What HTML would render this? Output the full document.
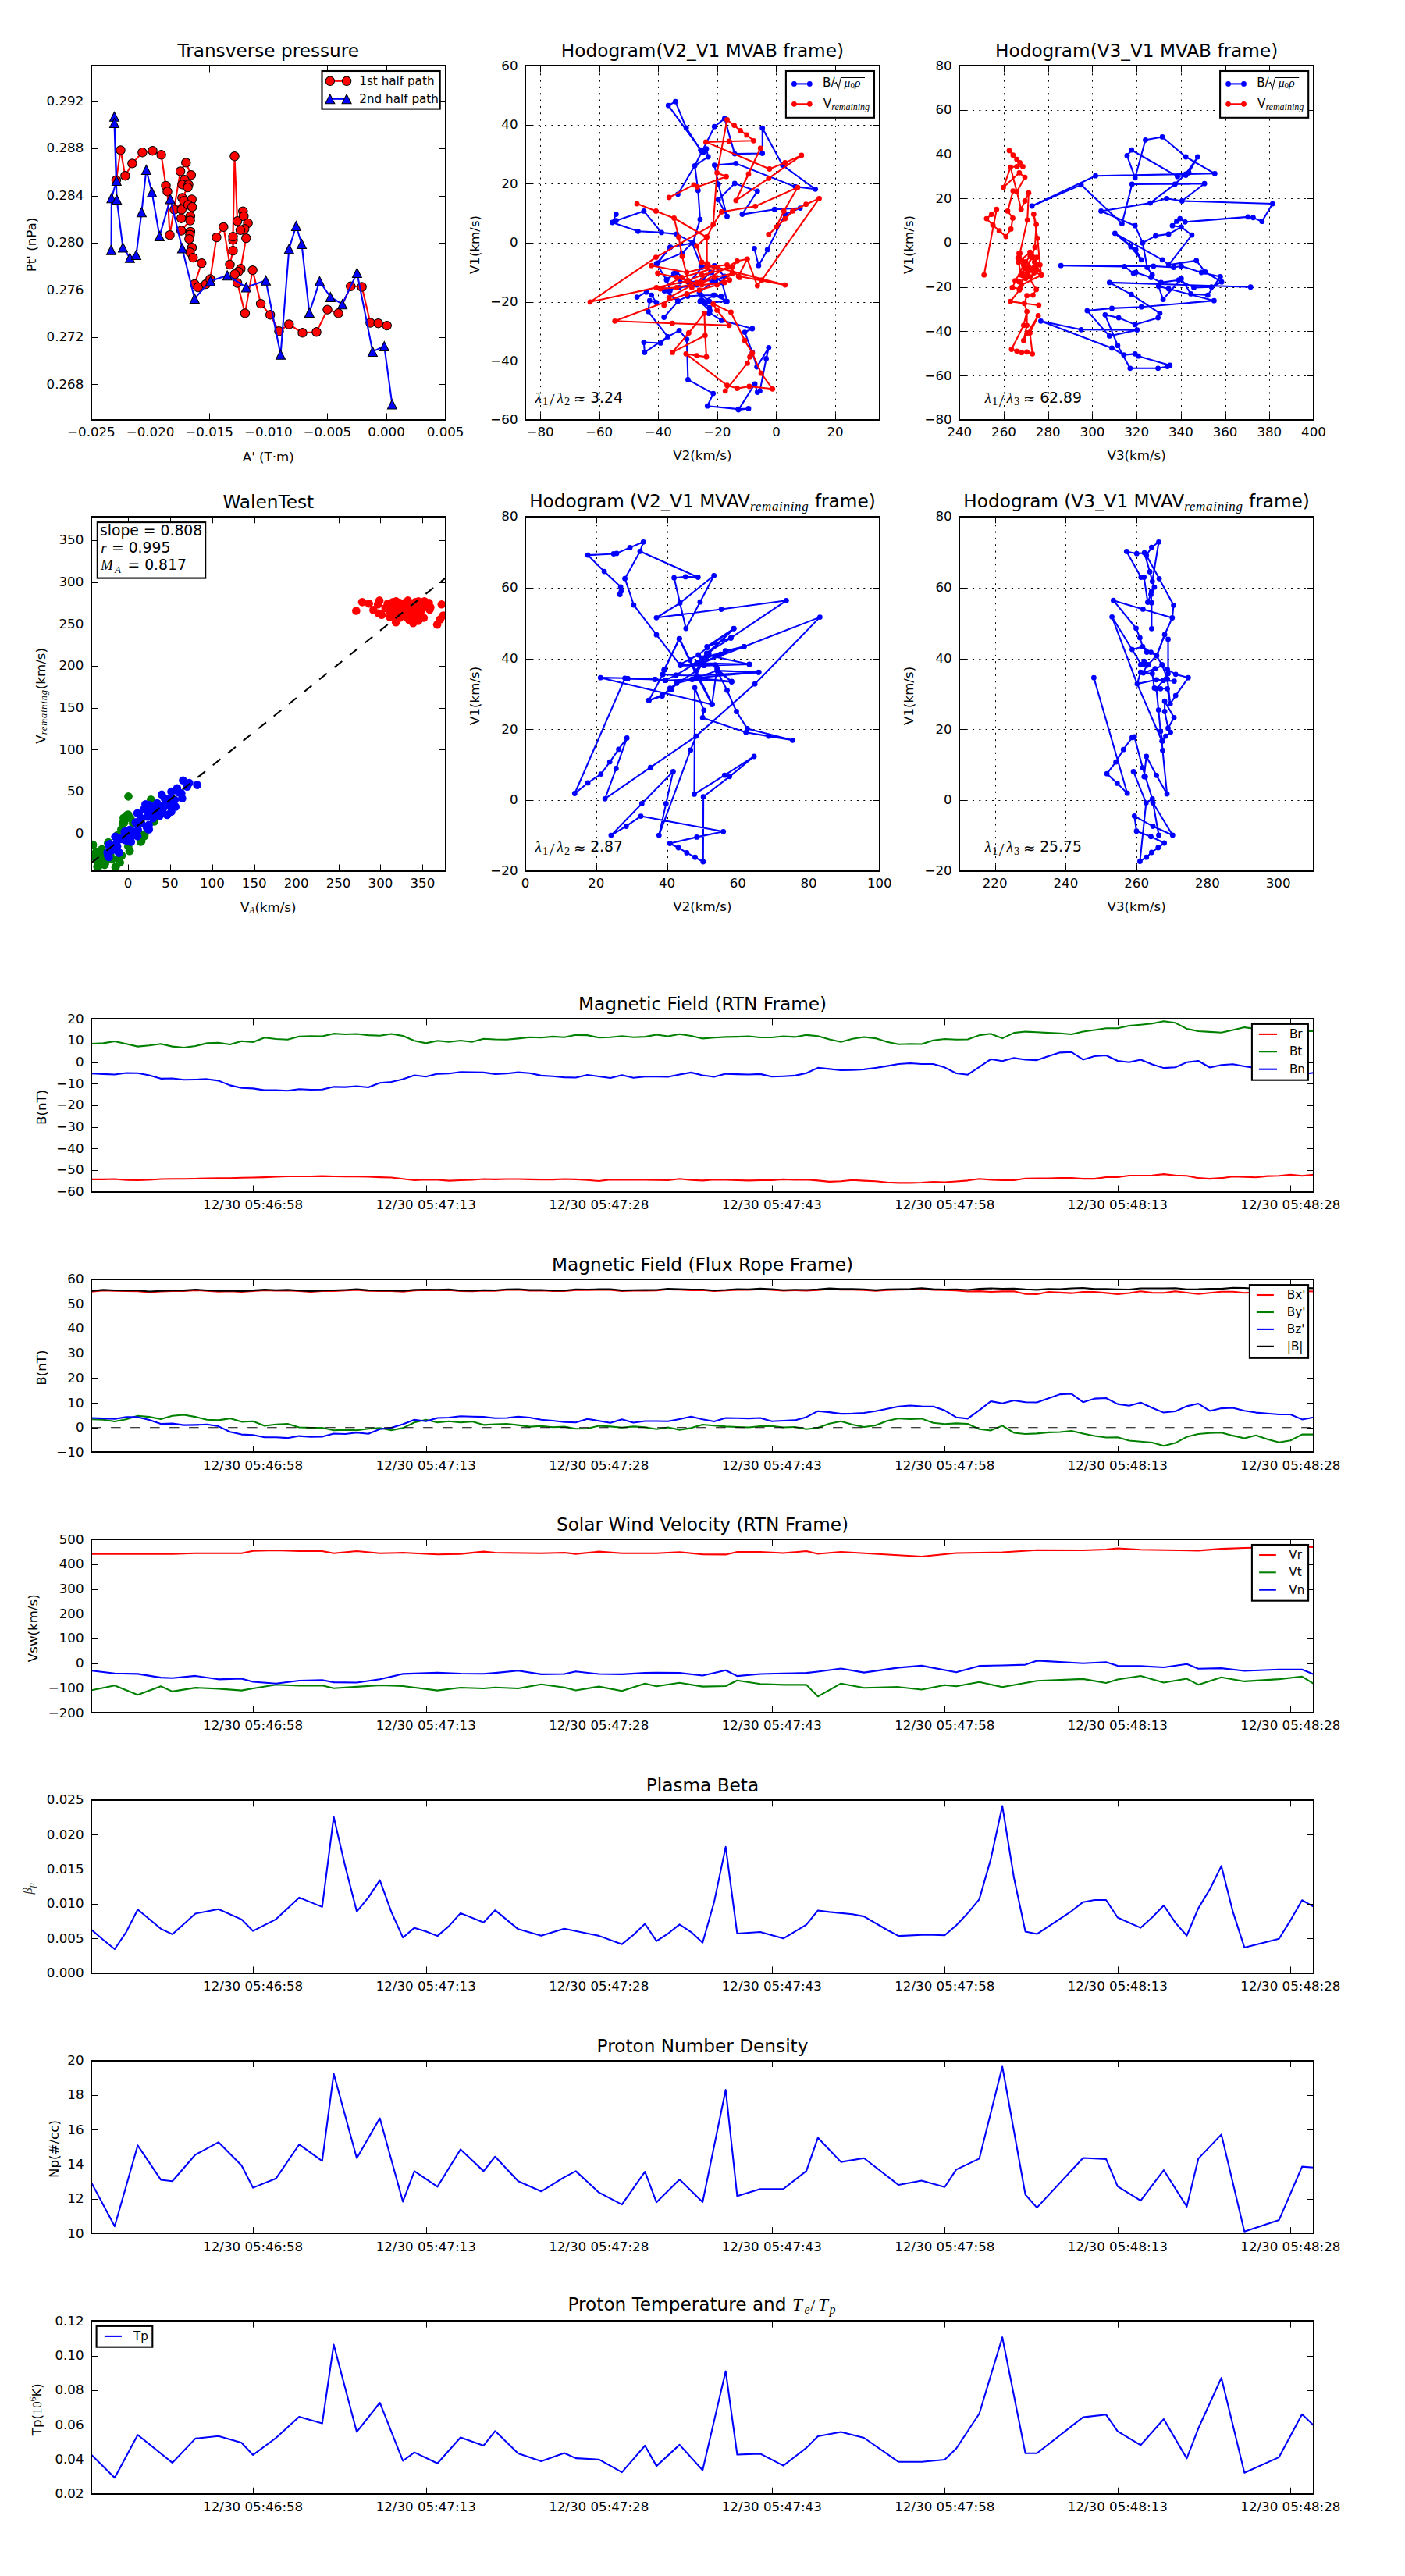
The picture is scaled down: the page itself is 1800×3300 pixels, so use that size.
<!DOCTYPE html>
<html><head><meta charset="utf-8"><style>
html,body{margin:0;padding:0;background:#fff;}
svg{display:block;}
</style></head><body>
<svg width="1800" height="3300" viewBox="0 0 1800 3300" font-family="'DejaVu Sans', 'Liberation Sans', sans-serif">
<defs><clipPath id="cA"><rect x="116.9" y="84.2" width="453.7" height="453.6"/></clipPath>
<clipPath id="cB"><rect x="673.1" y="84.2" width="453.7" height="453.6"/></clipPath>
<clipPath id="cC"><rect x="1229.3" y="84.2" width="453.7" height="453.6"/></clipPath>
<clipPath id="cD"><rect x="116.9" y="662" width="453.7" height="453.8"/></clipPath>
<clipPath id="cE"><rect x="673.1" y="662" width="453.7" height="453.8"/></clipPath>
<clipPath id="cF"><rect x="1229.3" y="662" width="453.7" height="453.8"/></clipPath>
<clipPath id="cT1"><rect x="117.1" y="1305.1" width="1565.8" height="221.7"/></clipPath>
<clipPath id="cT2"><rect x="117.1" y="1638.75" width="1565.8" height="221.7"/></clipPath>
<clipPath id="cT3"><rect x="117.1" y="1972.4" width="1565.8" height="221.7"/></clipPath>
<clipPath id="cT4"><rect x="117.1" y="2306.05" width="1565.8" height="221.7"/></clipPath>
<clipPath id="cT5"><rect x="117.1" y="2639.7" width="1565.8" height="221.7"/></clipPath>
<clipPath id="cT6"><rect x="117.1" y="2973.35" width="1565.8" height="221.7"/></clipPath></defs>
<rect width="1800" height="3300" fill="#fff"/>
<line x1="692.5" y1="537.8" x2="692.5" y2="84.2" stroke="#000" stroke-width="1" stroke-dasharray="2.08,6.25"/>
<line x1="768.5" y1="537.8" x2="768.5" y2="84.2" stroke="#000" stroke-width="1" stroke-dasharray="2.08,6.25"/>
<line x1="843.5" y1="537.8" x2="843.5" y2="84.2" stroke="#000" stroke-width="1" stroke-dasharray="2.08,6.25"/>
<line x1="919.5" y1="537.8" x2="919.5" y2="84.2" stroke="#000" stroke-width="1" stroke-dasharray="2.08,6.25"/>
<line x1="994.5" y1="537.8" x2="994.5" y2="84.2" stroke="#000" stroke-width="1" stroke-dasharray="2.08,6.25"/>
<line x1="1070.5" y1="537.8" x2="1070.5" y2="84.2" stroke="#000" stroke-width="1" stroke-dasharray="2.08,6.25"/>
<line x1="673.1" y1="462.5" x2="1126.8" y2="462.5" stroke="#000" stroke-width="1" stroke-dasharray="2.08,6.25"/>
<line x1="673.1" y1="387.5" x2="1126.8" y2="387.5" stroke="#000" stroke-width="1" stroke-dasharray="2.08,6.25"/>
<line x1="673.1" y1="311.5" x2="1126.8" y2="311.5" stroke="#000" stroke-width="1" stroke-dasharray="2.08,6.25"/>
<line x1="673.1" y1="235.5" x2="1126.8" y2="235.5" stroke="#000" stroke-width="1" stroke-dasharray="2.08,6.25"/>
<line x1="673.1" y1="160.5" x2="1126.8" y2="160.5" stroke="#000" stroke-width="1" stroke-dasharray="2.08,6.25"/>
<line x1="1286.5" y1="537.8" x2="1286.5" y2="84.2" stroke="#000" stroke-width="1" stroke-dasharray="2.08,6.25"/>
<line x1="1343.5" y1="537.8" x2="1343.5" y2="84.2" stroke="#000" stroke-width="1" stroke-dasharray="2.08,6.25"/>
<line x1="1399.5" y1="537.8" x2="1399.5" y2="84.2" stroke="#000" stroke-width="1" stroke-dasharray="2.08,6.25"/>
<line x1="1456.5" y1="537.8" x2="1456.5" y2="84.2" stroke="#000" stroke-width="1" stroke-dasharray="2.08,6.25"/>
<line x1="1513.5" y1="537.8" x2="1513.5" y2="84.2" stroke="#000" stroke-width="1" stroke-dasharray="2.08,6.25"/>
<line x1="1570.5" y1="537.8" x2="1570.5" y2="84.2" stroke="#000" stroke-width="1" stroke-dasharray="2.08,6.25"/>
<line x1="1626.5" y1="537.8" x2="1626.5" y2="84.2" stroke="#000" stroke-width="1" stroke-dasharray="2.08,6.25"/>
<line x1="1229.3" y1="481.5" x2="1683" y2="481.5" stroke="#000" stroke-width="1" stroke-dasharray="2.08,6.25"/>
<line x1="1229.3" y1="424.5" x2="1683" y2="424.5" stroke="#000" stroke-width="1" stroke-dasharray="2.08,6.25"/>
<line x1="1229.3" y1="368.5" x2="1683" y2="368.5" stroke="#000" stroke-width="1" stroke-dasharray="2.08,6.25"/>
<line x1="1229.3" y1="311.5" x2="1683" y2="311.5" stroke="#000" stroke-width="1" stroke-dasharray="2.08,6.25"/>
<line x1="1229.3" y1="254.5" x2="1683" y2="254.5" stroke="#000" stroke-width="1" stroke-dasharray="2.08,6.25"/>
<line x1="1229.3" y1="198.5" x2="1683" y2="198.5" stroke="#000" stroke-width="1" stroke-dasharray="2.08,6.25"/>
<line x1="1229.3" y1="141.5" x2="1683" y2="141.5" stroke="#000" stroke-width="1" stroke-dasharray="2.08,6.25"/>
<line x1="764.5" y1="1115.8" x2="764.5" y2="662" stroke="#000" stroke-width="1" stroke-dasharray="2.08,6.25"/>
<line x1="855.5" y1="1115.8" x2="855.5" y2="662" stroke="#000" stroke-width="1" stroke-dasharray="2.08,6.25"/>
<line x1="945.5" y1="1115.8" x2="945.5" y2="662" stroke="#000" stroke-width="1" stroke-dasharray="2.08,6.25"/>
<line x1="1036.5" y1="1115.8" x2="1036.5" y2="662" stroke="#000" stroke-width="1" stroke-dasharray="2.08,6.25"/>
<line x1="673.1" y1="1025.5" x2="1126.8" y2="1025.5" stroke="#000" stroke-width="1" stroke-dasharray="2.08,6.25"/>
<line x1="673.1" y1="934.5" x2="1126.8" y2="934.5" stroke="#000" stroke-width="1" stroke-dasharray="2.08,6.25"/>
<line x1="673.1" y1="844.5" x2="1126.8" y2="844.5" stroke="#000" stroke-width="1" stroke-dasharray="2.08,6.25"/>
<line x1="673.1" y1="753.5" x2="1126.8" y2="753.5" stroke="#000" stroke-width="1" stroke-dasharray="2.08,6.25"/>
<line x1="1275.5" y1="1115.8" x2="1275.5" y2="662" stroke="#000" stroke-width="1" stroke-dasharray="2.08,6.25"/>
<line x1="1365.5" y1="1115.8" x2="1365.5" y2="662" stroke="#000" stroke-width="1" stroke-dasharray="2.08,6.25"/>
<line x1="1456.5" y1="1115.8" x2="1456.5" y2="662" stroke="#000" stroke-width="1" stroke-dasharray="2.08,6.25"/>
<line x1="1547.5" y1="1115.8" x2="1547.5" y2="662" stroke="#000" stroke-width="1" stroke-dasharray="2.08,6.25"/>
<line x1="1638.5" y1="1115.8" x2="1638.5" y2="662" stroke="#000" stroke-width="1" stroke-dasharray="2.08,6.25"/>
<line x1="1229.3" y1="1025.5" x2="1683" y2="1025.5" stroke="#000" stroke-width="1" stroke-dasharray="2.08,6.25"/>
<line x1="1229.3" y1="934.5" x2="1683" y2="934.5" stroke="#000" stroke-width="1" stroke-dasharray="2.08,6.25"/>
<line x1="1229.3" y1="844.5" x2="1683" y2="844.5" stroke="#000" stroke-width="1" stroke-dasharray="2.08,6.25"/>
<line x1="1229.3" y1="753.5" x2="1683" y2="753.5" stroke="#000" stroke-width="1" stroke-dasharray="2.08,6.25"/>
<g clip-path="url(#cA)">
<polyline points="148.9,230.8 154.5,192.4 160.4,225.2 169.4,209.4 182.4,195.3 195.5,193.2 206.6,198.3 212.5,238 214.5,245.4 217.5,301.2 231.1,219.4 238.3,208.4 244.8,224.2 236.4,230.3 233.4,236.4 241.5,236.4 240.6,240.1 233.4,253.4 245.7,255.5 235.5,257.3 223.4,268.5 232.7,268.5 241.1,262.4 246.2,265.2 243.9,276.9 232.2,279.7 243.6,282.5 232.2,295.5 243.9,296.9 243.4,300.7 242.4,306.2 245.9,317.2 243.4,323.1 247.3,330.1 258.3,337.1 249.3,364 253.8,368 263.8,364 269.3,357.5 277.4,304.1 286.3,290.9 294.5,339 298.5,321.2 298.5,307.4 298.5,303.1 300.5,200.2 304.1,283.3 311.3,270.8 312.3,277 317.6,285.9 313.3,293.2 308,294.8 315.3,305.1 308.4,344.3 305.4,347.9 300.8,351.2 304.1,362.5 313.9,401.4 323.6,346.1 334.1,389.1 346.2,403.3 357.5,424.3 370.3,415.5 387.5,426.3 405.5,425.3 419.5,396.6 433.5,401.3 449.3,366.8 463.6,367.5 474.4,413.5 484.6,414.2 495.7,417.1" fill="none" stroke="#ff0000" stroke-width="2.08" stroke-linejoin="round" stroke-linecap="butt"/>
<circle cx="148.9" cy="230.8" r="5.7" fill="#ff0000" stroke="#000" stroke-width="1.04"/>
<circle cx="154.5" cy="192.4" r="5.7" fill="#ff0000" stroke="#000" stroke-width="1.04"/>
<circle cx="160.4" cy="225.2" r="5.7" fill="#ff0000" stroke="#000" stroke-width="1.04"/>
<circle cx="169.4" cy="209.4" r="5.7" fill="#ff0000" stroke="#000" stroke-width="1.04"/>
<circle cx="182.4" cy="195.3" r="5.7" fill="#ff0000" stroke="#000" stroke-width="1.04"/>
<circle cx="195.5" cy="193.2" r="5.7" fill="#ff0000" stroke="#000" stroke-width="1.04"/>
<circle cx="206.6" cy="198.3" r="5.7" fill="#ff0000" stroke="#000" stroke-width="1.04"/>
<circle cx="212.5" cy="238" r="5.7" fill="#ff0000" stroke="#000" stroke-width="1.04"/>
<circle cx="214.5" cy="245.4" r="5.7" fill="#ff0000" stroke="#000" stroke-width="1.04"/>
<circle cx="217.5" cy="301.2" r="5.7" fill="#ff0000" stroke="#000" stroke-width="1.04"/>
<circle cx="231.1" cy="219.4" r="5.7" fill="#ff0000" stroke="#000" stroke-width="1.04"/>
<circle cx="238.3" cy="208.4" r="5.7" fill="#ff0000" stroke="#000" stroke-width="1.04"/>
<circle cx="244.8" cy="224.2" r="5.7" fill="#ff0000" stroke="#000" stroke-width="1.04"/>
<circle cx="236.4" cy="230.3" r="5.7" fill="#ff0000" stroke="#000" stroke-width="1.04"/>
<circle cx="233.4" cy="236.4" r="5.7" fill="#ff0000" stroke="#000" stroke-width="1.04"/>
<circle cx="241.5" cy="236.4" r="5.7" fill="#ff0000" stroke="#000" stroke-width="1.04"/>
<circle cx="240.6" cy="240.1" r="5.7" fill="#ff0000" stroke="#000" stroke-width="1.04"/>
<circle cx="233.4" cy="253.4" r="5.7" fill="#ff0000" stroke="#000" stroke-width="1.04"/>
<circle cx="245.7" cy="255.5" r="5.7" fill="#ff0000" stroke="#000" stroke-width="1.04"/>
<circle cx="235.5" cy="257.3" r="5.7" fill="#ff0000" stroke="#000" stroke-width="1.04"/>
<circle cx="223.4" cy="268.5" r="5.7" fill="#ff0000" stroke="#000" stroke-width="1.04"/>
<circle cx="232.7" cy="268.5" r="5.7" fill="#ff0000" stroke="#000" stroke-width="1.04"/>
<circle cx="241.1" cy="262.4" r="5.7" fill="#ff0000" stroke="#000" stroke-width="1.04"/>
<circle cx="246.2" cy="265.2" r="5.7" fill="#ff0000" stroke="#000" stroke-width="1.04"/>
<circle cx="243.9" cy="276.9" r="5.7" fill="#ff0000" stroke="#000" stroke-width="1.04"/>
<circle cx="232.2" cy="279.7" r="5.7" fill="#ff0000" stroke="#000" stroke-width="1.04"/>
<circle cx="243.6" cy="282.5" r="5.7" fill="#ff0000" stroke="#000" stroke-width="1.04"/>
<circle cx="232.2" cy="295.5" r="5.7" fill="#ff0000" stroke="#000" stroke-width="1.04"/>
<circle cx="243.9" cy="296.9" r="5.7" fill="#ff0000" stroke="#000" stroke-width="1.04"/>
<circle cx="243.4" cy="300.7" r="5.7" fill="#ff0000" stroke="#000" stroke-width="1.04"/>
<circle cx="242.4" cy="306.2" r="5.7" fill="#ff0000" stroke="#000" stroke-width="1.04"/>
<circle cx="245.9" cy="317.2" r="5.7" fill="#ff0000" stroke="#000" stroke-width="1.04"/>
<circle cx="243.4" cy="323.1" r="5.7" fill="#ff0000" stroke="#000" stroke-width="1.04"/>
<circle cx="247.3" cy="330.1" r="5.7" fill="#ff0000" stroke="#000" stroke-width="1.04"/>
<circle cx="258.3" cy="337.1" r="5.7" fill="#ff0000" stroke="#000" stroke-width="1.04"/>
<circle cx="249.3" cy="364" r="5.7" fill="#ff0000" stroke="#000" stroke-width="1.04"/>
<circle cx="253.8" cy="368" r="5.7" fill="#ff0000" stroke="#000" stroke-width="1.04"/>
<circle cx="263.8" cy="364" r="5.7" fill="#ff0000" stroke="#000" stroke-width="1.04"/>
<circle cx="269.3" cy="357.5" r="5.7" fill="#ff0000" stroke="#000" stroke-width="1.04"/>
<circle cx="277.4" cy="304.1" r="5.7" fill="#ff0000" stroke="#000" stroke-width="1.04"/>
<circle cx="286.3" cy="290.9" r="5.7" fill="#ff0000" stroke="#000" stroke-width="1.04"/>
<circle cx="294.5" cy="339" r="5.7" fill="#ff0000" stroke="#000" stroke-width="1.04"/>
<circle cx="298.5" cy="321.2" r="5.7" fill="#ff0000" stroke="#000" stroke-width="1.04"/>
<circle cx="298.5" cy="307.4" r="5.7" fill="#ff0000" stroke="#000" stroke-width="1.04"/>
<circle cx="298.5" cy="303.1" r="5.7" fill="#ff0000" stroke="#000" stroke-width="1.04"/>
<circle cx="300.5" cy="200.2" r="5.7" fill="#ff0000" stroke="#000" stroke-width="1.04"/>
<circle cx="304.1" cy="283.3" r="5.7" fill="#ff0000" stroke="#000" stroke-width="1.04"/>
<circle cx="311.3" cy="270.8" r="5.7" fill="#ff0000" stroke="#000" stroke-width="1.04"/>
<circle cx="312.3" cy="277" r="5.7" fill="#ff0000" stroke="#000" stroke-width="1.04"/>
<circle cx="317.6" cy="285.9" r="5.7" fill="#ff0000" stroke="#000" stroke-width="1.04"/>
<circle cx="313.3" cy="293.2" r="5.7" fill="#ff0000" stroke="#000" stroke-width="1.04"/>
<circle cx="308" cy="294.8" r="5.7" fill="#ff0000" stroke="#000" stroke-width="1.04"/>
<circle cx="315.3" cy="305.1" r="5.7" fill="#ff0000" stroke="#000" stroke-width="1.04"/>
<circle cx="308.4" cy="344.3" r="5.7" fill="#ff0000" stroke="#000" stroke-width="1.04"/>
<circle cx="305.4" cy="347.9" r="5.7" fill="#ff0000" stroke="#000" stroke-width="1.04"/>
<circle cx="300.8" cy="351.2" r="5.7" fill="#ff0000" stroke="#000" stroke-width="1.04"/>
<circle cx="304.1" cy="362.5" r="5.7" fill="#ff0000" stroke="#000" stroke-width="1.04"/>
<circle cx="313.9" cy="401.4" r="5.7" fill="#ff0000" stroke="#000" stroke-width="1.04"/>
<circle cx="323.6" cy="346.1" r="5.7" fill="#ff0000" stroke="#000" stroke-width="1.04"/>
<circle cx="334.1" cy="389.1" r="5.7" fill="#ff0000" stroke="#000" stroke-width="1.04"/>
<circle cx="346.2" cy="403.3" r="5.7" fill="#ff0000" stroke="#000" stroke-width="1.04"/>
<circle cx="357.5" cy="424.3" r="5.7" fill="#ff0000" stroke="#000" stroke-width="1.04"/>
<circle cx="370.3" cy="415.5" r="5.7" fill="#ff0000" stroke="#000" stroke-width="1.04"/>
<circle cx="387.5" cy="426.3" r="5.7" fill="#ff0000" stroke="#000" stroke-width="1.04"/>
<circle cx="405.5" cy="425.3" r="5.7" fill="#ff0000" stroke="#000" stroke-width="1.04"/>
<circle cx="419.5" cy="396.6" r="5.7" fill="#ff0000" stroke="#000" stroke-width="1.04"/>
<circle cx="433.5" cy="401.3" r="5.7" fill="#ff0000" stroke="#000" stroke-width="1.04"/>
<circle cx="449.3" cy="366.8" r="5.7" fill="#ff0000" stroke="#000" stroke-width="1.04"/>
<circle cx="463.6" cy="367.5" r="5.7" fill="#ff0000" stroke="#000" stroke-width="1.04"/>
<circle cx="474.4" cy="413.5" r="5.7" fill="#ff0000" stroke="#000" stroke-width="1.04"/>
<circle cx="484.6" cy="414.2" r="5.7" fill="#ff0000" stroke="#000" stroke-width="1.04"/>
<circle cx="495.7" cy="417.1" r="5.7" fill="#ff0000" stroke="#000" stroke-width="1.04"/>
<polyline points="142.5,320.3 142.9,253.7 149.3,231.6 146.5,149.3 146.5,157.6 149.6,255.5 157.5,317.1 166.4,330.3 174.5,326.6 181.4,271.8 187.4,217.5 194.6,246.2 204.4,302.5 218.2,254.9 233.4,318 249.3,382.4 269.6,360 291.2,352.8 315.4,368 340.5,359.2 359.5,454.3 370.3,318.8 379.4,289.5 386.5,312.5 396.3,400.6 409.5,360.3 423.3,380.5 438.6,389.7 457.4,349.5 477.4,450.4 492.3,443.5 502.4,517.9" fill="none" stroke="#0000ff" stroke-width="2.08" stroke-linejoin="round" stroke-linecap="butt"/>
<path d="M142.5,314.3 L136.5,326.3 L148.5,326.3 Z" fill="#0000ff" stroke="#000" stroke-width="1.04" stroke-linejoin="miter"/>
<path d="M142.9,247.7 L136.9,259.7 L148.9,259.7 Z" fill="#0000ff" stroke="#000" stroke-width="1.04" stroke-linejoin="miter"/>
<path d="M149.3,225.6 L143.3,237.6 L155.3,237.6 Z" fill="#0000ff" stroke="#000" stroke-width="1.04" stroke-linejoin="miter"/>
<path d="M146.5,143.3 L140.5,155.3 L152.5,155.3 Z" fill="#0000ff" stroke="#000" stroke-width="1.04" stroke-linejoin="miter"/>
<path d="M146.5,151.6 L140.5,163.6 L152.5,163.6 Z" fill="#0000ff" stroke="#000" stroke-width="1.04" stroke-linejoin="miter"/>
<path d="M149.6,249.5 L143.6,261.5 L155.6,261.5 Z" fill="#0000ff" stroke="#000" stroke-width="1.04" stroke-linejoin="miter"/>
<path d="M157.5,311.1 L151.5,323.1 L163.5,323.1 Z" fill="#0000ff" stroke="#000" stroke-width="1.04" stroke-linejoin="miter"/>
<path d="M166.4,324.3 L160.4,336.3 L172.4,336.3 Z" fill="#0000ff" stroke="#000" stroke-width="1.04" stroke-linejoin="miter"/>
<path d="M174.5,320.6 L168.5,332.6 L180.5,332.6 Z" fill="#0000ff" stroke="#000" stroke-width="1.04" stroke-linejoin="miter"/>
<path d="M181.4,265.8 L175.4,277.8 L187.4,277.8 Z" fill="#0000ff" stroke="#000" stroke-width="1.04" stroke-linejoin="miter"/>
<path d="M187.4,211.5 L181.4,223.5 L193.4,223.5 Z" fill="#0000ff" stroke="#000" stroke-width="1.04" stroke-linejoin="miter"/>
<path d="M194.6,240.2 L188.6,252.2 L200.6,252.2 Z" fill="#0000ff" stroke="#000" stroke-width="1.04" stroke-linejoin="miter"/>
<path d="M204.4,296.5 L198.4,308.5 L210.4,308.5 Z" fill="#0000ff" stroke="#000" stroke-width="1.04" stroke-linejoin="miter"/>
<path d="M218.2,248.9 L212.2,260.9 L224.2,260.9 Z" fill="#0000ff" stroke="#000" stroke-width="1.04" stroke-linejoin="miter"/>
<path d="M233.4,312 L227.4,324 L239.4,324 Z" fill="#0000ff" stroke="#000" stroke-width="1.04" stroke-linejoin="miter"/>
<path d="M249.3,376.4 L243.3,388.4 L255.3,388.4 Z" fill="#0000ff" stroke="#000" stroke-width="1.04" stroke-linejoin="miter"/>
<path d="M269.6,354 L263.6,366 L275.6,366 Z" fill="#0000ff" stroke="#000" stroke-width="1.04" stroke-linejoin="miter"/>
<path d="M291.2,346.8 L285.2,358.8 L297.2,358.8 Z" fill="#0000ff" stroke="#000" stroke-width="1.04" stroke-linejoin="miter"/>
<path d="M315.4,362 L309.4,374 L321.4,374 Z" fill="#0000ff" stroke="#000" stroke-width="1.04" stroke-linejoin="miter"/>
<path d="M340.5,353.2 L334.5,365.2 L346.5,365.2 Z" fill="#0000ff" stroke="#000" stroke-width="1.04" stroke-linejoin="miter"/>
<path d="M359.5,448.3 L353.5,460.3 L365.5,460.3 Z" fill="#0000ff" stroke="#000" stroke-width="1.04" stroke-linejoin="miter"/>
<path d="M370.3,312.8 L364.3,324.8 L376.3,324.8 Z" fill="#0000ff" stroke="#000" stroke-width="1.04" stroke-linejoin="miter"/>
<path d="M379.4,283.5 L373.4,295.5 L385.4,295.5 Z" fill="#0000ff" stroke="#000" stroke-width="1.04" stroke-linejoin="miter"/>
<path d="M386.5,306.5 L380.5,318.5 L392.5,318.5 Z" fill="#0000ff" stroke="#000" stroke-width="1.04" stroke-linejoin="miter"/>
<path d="M396.3,394.6 L390.3,406.6 L402.3,406.6 Z" fill="#0000ff" stroke="#000" stroke-width="1.04" stroke-linejoin="miter"/>
<path d="M409.5,354.3 L403.5,366.3 L415.5,366.3 Z" fill="#0000ff" stroke="#000" stroke-width="1.04" stroke-linejoin="miter"/>
<path d="M423.3,374.5 L417.3,386.5 L429.3,386.5 Z" fill="#0000ff" stroke="#000" stroke-width="1.04" stroke-linejoin="miter"/>
<path d="M438.6,383.7 L432.6,395.7 L444.6,395.7 Z" fill="#0000ff" stroke="#000" stroke-width="1.04" stroke-linejoin="miter"/>
<path d="M457.4,343.5 L451.4,355.5 L463.4,355.5 Z" fill="#0000ff" stroke="#000" stroke-width="1.04" stroke-linejoin="miter"/>
<path d="M477.4,444.4 L471.4,456.4 L483.4,456.4 Z" fill="#0000ff" stroke="#000" stroke-width="1.04" stroke-linejoin="miter"/>
<path d="M492.3,437.5 L486.3,449.5 L498.3,449.5 Z" fill="#0000ff" stroke="#000" stroke-width="1.04" stroke-linejoin="miter"/>
<path d="M502.4,511.9 L496.4,523.9 L508.4,523.9 Z" fill="#0000ff" stroke="#000" stroke-width="1.04" stroke-linejoin="miter"/>
</g>
<g clip-path="url(#cT1)">
<polyline points="117.4,1510.84 132.16,1510.84 146.93,1510.53 161.7,1511.74 176.47,1512.04 191.24,1511.44 206.01,1510.53 220.78,1510.23 235.55,1510.23 250.32,1509.93 265.08,1509.63 279.85,1509.33 294.62,1509.33 309.39,1508.73 324.16,1508.43 338.93,1508.12 353.7,1507.52 368.47,1506.92 383.24,1506.92 398,1506.92 412.77,1506.62 427.54,1506.92 442.31,1507.22 457.08,1507.22 471.85,1507.52 486.62,1508.12 501.39,1508.43 516.16,1510.23 530.92,1512.04 545.69,1511.14 560.46,1511.44 575.23,1512.64 590,1512.04 604.77,1511.44 619.54,1510.53 634.31,1510.84 649.08,1510.53 663.85,1510.53 678.61,1510.84 693.38,1511.14 708.15,1511.14 722.92,1510.53 737.69,1510.84 752.46,1511.74 767.23,1512.94 782,1511.14 796.77,1511.44 811.53,1511.44 826.3,1511.44 841.07,1511.74 855.84,1512.04 870.61,1510.23 885.38,1511.74 900.15,1512.34 914.92,1511.14 929.69,1511.44 944.45,1512.04 959.22,1512.34 973.99,1512.04 988.76,1512.04 1003.53,1510.84 1018.3,1511.44 1033.07,1511.14 1047.84,1512.34 1062.61,1513.85 1077.37,1513.24 1092.14,1511.74 1106.91,1512.64 1121.68,1513.24 1136.45,1514.75 1151.22,1515.35 1165.99,1515.35 1180.76,1515.05 1195.53,1514.15 1210.29,1514.45 1225.06,1513.55 1239.83,1512.34 1254.6,1510.23 1269.37,1511.37 1284.14,1512 1298.91,1512 1313.68,1509.79 1328.45,1509.48 1343.22,1509.48 1357.98,1509.16 1372.75,1509.16 1387.52,1510.11 1402.29,1510.11 1417.06,1507.91 1431.83,1507.91 1446.6,1506.02 1461.37,1506.02 1476.14,1505.7 1490.9,1504.13 1505.67,1505.7 1520.44,1506.33 1535.21,1509.16 1549.98,1510.11 1564.75,1509.16 1579.52,1507.28 1594.29,1507.59 1609.06,1508.22 1623.82,1506.65 1638.59,1506.33 1653.36,1504.76 1668.13,1506.33 1682.9,1504.76" fill="none" stroke="#ff0000" stroke-width="2.08" stroke-linejoin="round" stroke-linecap="butt"/>
<polyline points="117.4,1336.93 132.16,1336.37 146.93,1334.09 161.7,1337.22 176.47,1340.63 191.24,1339.21 206.01,1337.22 220.78,1340.63 235.55,1342.05 250.32,1340.06 265.08,1336.37 279.85,1335.8 294.62,1338.07 309.39,1333.81 324.16,1334.94 338.93,1329.26 353.7,1330.96 368.47,1331.82 383.24,1327.84 398,1327.27 412.77,1327.55 427.54,1324.14 442.31,1325 457.08,1324.43 471.85,1326.13 486.62,1326.7 501.39,1324.43 516.16,1326.99 530.92,1333.24 545.69,1336.37 560.46,1333.24 575.23,1334.66 590,1332.95 604.77,1334.66 619.54,1330.68 634.31,1331.53 649.08,1331.82 663.85,1330.4 678.61,1328.69 693.38,1329.26 708.15,1327.84 722.92,1328.69 737.69,1325.85 752.46,1326.13 767.23,1329.26 782,1328.69 796.77,1327.27 811.53,1328.69 826.3,1328.12 841.07,1325.56 855.84,1327.55 870.61,1324.71 885.38,1326.99 900.15,1330.4 914.92,1329.26 929.69,1328.41 944.45,1328.12 959.22,1327.55 973.99,1328.98 988.76,1328.98 1003.53,1327.55 1018.3,1328.41 1033.07,1325.85 1047.84,1327.27 1062.61,1331.53 1077.37,1334.66 1092.14,1330.68 1106.91,1328.41 1121.68,1330.11 1136.45,1334.66 1151.22,1337.79 1165.99,1337.22 1180.76,1337.5 1195.53,1332.67 1210.29,1330.96 1225.06,1331.82 1239.83,1331.53 1254.6,1326.13 1269.37,1324.33 1284.14,1330.11 1298.91,1323.11 1313.68,1321.59 1328.45,1322.2 1343.22,1323.11 1357.98,1323.72 1372.75,1324.93 1387.52,1321.59 1402.29,1319.46 1417.06,1317.33 1431.83,1317.33 1446.6,1313.98 1461.37,1312.77 1476.14,1311.24 1490.9,1308.2 1505.67,1310.33 1520.44,1317.94 1535.21,1320.98 1549.98,1321.89 1564.75,1322.8 1579.52,1319.46 1594.29,1316.11 1609.06,1317.94 1623.82,1318.85 1638.59,1320.07 1653.36,1321.28 1668.13,1320.98 1682.9,1320.98" fill="none" stroke="#008000" stroke-width="2.08" stroke-linejoin="round" stroke-linecap="butt"/>
<polyline points="117.4,1375.3 132.16,1375.87 146.93,1376.44 161.7,1374.45 176.47,1374.74 191.24,1377.58 206.01,1381.84 220.78,1381.56 235.55,1383.26 250.32,1382.98 265.08,1382.41 279.85,1384.4 294.62,1390.37 309.39,1393.78 324.16,1394.35 338.93,1396.62 353.7,1396.62 368.47,1397.19 383.24,1395.2 398,1396.05 412.77,1395.77 427.54,1392.36 442.31,1392.64 457.08,1391.51 471.85,1392.93 486.62,1387.24 501.39,1386.11 516.16,1382.41 530.92,1377.58 545.69,1379.28 560.46,1375.59 575.23,1375.3 590,1373.32 604.77,1373.6 619.54,1373.88 634.31,1375.87 649.08,1375.3 663.85,1373.6 678.61,1374.74 693.38,1377.86 708.15,1378.72 722.92,1380.14 737.69,1380.42 752.46,1377.01 767.23,1379 782,1380.99 796.77,1377.29 811.53,1380.71 826.3,1379.28 841.07,1379.28 855.84,1379.57 870.61,1376.44 885.38,1373.88 900.15,1377.58 914.92,1379.57 929.69,1375.59 944.45,1376.16 959.22,1376.44 973.99,1375.87 988.76,1379.28 1003.53,1378.72 1018.3,1377.86 1033.07,1374.74 1047.84,1367.91 1062.61,1369.34 1077.37,1371.04 1092.14,1370.76 1106.91,1369.9 1121.68,1367.91 1136.45,1365.64 1151.22,1363.08 1165.99,1361.95 1180.76,1363.08 1195.53,1363.08 1210.29,1367.35 1225.06,1375.02 1239.83,1376.73 1254.6,1366.78 1269.37,1356.87 1284.14,1359.31 1298.91,1355.35 1313.68,1357.48 1328.45,1358.09 1343.22,1352.92 1357.98,1348.36 1372.75,1347.75 1387.52,1357.48 1402.29,1352.92 1417.06,1352.01 1431.83,1359 1446.6,1360.83 1461.37,1357.48 1476.14,1363.57 1490.9,1368.13 1505.67,1367.22 1520.44,1360.83 1535.21,1359 1549.98,1367.52 1564.75,1364.18 1579.52,1363.26 1594.29,1366 1609.06,1368.13 1623.82,1368.74 1638.59,1368.74 1653.36,1369.96 1668.13,1376.34 1682.9,1374.21" fill="none" stroke="#0000ff" stroke-width="2.08" stroke-linejoin="round" stroke-linecap="butt"/>
<line x1="117.1" y1="1360.52" x2="1682.9" y2="1360.52" stroke="#000" stroke-width="1.04" stroke-dasharray="12.5,12.5"/>
</g>
<g clip-path="url(#cT2)">
<polyline points="117.4,1654.63 132.16,1653.16 146.93,1653.74 161.7,1653.91 176.47,1654.09 191.24,1655.36 206.01,1654.53 220.78,1653.91 235.55,1653.89 250.32,1652.84 265.08,1653.76 279.85,1654.59 294.62,1654.25 309.39,1654.89 324.16,1653.89 338.93,1652.89 353.7,1653.54 368.47,1653.2 383.24,1654.03 398,1654.95 412.77,1653.89 427.54,1653.87 442.31,1653.26 457.08,1652.43 471.85,1653.7 486.62,1653.88 501.39,1654.05 516.16,1654.62 530.92,1653.15 545.69,1652.83 560.46,1653.07 575.23,1652.65 590,1654.03 604.77,1654.29 619.54,1653.52 634.31,1653.73 649.08,1652.5 663.85,1652.28 678.61,1653.41 693.38,1653.22 708.15,1654.03 722.92,1654.07 737.69,1652.61 752.46,1652.78 767.23,1652.38 782,1652.38 796.77,1653.89 811.53,1653.56 826.3,1653.4 841.07,1653.32 855.84,1651.84 870.61,1652.27 885.38,1652.85 900.15,1652.78 914.92,1653.97 929.69,1653.33 944.45,1652.35 959.22,1652.54 973.99,1651.67 988.76,1652.34 1003.53,1653.48 1018.3,1652.96 1033.07,1653.36 1047.84,1652.67 1062.61,1651.43 1077.37,1652.19 1092.14,1652.14 1106.91,1652.62 1121.68,1653.7 1136.45,1652.61 1151.22,1652.28 1165.99,1652.04 1180.76,1651.12 1195.53,1652.34 1210.29,1652.83 1225.06,1653.26 1239.83,1654.48 1254.6,1654.16 1269.37,1654.97 1284.14,1654.38 1298.91,1654.3 1313.68,1657.65 1328.45,1658.03 1343.22,1655.1 1357.98,1655.86 1372.75,1656.66 1387.52,1655.12 1402.29,1655.03 1417.06,1656.41 1431.83,1657.87 1446.6,1656.43 1461.37,1654.26 1476.14,1656.14 1490.9,1656.29 1505.67,1654.19 1520.44,1656.05 1535.21,1657.71 1549.98,1656.31 1564.75,1654.81 1579.52,1654.69 1594.29,1656.18 1609.06,1655.56 1623.82,1654.49 1638.59,1657.25 1653.36,1657.27 1668.13,1654.08 1682.9,1654.45" fill="none" stroke="#ff0000" stroke-width="2.08" stroke-linejoin="round" stroke-linecap="butt"/>
<polyline points="117.4,1818.24 132.16,1818.81 146.93,1821.09 161.7,1818.24 176.47,1813.68 191.24,1815.11 206.01,1817.96 220.78,1813.68 235.55,1812.54 250.32,1815.11 265.08,1818.81 279.85,1819.38 294.62,1817.1 309.39,1821.37 324.16,1820.8 338.93,1826.5 353.7,1824.79 368.47,1823.94 383.24,1828.49 398,1829.06 412.77,1829.06 427.54,1832.2 442.31,1831.63 457.08,1832.2 471.85,1830.2 486.62,1829.35 501.39,1832.2 516.16,1829.35 530.92,1822.23 545.69,1818.81 560.46,1822.23 575.23,1820.8 590,1822.23 604.77,1821.09 619.54,1825.36 634.31,1824.51 649.08,1823.94 663.85,1825.65 678.61,1827.64 693.38,1826.78 708.15,1828.21 722.92,1827.64 737.69,1830.2 752.46,1829.92 767.23,1826.5 782,1827.35 796.77,1828.78 811.53,1827.35 826.3,1828.21 841.07,1830.77 855.84,1828.49 870.61,1831.63 885.38,1829.35 900.15,1825.08 914.92,1826.22 929.69,1827.35 944.45,1827.92 959.22,1828.49 973.99,1827.07 988.76,1826.78 1003.53,1828.49 1018.3,1827.92 1033.07,1830.77 1047.84,1829.06 1062.61,1823.65 1077.37,1820.8 1092.14,1825.08 1106.91,1827.92 1121.68,1825.93 1136.45,1820.23 1151.22,1817.1 1165.99,1817.96 1180.76,1817.39 1195.53,1822.8 1210.29,1824.22 1225.06,1823.37 1239.83,1823.94 1254.6,1830.77 1269.37,1832.43 1284.14,1826.34 1298.91,1835.48 1313.68,1837 1328.45,1836.39 1343.22,1834.87 1357.98,1834.56 1372.75,1833.04 1387.52,1836.39 1402.29,1839.44 1417.06,1841.57 1431.83,1841.26 1446.6,1845.53 1461.37,1846.75 1476.14,1847.96 1490.9,1852.23 1505.67,1848.57 1520.44,1840.66 1535.21,1837 1549.98,1835.78 1564.75,1835.17 1579.52,1839.13 1594.29,1842.48 1609.06,1838.83 1623.82,1843.7 1638.59,1847.66 1653.36,1845.22 1668.13,1837.61 1682.9,1837.61" fill="none" stroke="#008000" stroke-width="2.08" stroke-linejoin="round" stroke-linecap="butt"/>
<polyline points="117.4,1816.53 132.16,1817.1 146.93,1817.67 161.7,1815.39 176.47,1815.39 191.24,1819.09 206.01,1823.94 220.78,1823.65 235.55,1825.65 250.32,1825.36 265.08,1824.79 279.85,1827.07 294.62,1834.19 309.39,1837.61 324.16,1838.18 338.93,1841.31 353.7,1841.31 368.47,1842.16 383.24,1839.6 398,1840.74 412.77,1840.46 427.54,1836.47 442.31,1837.04 457.08,1835.33 471.85,1836.75 486.62,1830.77 501.39,1829.06 516.16,1824.51 530.92,1818.81 545.69,1820.8 560.46,1816.53 575.23,1815.96 590,1814.25 604.77,1814.82 619.54,1815.11 634.31,1816.82 649.08,1816.53 663.85,1814.82 678.61,1815.96 693.38,1818.81 708.15,1819.95 722.92,1821.66 737.69,1822.23 752.46,1817.67 767.23,1820.23 782,1822.8 796.77,1818.24 811.53,1822.51 826.3,1820.52 841.07,1820.52 855.84,1820.8 870.61,1817.96 885.38,1814.82 900.15,1818.24 914.92,1821.09 929.69,1816.53 944.45,1816.82 959.22,1817.1 973.99,1816.53 988.76,1820.8 1003.53,1819.95 1018.3,1819.38 1033.07,1815.39 1047.84,1807.7 1062.61,1809.13 1077.37,1811.12 1092.14,1810.84 1106.91,1809.98 1121.68,1807.7 1136.45,1804.85 1151.22,1801.72 1165.99,1800.58 1180.76,1801.44 1195.53,1801.72 1210.29,1806.85 1225.06,1815.68 1239.83,1817.39 1254.6,1806.56 1269.37,1794.98 1284.14,1797.72 1298.91,1794.06 1313.68,1796.19 1328.45,1796.5 1343.22,1791.32 1357.98,1786.14 1372.75,1785.53 1387.52,1796.19 1402.29,1791.63 1417.06,1791.02 1431.83,1798.63 1446.6,1800.76 1461.37,1796.8 1476.14,1803.5 1490.9,1809.59 1505.67,1808.07 1520.44,1801.37 1535.21,1798.02 1549.98,1807.46 1564.75,1804.11 1579.52,1803.5 1594.29,1807.16 1609.06,1809.59 1623.82,1810.81 1638.59,1812.03 1653.36,1812.03 1668.13,1818.42 1682.9,1815.68" fill="none" stroke="#0000ff" stroke-width="2.08" stroke-linejoin="round" stroke-linecap="butt"/>
<polyline points="117.4,1653.84 132.16,1652.37 146.93,1652.94 161.7,1653.11 176.47,1653.29 191.24,1654.57 206.01,1653.74 220.78,1653.12 235.55,1653.1 250.32,1652.05 265.08,1652.96 279.85,1653.79 294.62,1653.45 309.39,1654.1 324.16,1653.1 338.93,1652.1 353.7,1652.75 368.47,1652.41 383.24,1653.24 398,1654.16 412.77,1653.1 427.54,1653.08 442.31,1652.46 457.08,1651.63 471.85,1652.91 486.62,1653.09 501.39,1653.26 516.16,1653.83 530.92,1652.36 545.69,1652.03 560.46,1652.28 575.23,1651.86 590,1653.24 604.77,1653.5 619.54,1652.73 634.31,1652.93 649.08,1651.71 663.85,1651.49 678.61,1652.62 693.38,1652.43 708.15,1653.24 722.92,1653.28 737.69,1651.82 752.46,1651.98 767.23,1651.59 782,1651.59 796.77,1653.1 811.53,1652.77 826.3,1652.6 841.07,1652.53 855.84,1651.05 870.61,1651.48 885.38,1652.06 900.15,1651.99 914.92,1653.18 929.69,1652.54 944.45,1651.55 959.22,1651.75 973.99,1650.87 988.76,1651.54 1003.53,1652.69 1018.3,1652.17 1033.07,1652.57 1047.84,1651.87 1062.61,1650.63 1077.37,1651.4 1092.14,1651.35 1106.91,1651.83 1121.68,1652.91 1136.45,1651.82 1151.22,1651.49 1165.99,1651.24 1180.76,1650.33 1195.53,1651.55 1210.29,1652.04 1225.06,1651.83 1239.83,1652.42 1254.6,1651.11 1269.37,1650.48 1284.14,1651.07 1298.91,1650.7 1313.68,1651.83 1328.45,1652.36 1343.22,1651.3 1357.98,1651.42 1372.75,1650.53 1387.52,1650.06 1402.29,1651.39 1417.06,1651.33 1431.83,1651.74 1446.6,1652.01 1461.37,1650.45 1476.14,1650.46 1490.9,1650.48 1505.67,1650.28 1520.44,1651.78 1535.21,1651.64 1549.98,1651.06 1564.75,1651.16 1579.52,1649.8 1594.29,1650.01 1609.06,1650.96 1623.82,1650.76 1638.59,1651.73 1653.36,1651.34 1668.13,1650.04 1682.9,1650.34" fill="none" stroke="#000000" stroke-width="2.08" stroke-linejoin="round" stroke-linecap="butt"/>
<line x1="117.1" y1="1828.78" x2="1682.9" y2="1828.78" stroke="#000" stroke-width="1.04" stroke-dasharray="12.5,12.5"/>
</g>
<g clip-path="url(#cT3)"><polyline points="117.4,1990.61 220.78,1990.61 250.32,1989.82 309.39,1989.82 324.16,1986.65 353.7,1986.02 383.24,1986.97 412.77,1986.97 427.54,1989.82 457.08,1986.97 486.62,1989.82 516.16,1989.03 560.46,1991.24 590,1990.61 619.54,1987.6 634.31,1989.03 693.38,1989.82 722.92,1989.03 737.69,1990.61 767.23,1987.6 796.77,1989.82 841.07,1989.82 870.61,1988.24 900.15,1991.09 929.69,1991.4 944.45,1987.92 973.99,1987.92 1003.53,1989.5 1033.07,1986.97 1047.84,1990.45 1077.37,1987.92 1180.76,1993.94 1225.06,1989.5 1284.14,1988.55 1328.45,1985.7 1387.52,1986.02 1417.06,1985.07 1431.83,1983.58 1461.37,1985.23 1535.21,1986.37 1564.75,1984.15 1594.29,1983.01 1668.13,1981.3 1682.9,1981.9" fill="none" stroke="#ff0000" stroke-width="2.08" stroke-linejoin="round" stroke-linecap="butt"/><polyline points="117.4,2165.28 146.93,2159.26 176.47,2171.3 206.01,2160.21 220.78,2166.86 250.32,2162.11 279.85,2163.38 309.39,2165.6 324.16,2163.06 353.7,2158.31 383.24,2159.58 412.77,2159.26 427.54,2162.75 457.08,2160.84 486.62,2158.94 516.16,2160.05 560.46,2165.6 590,2162.02 619.54,2163.06 634.31,2161.76 663.85,2163.06 693.38,2157.8 722.92,2161.76 737.69,2165.44 767.23,2160.62 796.77,2166.23 826.3,2156.7 841.07,2160.34 870.61,2155.84 900.15,2160.62 929.69,2160.05 944.45,2152.74 973.99,2157.23 1003.53,2158.37 1033.07,2158.37 1047.84,2173.29 1077.37,2156.7 1106.91,2162.3 1151.22,2161.16 1180.76,2164.58 1210.29,2158.66 1225.06,2160.34 1254.6,2154.7 1284.14,2161.23 1328.45,2153.31 1387.52,2150.87 1417.06,2156.03 1431.83,2151.47 1461.37,2146.91 1490.9,2155.43 1520.44,2150.55 1535.21,2158.15 1564.75,2148.71 1594.29,2153.91 1638.59,2151.15 1668.13,2147.8 1682.9,2156.95" fill="none" stroke="#008000" stroke-width="2.08" stroke-linejoin="round" stroke-linecap="butt"/><polyline points="117.4,2140.26 146.93,2143.74 176.47,2144.38 206.01,2149.13 220.78,2149.76 250.32,2146.91 279.85,2151.34 309.39,2150.39 324.16,2154.51 353.7,2156.73 383.24,2152.93 412.77,2152.29 427.54,2155.14 457.08,2155.46 486.62,2151.34 516.16,2144.38 560.46,2142.89 590,2144 619.54,2144.28 634.31,2143.14 663.85,2140.32 693.38,2144.85 722.92,2144.57 737.69,2141.21 767.23,2144.57 796.77,2144.85 826.3,2143.14 841.07,2142.89 870.61,2143.14 900.15,2146.53 929.69,2139.78 944.45,2147.1 973.99,2144.57 1003.53,2143.71 1033.07,2143.14 1047.84,2141.46 1077.37,2137.53 1106.91,2142.6 1151.22,2136.39 1180.76,2133.86 1225.06,2142.32 1254.6,2134.15 1284.14,2133.51 1313.68,2132.59 1328.45,2127.4 1387.52,2130.76 1417.06,2129.24 1431.83,2134.11 1461.37,2134.4 1490.9,2135.92 1520.44,2131.68 1535.21,2137.76 1564.75,2137.15 1594.29,2140.51 1638.59,2138.67 1668.13,2138.67 1682.9,2144.76" fill="none" stroke="#0000ff" stroke-width="2.08" stroke-linejoin="round" stroke-linecap="butt"/></g>
<g clip-path="url(#cT4)"><polyline points="117.4,2472.24 132.16,2485.01 146.93,2496.98 161.7,2475.07 176.47,2446.25 206.01,2470.82 220.78,2477.91 250.32,2451.4 279.85,2445.72 309.39,2458.85 324.16,2473.66 353.7,2458.58 383.24,2430.91 412.77,2442.88 427.54,2327.51 442.31,2391.01 457.08,2448.82 471.85,2430.91 486.62,2408.65 501.39,2449.36 516.16,2482.17 530.92,2469.66 545.69,2474.19 560.46,2480.13 575.23,2467.36 590,2450.86 619.54,2462.75 634.31,2447.14 663.85,2471.35 693.38,2479.86 722.92,2470.73 767.23,2479.86 796.77,2490.68 811.53,2478.71 826.3,2464.52 841.07,2486.69 855.84,2477.03 870.61,2465.32 885.38,2475.07 900.15,2488.73 914.92,2436.59 929.69,2365.91 944.45,2477.03 973.99,2475.07 1003.53,2483.32 1033.07,2465.67 1047.84,2447.41 1062.61,2449.36 1092.14,2452.28 1106.91,2455.12 1136.45,2472.24 1151.22,2480.13 1180.76,2478.71 1195.53,2478.71 1210.29,2479.33 1225.06,2466.47 1239.83,2450.86 1254.6,2433.13 1269.37,2381.61 1284.14,2313.59 1298.91,2405.02 1313.68,2474.54 1328.45,2477.56 1372.75,2448.29 1387.52,2436.68 1402.29,2434.02 1417.06,2434.02 1431.83,2456.54 1461.37,2469.58 1476.14,2456.19 1490.9,2440.93 1505.67,2462.92 1520.44,2479.69 1535.21,2444.66 1549.98,2420.27 1564.75,2390.38 1579.52,2449.18 1594.29,2494.94 1638.59,2483.68 1653.36,2459.91 1668.13,2434.28 1682.9,2442.53" fill="none" stroke="#0000ff" stroke-width="2.08" stroke-linejoin="round" stroke-linecap="butt"/></g>
<g clip-path="url(#cT5)"><polyline points="117.4,2796.66 146.93,2852.09 176.47,2748.33 206.01,2792.45 220.78,2794.22 250.32,2760.3 279.85,2744.34 309.39,2774.05 324.16,2802.65 353.7,2790.68 383.24,2747.22 412.77,2768.29 427.54,2656.55 457.08,2764.74 486.62,2713.53 516.16,2820.39 530.92,2781.37 560.46,2801.32 590,2753.43 619.54,2781.37 634.31,2762.74 663.85,2794.22 693.38,2807.31 722.92,2789.13 737.69,2781.37 767.23,2808.64 796.77,2824.15 826.3,2782.03 841.07,2821.27 870.61,2792.01 900.15,2821.05 929.69,2677.17 944.45,2813.29 973.99,2804.2 1003.53,2804.2 1033.07,2781.14 1047.84,2738.58 1077.37,2769.62 1106.91,2764.74 1151.22,2799.1 1180.76,2793.56 1210.29,2801.76 1225.06,2779.37 1254.6,2765.4 1284.14,2647.46 1313.68,2811.52 1328.45,2828.14 1387.52,2764.52 1417.06,2765.85 1431.83,2800.88 1461.37,2819.06 1490.9,2780.04 1520.44,2826.81 1535.21,2765.4 1564.75,2734.37 1594.29,2858.74 1638.59,2844.11 1668.13,2775.6 1682.9,2776.71" fill="none" stroke="#0000ff" stroke-width="2.08" stroke-linejoin="round" stroke-linecap="butt"/></g>
<g clip-path="url(#cT6)"><polyline points="117.4,3144.95 146.93,3174.21 176.47,3119.23 220.78,3154.92 250.32,3123.88 279.85,3120.78 309.39,3129.21 324.16,3144.95 353.7,3123 383.24,3095.95 412.77,3104.6 427.54,3003.5 457.08,3115.46 486.62,3077.99 516.16,3152.48 530.92,3141.62 560.46,3155.81 590,3122.55 619.54,3132.97 634.31,3114.35 663.85,3142.95 693.38,3152.93 722.92,3142.51 737.69,3149.16 767.23,3150.71 796.77,3167.12 826.3,3132.97 841.07,3159.13 870.61,3131.87 900.15,3164.46 929.69,3037.64 944.45,3144.5 973.99,3143.39 1003.53,3158.69 1033.07,3135.86 1047.84,3121 1077.37,3115.46 1106.91,3123 1151.22,3153.81 1180.76,3153.81 1210.29,3150.93 1225.06,3136.74 1254.6,3091.96 1284.14,2994.19 1313.68,3142.73 1328.45,3142.73 1387.52,3096.62 1417.06,3093.29 1431.83,3114.57 1461.37,3132.31 1490.9,3099.05 1520.44,3149.38 1535.21,3111.03 1564.75,3046.07 1594.29,3167.78 1638.59,3147.83 1668.13,3092.85 1682.9,3107.04" fill="none" stroke="#0000ff" stroke-width="2.08" stroke-linejoin="round" stroke-linecap="butt"/></g>
<g clip-path="url(#cE)">
<polyline points="794.17,761.52 795.79,757.32 795.14,751.83 774.14,732.12 753.14,711.12 786.1,709.5 789.97,708.85 807.1,701.42 824.23,694.31 820.03,706.27 894.35,739.55 878.19,738.91 863.65,740.2 871.08,772.51 878.84,805.15 896.93,771.22 914.7,737.29 871.08,772.51 841.03,791.25 924.07,780.59 1007.44,769.28 936.35,817.1 905.66,828.41 940.23,805.15 899.19,842.95 953.16,828.41 929.24,833.91 923.43,838.11 899.19,849.42 959.94,851.03 901.78,852.65 871.73,852.65 841.03,813.23 811.95,775.1 800.64,741.17 820.03,706.27" fill="none" stroke="#0000ff" stroke-width="2.08" stroke-linejoin="round" stroke-linecap="butt"/>
<polyline points="870.11,818.4 850.72,858.14 849.11,863.96 831.34,897.24 848.14,890.78 860.42,883.35 866.88,875.27 886.27,870.42 918.58,859.11 971.9,861.37 892.73,865.57 866.23,864.93 852.34,871.39 839.41,870.42 804.19,869.45 800.64,868.81 769.29,868.16 912.12,902.41 918.58,855.88 916,852 892.73,849.42 871.73,852.65" fill="none" stroke="#0000ff" stroke-width="2.08" stroke-linejoin="round" stroke-linecap="butt"/>
<polyline points="870.11,818.4 892.73,865.57 912.12,902.41" fill="none" stroke="#0000ff" stroke-width="2.08" stroke-linejoin="round" stroke-linecap="butt"/>
<polyline points="736.33,1016.48 800.64,868.81" fill="none" stroke="#0000ff" stroke-width="2.08" stroke-linejoin="round" stroke-linecap="butt"/>
<polyline points="736.33,1016.48 753.14,1002.91 769.94,991.6 781.25,976.09 792.56,959.93 803.22,945.39 789.33,984.49 775.11,1023.26 833.27,983.19 891.76,943.13 967.05,876.24 1050.42,790.61 899.19,849.42" fill="none" stroke="#0000ff" stroke-width="2.08" stroke-linejoin="round" stroke-linecap="butt"/>
<polyline points="891.76,943.13 884.65,960.9 844.26,1070.12 853.31,1029.4 862.36,988.36 822.29,1029.4 782.87,1070.12 802.25,1058.48 820.99,1045.56 926.66,1065.27 892.73,1072.38 858.16,1080.46 869.14,1085.95 879.81,1092.41 890.47,1098.23 900.81,1104.05 901.13,1020.68 934.74,994.83 966.08,968.98 928.28,993.21 889.5,1017.45 890.15,881.08 901.78,909.84 900.16,919.54 955.74,938.28 984.82,943.13 1015.52,948.3 957.36,933.43 943.46,911.46 931.51,884.32 918.58,859.11 937.32,873.01 892.73,868.81" fill="none" stroke="#0000ff" stroke-width="2.08" stroke-linejoin="round" stroke-linecap="butt"/>
<polyline points="940.21,805.27 906.48,829.47 894.66,839 871.17,851.1" fill="none" stroke="#0000ff" stroke-width="2.08" stroke-linejoin="round" stroke-linecap="butt"/>
<polyline points="940.21,805.27 908.19,836.87 893.95,848.26 865.48,865.05 849.11,863.91" fill="none" stroke="#0000ff" stroke-width="2.08" stroke-linejoin="round" stroke-linecap="butt"/>
<polyline points="936.37,817.37 905.34,836.87 891.81,859.64 858.36,881.71 848.4,891.67 831.32,897.37" fill="none" stroke="#0000ff" stroke-width="2.08" stroke-linejoin="round" stroke-linecap="butt"/>
<polyline points="953.31,828.33 929.54,834.02 923.13,838.29 905.34,841.14 887.54,870.32 893.95,868.19 972.24,861.07" fill="none" stroke="#0000ff" stroke-width="2.08" stroke-linejoin="round" stroke-linecap="butt"/>
<polyline points="960.14,851.1 908.19,839.72 902.21,852.53 916.73,851.81 919.57,857.51 937.37,873.45" fill="none" stroke="#0000ff" stroke-width="2.08" stroke-linejoin="round" stroke-linecap="butt"/>
<polyline points="851.25,858.22 870.46,818.08 883.99,845.41 891.81,859.64 912.46,902.35" fill="none" stroke="#0000ff" stroke-width="2.08" stroke-linejoin="round" stroke-linecap="butt"/>
<polyline points="804.27,869.32 839.15,870.32 851.96,871.74 887.54,870.32 937.37,873.45" fill="none" stroke="#0000ff" stroke-width="2.08" stroke-linejoin="round" stroke-linecap="butt"/>
<circle cx="736.3" cy="1016.5" r="3.4" fill="#0000ff"/>
<circle cx="753.1" cy="711.1" r="3.4" fill="#0000ff"/>
<circle cx="753.1" cy="1002.9" r="3.4" fill="#0000ff"/>
<circle cx="769.3" cy="868.2" r="3.4" fill="#0000ff"/>
<circle cx="769.9" cy="991.6" r="3.4" fill="#0000ff"/>
<circle cx="774.1" cy="732.1" r="3.4" fill="#0000ff"/>
<circle cx="775.1" cy="1023.3" r="3.4" fill="#0000ff"/>
<circle cx="781.2" cy="976.1" r="3.4" fill="#0000ff"/>
<circle cx="782.9" cy="1070.1" r="3.4" fill="#0000ff"/>
<circle cx="786.1" cy="709.5" r="3.4" fill="#0000ff"/>
<circle cx="789.3" cy="984.5" r="3.4" fill="#0000ff"/>
<circle cx="790" cy="708.9" r="3.4" fill="#0000ff"/>
<circle cx="792.6" cy="959.9" r="3.4" fill="#0000ff"/>
<circle cx="794.2" cy="761.5" r="3.4" fill="#0000ff"/>
<circle cx="795.1" cy="751.8" r="3.4" fill="#0000ff"/>
<circle cx="795.8" cy="757.3" r="3.4" fill="#0000ff"/>
<circle cx="800.6" cy="741.2" r="3.4" fill="#0000ff"/>
<circle cx="800.6" cy="868.8" r="3.4" fill="#0000ff"/>
<circle cx="802.3" cy="1058.5" r="3.4" fill="#0000ff"/>
<circle cx="803.2" cy="945.4" r="3.4" fill="#0000ff"/>
<circle cx="804.2" cy="869.5" r="3.4" fill="#0000ff"/>
<circle cx="804.3" cy="869.3" r="3.4" fill="#0000ff"/>
<circle cx="807.1" cy="701.4" r="3.4" fill="#0000ff"/>
<circle cx="811.9" cy="775.1" r="3.4" fill="#0000ff"/>
<circle cx="820" cy="706.3" r="3.4" fill="#0000ff"/>
<circle cx="821" cy="1045.6" r="3.4" fill="#0000ff"/>
<circle cx="822.3" cy="1029.4" r="3.4" fill="#0000ff"/>
<circle cx="824.2" cy="694.3" r="3.4" fill="#0000ff"/>
<circle cx="831.3" cy="897.2" r="3.4" fill="#0000ff"/>
<circle cx="831.3" cy="897.4" r="3.4" fill="#0000ff"/>
<circle cx="833.3" cy="983.2" r="3.4" fill="#0000ff"/>
<circle cx="839.1" cy="870.3" r="3.4" fill="#0000ff"/>
<circle cx="839.4" cy="870.4" r="3.4" fill="#0000ff"/>
<circle cx="841" cy="791.3" r="3.4" fill="#0000ff"/>
<circle cx="841" cy="813.2" r="3.4" fill="#0000ff"/>
<circle cx="844.3" cy="1070.1" r="3.4" fill="#0000ff"/>
<circle cx="848.1" cy="890.8" r="3.4" fill="#0000ff"/>
<circle cx="848.4" cy="891.7" r="3.4" fill="#0000ff"/>
<circle cx="849.1" cy="863.9" r="3.4" fill="#0000ff"/>
<circle cx="849.1" cy="864" r="3.4" fill="#0000ff"/>
<circle cx="850.7" cy="858.1" r="3.4" fill="#0000ff"/>
<circle cx="851.2" cy="858.2" r="3.4" fill="#0000ff"/>
<circle cx="852" cy="871.7" r="3.4" fill="#0000ff"/>
<circle cx="852.3" cy="871.4" r="3.4" fill="#0000ff"/>
<circle cx="853.3" cy="1029.4" r="3.4" fill="#0000ff"/>
<circle cx="858.2" cy="1080.5" r="3.4" fill="#0000ff"/>
<circle cx="858.4" cy="881.7" r="3.4" fill="#0000ff"/>
<circle cx="860.4" cy="883.3" r="3.4" fill="#0000ff"/>
<circle cx="862.4" cy="988.4" r="3.4" fill="#0000ff"/>
<circle cx="863.6" cy="740.2" r="3.4" fill="#0000ff"/>
<circle cx="865.5" cy="865.1" r="3.4" fill="#0000ff"/>
<circle cx="866.2" cy="864.9" r="3.4" fill="#0000ff"/>
<circle cx="866.9" cy="875.3" r="3.4" fill="#0000ff"/>
<circle cx="869.1" cy="1086" r="3.4" fill="#0000ff"/>
<circle cx="870.1" cy="818.4" r="3.4" fill="#0000ff"/>
<circle cx="870.5" cy="818.1" r="3.4" fill="#0000ff"/>
<circle cx="871.1" cy="772.5" r="3.4" fill="#0000ff"/>
<circle cx="871.2" cy="851.1" r="3.4" fill="#0000ff"/>
<circle cx="871.7" cy="852.6" r="3.4" fill="#0000ff"/>
<circle cx="878.2" cy="738.9" r="3.4" fill="#0000ff"/>
<circle cx="878.8" cy="805.1" r="3.4" fill="#0000ff"/>
<circle cx="879.8" cy="1092.4" r="3.4" fill="#0000ff"/>
<circle cx="884" cy="845.4" r="3.4" fill="#0000ff"/>
<circle cx="884.7" cy="960.9" r="3.4" fill="#0000ff"/>
<circle cx="886.3" cy="870.4" r="3.4" fill="#0000ff"/>
<circle cx="887.5" cy="870.3" r="3.4" fill="#0000ff"/>
<circle cx="889.5" cy="1017.4" r="3.4" fill="#0000ff"/>
<circle cx="890.1" cy="881.1" r="3.4" fill="#0000ff"/>
<circle cx="890.5" cy="1098.2" r="3.4" fill="#0000ff"/>
<circle cx="891.8" cy="859.6" r="3.4" fill="#0000ff"/>
<circle cx="891.8" cy="943.1" r="3.4" fill="#0000ff"/>
<circle cx="892.7" cy="849.4" r="3.4" fill="#0000ff"/>
<circle cx="892.7" cy="865.6" r="3.4" fill="#0000ff"/>
<circle cx="892.7" cy="868.8" r="3.4" fill="#0000ff"/>
<circle cx="892.7" cy="1072.4" r="3.4" fill="#0000ff"/>
<circle cx="894" cy="848.3" r="3.4" fill="#0000ff"/>
<circle cx="894" cy="868.2" r="3.4" fill="#0000ff"/>
<circle cx="894.3" cy="739.6" r="3.4" fill="#0000ff"/>
<circle cx="894.7" cy="839" r="3.4" fill="#0000ff"/>
<circle cx="896.9" cy="771.2" r="3.4" fill="#0000ff"/>
<circle cx="899.2" cy="843" r="3.4" fill="#0000ff"/>
<circle cx="899.2" cy="849.4" r="3.4" fill="#0000ff"/>
<circle cx="900.2" cy="919.5" r="3.4" fill="#0000ff"/>
<circle cx="900.8" cy="1104" r="3.4" fill="#0000ff"/>
<circle cx="901.1" cy="1020.7" r="3.4" fill="#0000ff"/>
<circle cx="901.8" cy="852.6" r="3.4" fill="#0000ff"/>
<circle cx="901.8" cy="909.8" r="3.4" fill="#0000ff"/>
<circle cx="902.2" cy="852.5" r="3.4" fill="#0000ff"/>
<circle cx="905.3" cy="836.9" r="3.4" fill="#0000ff"/>
<circle cx="905.3" cy="841.1" r="3.4" fill="#0000ff"/>
<circle cx="905.7" cy="828.4" r="3.4" fill="#0000ff"/>
<circle cx="906.5" cy="829.5" r="3.4" fill="#0000ff"/>
<circle cx="908.2" cy="836.9" r="3.4" fill="#0000ff"/>
<circle cx="908.2" cy="839.7" r="3.4" fill="#0000ff"/>
<circle cx="912.1" cy="902.4" r="3.4" fill="#0000ff"/>
<circle cx="912.5" cy="902.3" r="3.4" fill="#0000ff"/>
<circle cx="914.7" cy="737.3" r="3.4" fill="#0000ff"/>
<circle cx="916" cy="852" r="3.4" fill="#0000ff"/>
<circle cx="916.7" cy="851.8" r="3.4" fill="#0000ff"/>
<circle cx="918.6" cy="855.9" r="3.4" fill="#0000ff"/>
<circle cx="918.6" cy="859.1" r="3.4" fill="#0000ff"/>
<circle cx="919.6" cy="857.5" r="3.4" fill="#0000ff"/>
<circle cx="923.1" cy="838.3" r="3.4" fill="#0000ff"/>
<circle cx="923.4" cy="838.1" r="3.4" fill="#0000ff"/>
<circle cx="924.1" cy="780.6" r="3.4" fill="#0000ff"/>
<circle cx="926.7" cy="1065.3" r="3.4" fill="#0000ff"/>
<circle cx="928.3" cy="993.2" r="3.4" fill="#0000ff"/>
<circle cx="929.2" cy="833.9" r="3.4" fill="#0000ff"/>
<circle cx="929.5" cy="834" r="3.4" fill="#0000ff"/>
<circle cx="931.5" cy="884.3" r="3.4" fill="#0000ff"/>
<circle cx="934.7" cy="994.8" r="3.4" fill="#0000ff"/>
<circle cx="936.4" cy="817.1" r="3.4" fill="#0000ff"/>
<circle cx="936.4" cy="817.4" r="3.4" fill="#0000ff"/>
<circle cx="937.3" cy="873" r="3.4" fill="#0000ff"/>
<circle cx="937.4" cy="873.5" r="3.4" fill="#0000ff"/>
<circle cx="940.2" cy="805.1" r="3.4" fill="#0000ff"/>
<circle cx="940.2" cy="805.3" r="3.4" fill="#0000ff"/>
<circle cx="943.5" cy="911.5" r="3.4" fill="#0000ff"/>
<circle cx="953.2" cy="828.4" r="3.4" fill="#0000ff"/>
<circle cx="953.3" cy="828.3" r="3.4" fill="#0000ff"/>
<circle cx="955.7" cy="938.3" r="3.4" fill="#0000ff"/>
<circle cx="957.4" cy="933.4" r="3.4" fill="#0000ff"/>
<circle cx="959.9" cy="851" r="3.4" fill="#0000ff"/>
<circle cx="960.1" cy="851.1" r="3.4" fill="#0000ff"/>
<circle cx="966.1" cy="969" r="3.4" fill="#0000ff"/>
<circle cx="967.1" cy="876.2" r="3.4" fill="#0000ff"/>
<circle cx="971.9" cy="861.4" r="3.4" fill="#0000ff"/>
<circle cx="972.2" cy="861.1" r="3.4" fill="#0000ff"/>
<circle cx="984.8" cy="943.1" r="3.4" fill="#0000ff"/>
<circle cx="1007.4" cy="769.3" r="3.4" fill="#0000ff"/>
<circle cx="1015.5" cy="948.3" r="3.4" fill="#0000ff"/>
<circle cx="1050.4" cy="790.6" r="3.4" fill="#0000ff"/>
</g>
<g clip-path="url(#cB)">
<polyline points="856.22,135.06 865.26,130.21 879.16,163.81 897.58,192.25 900.81,195.48 905.01,190.63 907.27,200.97 890.15,212.28 868.5,248.8" fill="none" stroke="#0000ff" stroke-width="2.08" stroke-linejoin="round" stroke-linecap="butt"/>
<polyline points="899.19,193.87 856.22,135.06" fill="none" stroke="#0000ff" stroke-width="2.08" stroke-linejoin="round" stroke-linecap="butt"/>
<polyline points="915.35,162.2 928.28,151.86 941.2,197.1 976.75,196.45 976.75,164.14 1002.6,211.64 1044.6,242.34 1018.75,239.1 942.82,209.38 915.35,211.64 920.2,235.87 931.51,277.23 920.2,255.91 941.2,234.9 970.28,244.92 950.89,274.65 992.26,268.19 1025.22,266.57 1005.83,274.65 983.21,319.89 971.9,340.24 966.4,318.27" fill="none" stroke="#0000ff" stroke-width="2.08" stroke-linejoin="round" stroke-linecap="butt"/>
<polyline points="890.15,212.28 894.35,243.95 896.93,281.11 887.88,311.16 858.8,316.66 841.03,337.66 853.95,358.66 866.88,348.97 883.04,361.89 899.19,342.51 915.35,340.89 912.12,361.89 895.96,374.82 908.89,386.13 900.81,386.13 915.35,378.05 931.51,386.13 925.04,361.89 910.5,348.97 892.73,365.13 870.11,368.36 852.34,371.59 868.5,386.13 850.72,406.49" fill="none" stroke="#0000ff" stroke-width="2.08" stroke-linejoin="round" stroke-linecap="butt"/>
<polyline points="789.33,274.65 784.48,284.99 789.33,282.73 824.87,270.45 847.49,297.91 817.44,296.3 784.48,284.99" fill="none" stroke="#0000ff" stroke-width="2.08" stroke-linejoin="round" stroke-linecap="butt"/>
<polyline points="847.49,297.91 866.88,299.85 887.88,311.16" fill="none" stroke="#0000ff" stroke-width="2.08" stroke-linejoin="round" stroke-linecap="butt"/>
<polyline points="816.15,380.64 828.1,374.17 834.57,378.05 841.03,387.75 832.3,385.16 830.37,399.05 855.57,431.37 870.11,423.29 879.81,434.6 881.42,486.3 913.73,504.07 906.3,520.23 946.05,524.11 958.97,523.46 946.05,525.08 967.05,491.79 970.28,502.46 973.51,500.84 981.59,459.48 984.82,445.26" fill="none" stroke="#0000ff" stroke-width="2.08" stroke-linejoin="round" stroke-linecap="butt"/>
<polyline points="984.82,445.26 969.64,470.14 963.82,451.4 954.13,425.55 963.82,421.03 924.4,410.36 908.89,400.67 908.89,394.21 899.19,384.51" fill="none" stroke="#0000ff" stroke-width="2.08" stroke-linejoin="round" stroke-linecap="butt"/>
<polyline points="855.57,431.37 846.2,439.45 824.87,438.48 825.84,451.4 855.57,431.37" fill="none" stroke="#0000ff" stroke-width="2.08" stroke-linejoin="round" stroke-linecap="butt"/>
<polyline points="890.15,212.28 915.35,162.2" fill="none" stroke="#0000ff" stroke-width="2.08" stroke-linejoin="round" stroke-linecap="butt"/>
<polyline points="858.36,317.01 842.7,336.94 874.02,324.13 886.83,311.32 898.22,341.21 915.3,340.5 928.11,354.02 916.73,359.72 899.64,359 882.56,361.85 871.17,361.14 863.35,350.46 854.09,358.01 858.36,372.53 851.25,372.53 868.33,385.34 881.14,379.64 898.22,378.22 913.88,378.22 923.84,379.64 929.54,386.05 902.49,388.19 896.8,386.05 909.61,398.15 908.19,401.71" fill="none" stroke="#0000ff" stroke-width="2.08" stroke-linejoin="round" stroke-linecap="butt"/>
<circle cx="784.5" cy="285" r="3.4" fill="#0000ff"/>
<circle cx="789.3" cy="274.6" r="3.4" fill="#0000ff"/>
<circle cx="789.3" cy="282.7" r="3.4" fill="#0000ff"/>
<circle cx="816.1" cy="380.6" r="3.4" fill="#0000ff"/>
<circle cx="817.4" cy="296.3" r="3.4" fill="#0000ff"/>
<circle cx="824.9" cy="270.4" r="3.4" fill="#0000ff"/>
<circle cx="824.9" cy="438.5" r="3.4" fill="#0000ff"/>
<circle cx="825.8" cy="451.4" r="3.4" fill="#0000ff"/>
<circle cx="828.1" cy="374.2" r="3.4" fill="#0000ff"/>
<circle cx="830.4" cy="399.1" r="3.4" fill="#0000ff"/>
<circle cx="832.3" cy="385.2" r="3.4" fill="#0000ff"/>
<circle cx="834.6" cy="378.1" r="3.4" fill="#0000ff"/>
<circle cx="841" cy="337.7" r="3.4" fill="#0000ff"/>
<circle cx="841" cy="387.7" r="3.4" fill="#0000ff"/>
<circle cx="842.7" cy="336.9" r="3.4" fill="#0000ff"/>
<circle cx="846.2" cy="439.4" r="3.4" fill="#0000ff"/>
<circle cx="847.5" cy="297.9" r="3.4" fill="#0000ff"/>
<circle cx="850.7" cy="406.5" r="3.4" fill="#0000ff"/>
<circle cx="851.2" cy="372.5" r="3.4" fill="#0000ff"/>
<circle cx="852.3" cy="371.6" r="3.4" fill="#0000ff"/>
<circle cx="854" cy="358.7" r="3.4" fill="#0000ff"/>
<circle cx="854.1" cy="358" r="3.4" fill="#0000ff"/>
<circle cx="855.6" cy="431.4" r="3.4" fill="#0000ff"/>
<circle cx="856.2" cy="135.1" r="3.4" fill="#0000ff"/>
<circle cx="858.4" cy="317" r="3.4" fill="#0000ff"/>
<circle cx="858.4" cy="372.5" r="3.4" fill="#0000ff"/>
<circle cx="858.8" cy="316.7" r="3.4" fill="#0000ff"/>
<circle cx="863.3" cy="350.5" r="3.4" fill="#0000ff"/>
<circle cx="865.3" cy="130.2" r="3.4" fill="#0000ff"/>
<circle cx="866.9" cy="299.9" r="3.4" fill="#0000ff"/>
<circle cx="866.9" cy="349" r="3.4" fill="#0000ff"/>
<circle cx="868.3" cy="385.3" r="3.4" fill="#0000ff"/>
<circle cx="868.5" cy="248.8" r="3.4" fill="#0000ff"/>
<circle cx="868.5" cy="386.1" r="3.4" fill="#0000ff"/>
<circle cx="870.1" cy="368.4" r="3.4" fill="#0000ff"/>
<circle cx="870.1" cy="423.3" r="3.4" fill="#0000ff"/>
<circle cx="871.2" cy="361.1" r="3.4" fill="#0000ff"/>
<circle cx="874" cy="324.1" r="3.4" fill="#0000ff"/>
<circle cx="879.2" cy="163.8" r="3.4" fill="#0000ff"/>
<circle cx="879.8" cy="434.6" r="3.4" fill="#0000ff"/>
<circle cx="881.1" cy="379.6" r="3.4" fill="#0000ff"/>
<circle cx="881.4" cy="486.3" r="3.4" fill="#0000ff"/>
<circle cx="882.6" cy="361.9" r="3.4" fill="#0000ff"/>
<circle cx="883" cy="361.9" r="3.4" fill="#0000ff"/>
<circle cx="886.8" cy="311.3" r="3.4" fill="#0000ff"/>
<circle cx="887.9" cy="311.2" r="3.4" fill="#0000ff"/>
<circle cx="890.1" cy="212.3" r="3.4" fill="#0000ff"/>
<circle cx="892.7" cy="365.1" r="3.4" fill="#0000ff"/>
<circle cx="894.3" cy="244" r="3.4" fill="#0000ff"/>
<circle cx="896" cy="374.8" r="3.4" fill="#0000ff"/>
<circle cx="896.8" cy="386" r="3.4" fill="#0000ff"/>
<circle cx="896.9" cy="281.1" r="3.4" fill="#0000ff"/>
<circle cx="897.6" cy="192.2" r="3.4" fill="#0000ff"/>
<circle cx="898.2" cy="341.2" r="3.4" fill="#0000ff"/>
<circle cx="898.2" cy="378.2" r="3.4" fill="#0000ff"/>
<circle cx="899.2" cy="193.9" r="3.4" fill="#0000ff"/>
<circle cx="899.2" cy="342.5" r="3.4" fill="#0000ff"/>
<circle cx="899.2" cy="384.5" r="3.4" fill="#0000ff"/>
<circle cx="899.6" cy="359" r="3.4" fill="#0000ff"/>
<circle cx="900.8" cy="195.5" r="3.4" fill="#0000ff"/>
<circle cx="900.8" cy="386.1" r="3.4" fill="#0000ff"/>
<circle cx="902.5" cy="388.2" r="3.4" fill="#0000ff"/>
<circle cx="905" cy="190.6" r="3.4" fill="#0000ff"/>
<circle cx="906.3" cy="520.2" r="3.4" fill="#0000ff"/>
<circle cx="907.3" cy="201" r="3.4" fill="#0000ff"/>
<circle cx="908.2" cy="401.7" r="3.4" fill="#0000ff"/>
<circle cx="908.9" cy="386.1" r="3.4" fill="#0000ff"/>
<circle cx="908.9" cy="394.2" r="3.4" fill="#0000ff"/>
<circle cx="908.9" cy="400.7" r="3.4" fill="#0000ff"/>
<circle cx="909.6" cy="398.1" r="3.4" fill="#0000ff"/>
<circle cx="910.5" cy="349" r="3.4" fill="#0000ff"/>
<circle cx="912.1" cy="361.9" r="3.4" fill="#0000ff"/>
<circle cx="913.7" cy="504.1" r="3.4" fill="#0000ff"/>
<circle cx="913.9" cy="378.2" r="3.4" fill="#0000ff"/>
<circle cx="915.3" cy="162.2" r="3.4" fill="#0000ff"/>
<circle cx="915.3" cy="211.6" r="3.4" fill="#0000ff"/>
<circle cx="915.3" cy="340.5" r="3.4" fill="#0000ff"/>
<circle cx="915.3" cy="340.9" r="3.4" fill="#0000ff"/>
<circle cx="915.3" cy="378.1" r="3.4" fill="#0000ff"/>
<circle cx="916.7" cy="359.7" r="3.4" fill="#0000ff"/>
<circle cx="920.2" cy="235.9" r="3.4" fill="#0000ff"/>
<circle cx="920.2" cy="255.9" r="3.4" fill="#0000ff"/>
<circle cx="923.8" cy="379.6" r="3.4" fill="#0000ff"/>
<circle cx="924.4" cy="410.4" r="3.4" fill="#0000ff"/>
<circle cx="925" cy="361.9" r="3.4" fill="#0000ff"/>
<circle cx="928.1" cy="354" r="3.4" fill="#0000ff"/>
<circle cx="928.3" cy="151.9" r="3.4" fill="#0000ff"/>
<circle cx="929.5" cy="386" r="3.4" fill="#0000ff"/>
<circle cx="931.5" cy="277.2" r="3.4" fill="#0000ff"/>
<circle cx="931.5" cy="386.1" r="3.4" fill="#0000ff"/>
<circle cx="941.2" cy="197.1" r="3.4" fill="#0000ff"/>
<circle cx="941.2" cy="234.9" r="3.4" fill="#0000ff"/>
<circle cx="942.8" cy="209.4" r="3.4" fill="#0000ff"/>
<circle cx="946" cy="524.1" r="3.4" fill="#0000ff"/>
<circle cx="946" cy="525.1" r="3.4" fill="#0000ff"/>
<circle cx="950.9" cy="274.6" r="3.4" fill="#0000ff"/>
<circle cx="954.1" cy="425.6" r="3.4" fill="#0000ff"/>
<circle cx="959" cy="523.5" r="3.4" fill="#0000ff"/>
<circle cx="963.8" cy="421" r="3.4" fill="#0000ff"/>
<circle cx="963.8" cy="451.4" r="3.4" fill="#0000ff"/>
<circle cx="966.4" cy="318.3" r="3.4" fill="#0000ff"/>
<circle cx="967.1" cy="491.8" r="3.4" fill="#0000ff"/>
<circle cx="969.6" cy="470.1" r="3.4" fill="#0000ff"/>
<circle cx="970.3" cy="244.9" r="3.4" fill="#0000ff"/>
<circle cx="970.3" cy="502.5" r="3.4" fill="#0000ff"/>
<circle cx="971.9" cy="340.2" r="3.4" fill="#0000ff"/>
<circle cx="973.5" cy="500.8" r="3.4" fill="#0000ff"/>
<circle cx="976.7" cy="164.1" r="3.4" fill="#0000ff"/>
<circle cx="976.7" cy="196.5" r="3.4" fill="#0000ff"/>
<circle cx="981.6" cy="459.5" r="3.4" fill="#0000ff"/>
<circle cx="983.2" cy="319.9" r="3.4" fill="#0000ff"/>
<circle cx="984.8" cy="445.3" r="3.4" fill="#0000ff"/>
<circle cx="992.3" cy="268.2" r="3.4" fill="#0000ff"/>
<circle cx="1002.6" cy="211.6" r="3.4" fill="#0000ff"/>
<circle cx="1005.8" cy="274.6" r="3.4" fill="#0000ff"/>
<circle cx="1018.8" cy="239.1" r="3.4" fill="#0000ff"/>
<circle cx="1025.2" cy="266.6" r="3.4" fill="#0000ff"/>
<circle cx="1044.6" cy="242.3" r="3.4" fill="#0000ff"/>
<polyline points="931.51,153.47 940.55,160.58 948.63,167.37 956.71,172.86 965.44,180.29 934.09,180.94 904.36,181.91 985.79,216.48 1005.83,208.41 1026.83,199.04 984.82,228.44 942.82,256.88 974.16,189.99 958.97,222.95 942.82,256.88" fill="none" stroke="#ff0000" stroke-width="2.08" stroke-linejoin="round" stroke-linecap="butt"/>
<polyline points="931.51,153.47 918.58,221.33 913.73,287.57 905.66,303.73 905.66,337.66" fill="none" stroke="#ff0000" stroke-width="2.08" stroke-linejoin="round" stroke-linecap="butt"/>
<polyline points="857.19,253 888.85,236.84 893.38,239.43 930.54,226.18 918.58,221.33" fill="none" stroke="#ff0000" stroke-width="2.08" stroke-linejoin="round" stroke-linecap="butt"/>
<polyline points="816.15,261.08 840.38,270.45 863.65,279.5 905.01,303.73 892.73,315.04 899.19,336.04 918.58,342.51 873.34,355.43 845.88,369.97 866.88,368.36 899.19,361.89 944.43,334.43 957.36,331.84 946.05,353.82 1005.83,365.13 918.58,342.51 892.73,361.89 857.19,381.28 850.72,390.98" fill="none" stroke="#ff0000" stroke-width="2.08" stroke-linejoin="round" stroke-linecap="butt"/>
<polyline points="863.65,279.5 869.46,303.73 873.99,328.61 881.42,359.31 886.27,368.36 915.35,355.43 937.97,350.58 918.58,365.13 895.96,371.59 879.81,376.44 787.71,411.33 861.39,414.24 934.09,416.83 918.58,397.44 913.73,389.36" fill="none" stroke="#ff0000" stroke-width="2.08" stroke-linejoin="round" stroke-linecap="butt"/>
<polyline points="1049.45,254.29 1032.65,261.72 1015.52,270.45 1005.83,280.14 984.82,300.5 994.52,290.81 1004.21,270.45 1021.98,240.07 967.7,264.31 924.4,271.42 913.73,287.57 840.38,329.58 756.05,386.78 841.03,368.36 879.81,360.28 899.19,352.2 937.97,342.51 944.43,334.43" fill="none" stroke="#ff0000" stroke-width="2.08" stroke-linejoin="round" stroke-linecap="butt"/>
<polyline points="1049.45,254.29 976.1,358.66 970.28,366.1 957.36,331.84" fill="none" stroke="#ff0000" stroke-width="2.08" stroke-linejoin="round" stroke-linecap="butt"/>
<polyline points="861.39,451.4 882.39,426.52 902.42,401.32 903.39,429.75 905.01,457.22 892.73,455.6 878.84,453.34 931.51,493.73 944.43,497.61 959.94,495.03 989.67,498.26 975.13,478.22 963.82,452.37 954.13,436.22 936.35,400.02 913.73,389.36" fill="none" stroke="#ff0000" stroke-width="2.08" stroke-linejoin="round" stroke-linecap="butt"/>
<polyline points="861.39,451.4 903.39,429.75" fill="none" stroke="#ff0000" stroke-width="2.08" stroke-linejoin="round" stroke-linecap="butt"/>
<polyline points="929.24,500.84 957.36,465.3 960.59,457.22 963.82,452.37" fill="none" stroke="#ff0000" stroke-width="2.08" stroke-linejoin="round" stroke-linecap="butt"/>
<polyline points="834.57,340.24 879.81,348.97 905.66,342.51 931.51,339.28 947.66,355.43" fill="none" stroke="#ff0000" stroke-width="2.08" stroke-linejoin="round" stroke-linecap="butt"/>
<polyline points="842.64,349.94 866.88,355.43 899.19,365.13 928.28,361.89 934.74,358.66" fill="none" stroke="#ff0000" stroke-width="2.08" stroke-linejoin="round" stroke-linecap="butt"/>
<circle cx="756" cy="386.8" r="3.4" fill="#ff0000"/>
<circle cx="787.7" cy="411.3" r="3.4" fill="#ff0000"/>
<circle cx="816.1" cy="261.1" r="3.4" fill="#ff0000"/>
<circle cx="834.6" cy="340.2" r="3.4" fill="#ff0000"/>
<circle cx="840.4" cy="270.4" r="3.4" fill="#ff0000"/>
<circle cx="840.4" cy="329.6" r="3.4" fill="#ff0000"/>
<circle cx="841" cy="368.4" r="3.4" fill="#ff0000"/>
<circle cx="842.6" cy="349.9" r="3.4" fill="#ff0000"/>
<circle cx="845.9" cy="370" r="3.4" fill="#ff0000"/>
<circle cx="850.7" cy="391" r="3.4" fill="#ff0000"/>
<circle cx="857.2" cy="253" r="3.4" fill="#ff0000"/>
<circle cx="857.2" cy="381.3" r="3.4" fill="#ff0000"/>
<circle cx="861.4" cy="414.2" r="3.4" fill="#ff0000"/>
<circle cx="861.4" cy="451.4" r="3.4" fill="#ff0000"/>
<circle cx="863.6" cy="279.5" r="3.4" fill="#ff0000"/>
<circle cx="866.9" cy="355.4" r="3.4" fill="#ff0000"/>
<circle cx="866.9" cy="368.4" r="3.4" fill="#ff0000"/>
<circle cx="869.5" cy="303.7" r="3.4" fill="#ff0000"/>
<circle cx="873.3" cy="355.4" r="3.4" fill="#ff0000"/>
<circle cx="874" cy="328.6" r="3.4" fill="#ff0000"/>
<circle cx="878.8" cy="453.3" r="3.4" fill="#ff0000"/>
<circle cx="879.8" cy="349" r="3.4" fill="#ff0000"/>
<circle cx="879.8" cy="360.3" r="3.4" fill="#ff0000"/>
<circle cx="879.8" cy="376.4" r="3.4" fill="#ff0000"/>
<circle cx="881.4" cy="359.3" r="3.4" fill="#ff0000"/>
<circle cx="882.4" cy="426.5" r="3.4" fill="#ff0000"/>
<circle cx="886.3" cy="368.4" r="3.4" fill="#ff0000"/>
<circle cx="888.9" cy="236.8" r="3.4" fill="#ff0000"/>
<circle cx="892.7" cy="315" r="3.4" fill="#ff0000"/>
<circle cx="892.7" cy="361.9" r="3.4" fill="#ff0000"/>
<circle cx="892.7" cy="455.6" r="3.4" fill="#ff0000"/>
<circle cx="893.4" cy="239.4" r="3.4" fill="#ff0000"/>
<circle cx="896" cy="371.6" r="3.4" fill="#ff0000"/>
<circle cx="899.2" cy="336" r="3.4" fill="#ff0000"/>
<circle cx="899.2" cy="352.2" r="3.4" fill="#ff0000"/>
<circle cx="899.2" cy="361.9" r="3.4" fill="#ff0000"/>
<circle cx="899.2" cy="365.1" r="3.4" fill="#ff0000"/>
<circle cx="902.4" cy="401.3" r="3.4" fill="#ff0000"/>
<circle cx="903.4" cy="429.8" r="3.4" fill="#ff0000"/>
<circle cx="904.4" cy="181.9" r="3.4" fill="#ff0000"/>
<circle cx="905" cy="303.7" r="3.4" fill="#ff0000"/>
<circle cx="905" cy="457.2" r="3.4" fill="#ff0000"/>
<circle cx="905.7" cy="303.7" r="3.4" fill="#ff0000"/>
<circle cx="905.7" cy="337.7" r="3.4" fill="#ff0000"/>
<circle cx="905.7" cy="342.5" r="3.4" fill="#ff0000"/>
<circle cx="913.7" cy="287.6" r="3.4" fill="#ff0000"/>
<circle cx="913.7" cy="389.4" r="3.4" fill="#ff0000"/>
<circle cx="915.3" cy="355.4" r="3.4" fill="#ff0000"/>
<circle cx="918.6" cy="221.3" r="3.4" fill="#ff0000"/>
<circle cx="918.6" cy="342.5" r="3.4" fill="#ff0000"/>
<circle cx="918.6" cy="365.1" r="3.4" fill="#ff0000"/>
<circle cx="918.6" cy="397.4" r="3.4" fill="#ff0000"/>
<circle cx="924.4" cy="271.4" r="3.4" fill="#ff0000"/>
<circle cx="928.3" cy="361.9" r="3.4" fill="#ff0000"/>
<circle cx="929.2" cy="500.8" r="3.4" fill="#ff0000"/>
<circle cx="930.5" cy="226.2" r="3.4" fill="#ff0000"/>
<circle cx="931.5" cy="153.5" r="3.4" fill="#ff0000"/>
<circle cx="931.5" cy="339.3" r="3.4" fill="#ff0000"/>
<circle cx="931.5" cy="493.7" r="3.4" fill="#ff0000"/>
<circle cx="934.1" cy="180.9" r="3.4" fill="#ff0000"/>
<circle cx="934.1" cy="416.8" r="3.4" fill="#ff0000"/>
<circle cx="934.7" cy="358.7" r="3.4" fill="#ff0000"/>
<circle cx="936.4" cy="400" r="3.4" fill="#ff0000"/>
<circle cx="938" cy="342.5" r="3.4" fill="#ff0000"/>
<circle cx="938" cy="350.6" r="3.4" fill="#ff0000"/>
<circle cx="940.6" cy="160.6" r="3.4" fill="#ff0000"/>
<circle cx="942.8" cy="256.9" r="3.4" fill="#ff0000"/>
<circle cx="944.4" cy="334.4" r="3.4" fill="#ff0000"/>
<circle cx="944.4" cy="497.6" r="3.4" fill="#ff0000"/>
<circle cx="946" cy="353.8" r="3.4" fill="#ff0000"/>
<circle cx="947.7" cy="355.4" r="3.4" fill="#ff0000"/>
<circle cx="948.6" cy="167.4" r="3.4" fill="#ff0000"/>
<circle cx="954.1" cy="436.2" r="3.4" fill="#ff0000"/>
<circle cx="956.7" cy="172.9" r="3.4" fill="#ff0000"/>
<circle cx="957.4" cy="331.8" r="3.4" fill="#ff0000"/>
<circle cx="957.4" cy="465.3" r="3.4" fill="#ff0000"/>
<circle cx="959" cy="222.9" r="3.4" fill="#ff0000"/>
<circle cx="959.9" cy="495" r="3.4" fill="#ff0000"/>
<circle cx="960.6" cy="457.2" r="3.4" fill="#ff0000"/>
<circle cx="963.8" cy="452.4" r="3.4" fill="#ff0000"/>
<circle cx="965.4" cy="180.3" r="3.4" fill="#ff0000"/>
<circle cx="967.7" cy="264.3" r="3.4" fill="#ff0000"/>
<circle cx="970.3" cy="366.1" r="3.4" fill="#ff0000"/>
<circle cx="974.2" cy="190" r="3.4" fill="#ff0000"/>
<circle cx="975.1" cy="478.2" r="3.4" fill="#ff0000"/>
<circle cx="976.1" cy="358.7" r="3.4" fill="#ff0000"/>
<circle cx="984.8" cy="228.4" r="3.4" fill="#ff0000"/>
<circle cx="984.8" cy="300.5" r="3.4" fill="#ff0000"/>
<circle cx="985.8" cy="216.5" r="3.4" fill="#ff0000"/>
<circle cx="989.7" cy="498.3" r="3.4" fill="#ff0000"/>
<circle cx="994.5" cy="290.8" r="3.4" fill="#ff0000"/>
<circle cx="1004.2" cy="270.4" r="3.4" fill="#ff0000"/>
<circle cx="1005.8" cy="208.4" r="3.4" fill="#ff0000"/>
<circle cx="1005.8" cy="280.1" r="3.4" fill="#ff0000"/>
<circle cx="1005.8" cy="365.1" r="3.4" fill="#ff0000"/>
<circle cx="1015.5" cy="270.4" r="3.4" fill="#ff0000"/>
<circle cx="1022" cy="240.1" r="3.4" fill="#ff0000"/>
<circle cx="1026.8" cy="199" r="3.4" fill="#ff0000"/>
<circle cx="1032.6" cy="261.7" r="3.4" fill="#ff0000"/>
<circle cx="1049.5" cy="254.3" r="3.4" fill="#ff0000"/>
</g>
<g clip-path="url(#cC)">
<polyline points="1322.06,263.99 1385.07,236.84 1437.42,286.6 1450.35,235.87 1543.09,235.23 1514.33,257.52 1494.62,254.29 1473.61,260.11 1410.6,270.45 1454.22,289.19 1463.92,311.16 1480.4,302.11 1497.2,299.85 1513.36,290.81 1526.93,301.15 1497.2,339.28" fill="none" stroke="#0000ff" stroke-width="2.08" stroke-linejoin="round" stroke-linecap="butt"/>
<polyline points="1322.06,263.99 1403.49,225.21 1556.33,222.3 1519.17,200.97 1489.12,175.45 1467.47,179.32 1454.22,227.79 1443.88,199.36 1449.7,192.25 1508.51,226.18 1519.17,224.56 1523.05,221.33 1534.36,200.97 1519.17,222.95 1505.28,235.87 1473.61,260.11" fill="none" stroke="#0000ff" stroke-width="2.08" stroke-linejoin="round" stroke-linecap="butt"/>
<polyline points="1514.33,257.52 1630.33,261.08 1616.76,283.7 1605.45,278.85 1598.99,277.88 1518.2,284.34 1511.74,280.14 1507.54,283.37 1502.05,289.19 1513.36,290.81" fill="none" stroke="#0000ff" stroke-width="2.08" stroke-linejoin="round" stroke-linecap="butt"/>
<polyline points="1428.37,298.88 1448.73,316.01 1462.3,332.81 1455.19,319.89 1428.37,298.88 1489.12,332.81 1497.2,339.28 1532.75,333.78 1544.05,348.32 1565.06,361.25 1552.13,367.71 1529.51,368.36 1510.13,358.66 1487.51,361.89 1474.58,355.43 1455.19,348.97 1451.96,349.94 1440.65,341.54 1359.22,340.24 1477.81,340.89 1503.66,342.51 1513.36,340.89 1539.21,348.97 1563.44,354.46 1547.29,378.05 1525.64,376.44 1513.36,357.05 1490.09,383.54 1484.28,366.74 1497.2,369.97 1555.36,385.16 1462.3,393.24 1424.5,394.85 1392.83,398.09 1421.26,430.4 1456.81,422.64 1385.07,422.32 1333.37,411.33 1424.5,445.91 1439.68,454.63 1454.22,453.34 1458.42,456.25 1498.82,467.88 1495.58,469.5 1483.63,471.76 1447.76,471.76 1431.93,442.68 1415.77,403.26 1433.22,407.13 1454.22,415.86 1483.63,407.13 1485.89,401.32 1449.38,377.08 1421.26,361.89 1602.22,367.71" fill="none" stroke="#0000ff" stroke-width="2.08" stroke-linejoin="round" stroke-linecap="butt"/>
<polyline points="1463.92,311.16 1469.73,342.51 1476.2,352.2" fill="none" stroke="#0000ff" stroke-width="2.08" stroke-linejoin="round" stroke-linecap="butt"/>
<circle cx="1322.1" cy="264" r="3.4" fill="#0000ff"/>
<circle cx="1333.4" cy="411.3" r="3.4" fill="#0000ff"/>
<circle cx="1359.2" cy="340.2" r="3.4" fill="#0000ff"/>
<circle cx="1385.1" cy="236.8" r="3.4" fill="#0000ff"/>
<circle cx="1385.1" cy="422.3" r="3.4" fill="#0000ff"/>
<circle cx="1392.8" cy="398.1" r="3.4" fill="#0000ff"/>
<circle cx="1403.5" cy="225.2" r="3.4" fill="#0000ff"/>
<circle cx="1410.6" cy="270.4" r="3.4" fill="#0000ff"/>
<circle cx="1415.8" cy="403.3" r="3.4" fill="#0000ff"/>
<circle cx="1421.3" cy="361.9" r="3.4" fill="#0000ff"/>
<circle cx="1421.3" cy="430.4" r="3.4" fill="#0000ff"/>
<circle cx="1424.5" cy="394.9" r="3.4" fill="#0000ff"/>
<circle cx="1424.5" cy="445.9" r="3.4" fill="#0000ff"/>
<circle cx="1428.4" cy="298.9" r="3.4" fill="#0000ff"/>
<circle cx="1431.9" cy="442.7" r="3.4" fill="#0000ff"/>
<circle cx="1433.2" cy="407.1" r="3.4" fill="#0000ff"/>
<circle cx="1437.4" cy="286.6" r="3.4" fill="#0000ff"/>
<circle cx="1439.7" cy="454.6" r="3.4" fill="#0000ff"/>
<circle cx="1440.7" cy="341.5" r="3.4" fill="#0000ff"/>
<circle cx="1443.9" cy="199.4" r="3.4" fill="#0000ff"/>
<circle cx="1447.8" cy="471.8" r="3.4" fill="#0000ff"/>
<circle cx="1448.7" cy="316" r="3.4" fill="#0000ff"/>
<circle cx="1449.4" cy="377.1" r="3.4" fill="#0000ff"/>
<circle cx="1449.7" cy="192.2" r="3.4" fill="#0000ff"/>
<circle cx="1450.3" cy="235.9" r="3.4" fill="#0000ff"/>
<circle cx="1452" cy="349.9" r="3.4" fill="#0000ff"/>
<circle cx="1454.2" cy="227.8" r="3.4" fill="#0000ff"/>
<circle cx="1454.2" cy="289.2" r="3.4" fill="#0000ff"/>
<circle cx="1454.2" cy="415.9" r="3.4" fill="#0000ff"/>
<circle cx="1454.2" cy="453.3" r="3.4" fill="#0000ff"/>
<circle cx="1455.2" cy="319.9" r="3.4" fill="#0000ff"/>
<circle cx="1455.2" cy="349" r="3.4" fill="#0000ff"/>
<circle cx="1456.8" cy="422.6" r="3.4" fill="#0000ff"/>
<circle cx="1458.4" cy="456.2" r="3.4" fill="#0000ff"/>
<circle cx="1462.3" cy="332.8" r="3.4" fill="#0000ff"/>
<circle cx="1462.3" cy="393.2" r="3.4" fill="#0000ff"/>
<circle cx="1463.9" cy="311.2" r="3.4" fill="#0000ff"/>
<circle cx="1467.5" cy="179.3" r="3.4" fill="#0000ff"/>
<circle cx="1469.7" cy="342.5" r="3.4" fill="#0000ff"/>
<circle cx="1473.6" cy="260.1" r="3.4" fill="#0000ff"/>
<circle cx="1474.6" cy="355.4" r="3.4" fill="#0000ff"/>
<circle cx="1476.2" cy="352.2" r="3.4" fill="#0000ff"/>
<circle cx="1477.8" cy="340.9" r="3.4" fill="#0000ff"/>
<circle cx="1480.4" cy="302.1" r="3.4" fill="#0000ff"/>
<circle cx="1483.6" cy="407.1" r="3.4" fill="#0000ff"/>
<circle cx="1483.6" cy="471.8" r="3.4" fill="#0000ff"/>
<circle cx="1484.3" cy="366.7" r="3.4" fill="#0000ff"/>
<circle cx="1485.9" cy="401.3" r="3.4" fill="#0000ff"/>
<circle cx="1487.5" cy="361.9" r="3.4" fill="#0000ff"/>
<circle cx="1489.1" cy="175.4" r="3.4" fill="#0000ff"/>
<circle cx="1489.1" cy="332.8" r="3.4" fill="#0000ff"/>
<circle cx="1490.1" cy="383.5" r="3.4" fill="#0000ff"/>
<circle cx="1494.6" cy="254.3" r="3.4" fill="#0000ff"/>
<circle cx="1495.6" cy="469.5" r="3.4" fill="#0000ff"/>
<circle cx="1497.2" cy="299.9" r="3.4" fill="#0000ff"/>
<circle cx="1497.2" cy="339.3" r="3.4" fill="#0000ff"/>
<circle cx="1497.2" cy="370" r="3.4" fill="#0000ff"/>
<circle cx="1498.8" cy="467.9" r="3.4" fill="#0000ff"/>
<circle cx="1502" cy="289.2" r="3.4" fill="#0000ff"/>
<circle cx="1503.7" cy="342.5" r="3.4" fill="#0000ff"/>
<circle cx="1505.3" cy="235.9" r="3.4" fill="#0000ff"/>
<circle cx="1507.5" cy="283.4" r="3.4" fill="#0000ff"/>
<circle cx="1508.5" cy="226.2" r="3.4" fill="#0000ff"/>
<circle cx="1510.1" cy="358.7" r="3.4" fill="#0000ff"/>
<circle cx="1511.7" cy="280.1" r="3.4" fill="#0000ff"/>
<circle cx="1513.4" cy="290.8" r="3.4" fill="#0000ff"/>
<circle cx="1513.4" cy="340.9" r="3.4" fill="#0000ff"/>
<circle cx="1513.4" cy="357" r="3.4" fill="#0000ff"/>
<circle cx="1514.3" cy="257.5" r="3.4" fill="#0000ff"/>
<circle cx="1518.2" cy="284.3" r="3.4" fill="#0000ff"/>
<circle cx="1519.2" cy="201" r="3.4" fill="#0000ff"/>
<circle cx="1519.2" cy="222.9" r="3.4" fill="#0000ff"/>
<circle cx="1519.2" cy="224.6" r="3.4" fill="#0000ff"/>
<circle cx="1523.1" cy="221.3" r="3.4" fill="#0000ff"/>
<circle cx="1525.6" cy="376.4" r="3.4" fill="#0000ff"/>
<circle cx="1526.9" cy="301.1" r="3.4" fill="#0000ff"/>
<circle cx="1529.5" cy="368.4" r="3.4" fill="#0000ff"/>
<circle cx="1532.7" cy="333.8" r="3.4" fill="#0000ff"/>
<circle cx="1534.4" cy="201" r="3.4" fill="#0000ff"/>
<circle cx="1539.2" cy="349" r="3.4" fill="#0000ff"/>
<circle cx="1543.1" cy="235.2" r="3.4" fill="#0000ff"/>
<circle cx="1544.1" cy="348.3" r="3.4" fill="#0000ff"/>
<circle cx="1547.3" cy="378.1" r="3.4" fill="#0000ff"/>
<circle cx="1552.1" cy="367.7" r="3.4" fill="#0000ff"/>
<circle cx="1555.4" cy="385.2" r="3.4" fill="#0000ff"/>
<circle cx="1556.3" cy="222.3" r="3.4" fill="#0000ff"/>
<circle cx="1563.4" cy="354.5" r="3.4" fill="#0000ff"/>
<circle cx="1565.1" cy="361.2" r="3.4" fill="#0000ff"/>
<circle cx="1599" cy="277.9" r="3.4" fill="#0000ff"/>
<circle cx="1602.2" cy="367.7" r="3.4" fill="#0000ff"/>
<circle cx="1605.5" cy="278.8" r="3.4" fill="#0000ff"/>
<circle cx="1616.8" cy="283.7" r="3.4" fill="#0000ff"/>
<circle cx="1630.3" cy="261.1" r="3.4" fill="#0000ff"/>
<polyline points="1292.98,192.9 1297.83,198.71 1302.67,204.21 1306.55,208.41 1310.43,213.25 1302.67,213.25 1294.6,214.22 1285.55,240.07 1305.91,221.33 1313.01,227.15 1302.67,245.57 1297.83,244.6 1291.04,270.45 1297.5,279.5 1295.24,293.39 1288.78,303.08 1280.06,295.65 1271.98,288.22 1263.9,280.14 1270.36,274.65 1276.82,268.19 1260.67,352.2" fill="none" stroke="#ff0000" stroke-width="2.08" stroke-linejoin="round" stroke-linecap="butt"/>
<polyline points="1294.6,214.22 1302.67,245.57 1308.17,268.19 1313.01,257.52 1317.86,247.18 1316.25,281.76 1306.55,324.73 1311.4,339.28 1296.86,368.36 1306.55,369.97 1316.25,342.51 1325.94,316.66 1327.56,287.57 1324.32,274.65 1329.17,305.35 1332.4,339.28 1334.02,352.2 1322.71,329.58 1314.63,342.51 1308.17,352.2 1304.94,336.04 1319.48,323.12 1325.94,336.04 1316.25,352.2 1327.56,370.94 1323.35,378.05 1315.6,378.7 1312.37,388.71 1294.6,386.13 1305.91,371.59" fill="none" stroke="#ff0000" stroke-width="2.08" stroke-linejoin="round" stroke-linecap="butt"/>
<polyline points="1330.79,390.98 1312.37,388.71 1315.6,399.05 1315.6,416.83 1311.4,436.22 1316.25,426.52 1330.14,404.55 1319.48,426.52 1322.71,453.34 1315.6,450.76 1308.81,451.73 1302.67,449.79 1295.89,447.52 1311.4,416.83 1315.6,399.05" fill="none" stroke="#ff0000" stroke-width="2.08" stroke-linejoin="round" stroke-linecap="butt"/>
<polyline points="1305.52,324.73 1309.07,333.27 1304.09,330.43 1314.06,335.41 1319.75,328.29 1321.17,324.73 1328.29,329.72 1325.44,335.41 1329.72,338.97 1325.44,342.53 1317.62,341.1 1311.21,338.97 1312.63,343.95 1316.9,348.22 1308.36,349.64 1310.5,353.2 1316.19,353.2 1321.17,346.09 1328.29,346.09 1324.73,349.64 1319.75,354.63 1314.06,356.76 1305.52,361.03 1300.53,359.61 1308.36,365.3 1333.99,352.49 1321.17,346.09 1316.9,353.2" fill="none" stroke="#ff0000" stroke-width="2.08" stroke-linejoin="round" stroke-linecap="butt"/>
<circle cx="1260.7" cy="352.2" r="3.4" fill="#ff0000"/>
<circle cx="1263.9" cy="280.1" r="3.4" fill="#ff0000"/>
<circle cx="1270.4" cy="274.6" r="3.4" fill="#ff0000"/>
<circle cx="1272" cy="288.2" r="3.4" fill="#ff0000"/>
<circle cx="1276.8" cy="268.2" r="3.4" fill="#ff0000"/>
<circle cx="1280.1" cy="295.7" r="3.4" fill="#ff0000"/>
<circle cx="1285.5" cy="240.1" r="3.4" fill="#ff0000"/>
<circle cx="1288.8" cy="303.1" r="3.4" fill="#ff0000"/>
<circle cx="1291" cy="270.4" r="3.4" fill="#ff0000"/>
<circle cx="1293" cy="192.9" r="3.4" fill="#ff0000"/>
<circle cx="1294.6" cy="214.2" r="3.4" fill="#ff0000"/>
<circle cx="1294.6" cy="386.1" r="3.4" fill="#ff0000"/>
<circle cx="1295.2" cy="293.4" r="3.4" fill="#ff0000"/>
<circle cx="1295.9" cy="447.5" r="3.4" fill="#ff0000"/>
<circle cx="1296.9" cy="368.4" r="3.4" fill="#ff0000"/>
<circle cx="1297.5" cy="279.5" r="3.4" fill="#ff0000"/>
<circle cx="1297.8" cy="198.7" r="3.4" fill="#ff0000"/>
<circle cx="1297.8" cy="244.6" r="3.4" fill="#ff0000"/>
<circle cx="1300.5" cy="359.6" r="3.4" fill="#ff0000"/>
<circle cx="1302.7" cy="204.2" r="3.4" fill="#ff0000"/>
<circle cx="1302.7" cy="213.3" r="3.4" fill="#ff0000"/>
<circle cx="1302.7" cy="245.6" r="3.4" fill="#ff0000"/>
<circle cx="1302.7" cy="449.8" r="3.4" fill="#ff0000"/>
<circle cx="1304.1" cy="330.4" r="3.4" fill="#ff0000"/>
<circle cx="1304.9" cy="336" r="3.4" fill="#ff0000"/>
<circle cx="1305.5" cy="324.7" r="3.4" fill="#ff0000"/>
<circle cx="1305.5" cy="361" r="3.4" fill="#ff0000"/>
<circle cx="1305.9" cy="221.3" r="3.4" fill="#ff0000"/>
<circle cx="1305.9" cy="371.6" r="3.4" fill="#ff0000"/>
<circle cx="1306.6" cy="208.4" r="3.4" fill="#ff0000"/>
<circle cx="1306.6" cy="324.7" r="3.4" fill="#ff0000"/>
<circle cx="1306.6" cy="370" r="3.4" fill="#ff0000"/>
<circle cx="1308.2" cy="268.2" r="3.4" fill="#ff0000"/>
<circle cx="1308.2" cy="352.2" r="3.4" fill="#ff0000"/>
<circle cx="1308.4" cy="349.6" r="3.4" fill="#ff0000"/>
<circle cx="1308.4" cy="365.3" r="3.4" fill="#ff0000"/>
<circle cx="1308.8" cy="451.7" r="3.4" fill="#ff0000"/>
<circle cx="1309.1" cy="333.3" r="3.4" fill="#ff0000"/>
<circle cx="1310.4" cy="213.3" r="3.4" fill="#ff0000"/>
<circle cx="1310.5" cy="353.2" r="3.4" fill="#ff0000"/>
<circle cx="1311.2" cy="339" r="3.4" fill="#ff0000"/>
<circle cx="1311.4" cy="339.3" r="3.4" fill="#ff0000"/>
<circle cx="1311.4" cy="416.8" r="3.4" fill="#ff0000"/>
<circle cx="1311.4" cy="436.2" r="3.4" fill="#ff0000"/>
<circle cx="1312.4" cy="388.7" r="3.4" fill="#ff0000"/>
<circle cx="1312.6" cy="344" r="3.4" fill="#ff0000"/>
<circle cx="1313" cy="227.1" r="3.4" fill="#ff0000"/>
<circle cx="1313" cy="257.5" r="3.4" fill="#ff0000"/>
<circle cx="1314.1" cy="335.4" r="3.4" fill="#ff0000"/>
<circle cx="1314.1" cy="356.8" r="3.4" fill="#ff0000"/>
<circle cx="1314.6" cy="342.5" r="3.4" fill="#ff0000"/>
<circle cx="1315.6" cy="378.7" r="3.4" fill="#ff0000"/>
<circle cx="1315.6" cy="399.1" r="3.4" fill="#ff0000"/>
<circle cx="1315.6" cy="416.8" r="3.4" fill="#ff0000"/>
<circle cx="1315.6" cy="450.8" r="3.4" fill="#ff0000"/>
<circle cx="1316.2" cy="281.8" r="3.4" fill="#ff0000"/>
<circle cx="1316.2" cy="342.5" r="3.4" fill="#ff0000"/>
<circle cx="1316.2" cy="352.2" r="3.4" fill="#ff0000"/>
<circle cx="1316.2" cy="353.2" r="3.4" fill="#ff0000"/>
<circle cx="1316.2" cy="426.5" r="3.4" fill="#ff0000"/>
<circle cx="1316.9" cy="348.2" r="3.4" fill="#ff0000"/>
<circle cx="1316.9" cy="353.2" r="3.4" fill="#ff0000"/>
<circle cx="1317.6" cy="341.1" r="3.4" fill="#ff0000"/>
<circle cx="1317.9" cy="247.2" r="3.4" fill="#ff0000"/>
<circle cx="1319.5" cy="323.1" r="3.4" fill="#ff0000"/>
<circle cx="1319.5" cy="426.5" r="3.4" fill="#ff0000"/>
<circle cx="1319.8" cy="328.3" r="3.4" fill="#ff0000"/>
<circle cx="1319.8" cy="354.6" r="3.4" fill="#ff0000"/>
<circle cx="1321.2" cy="324.7" r="3.4" fill="#ff0000"/>
<circle cx="1321.2" cy="346.1" r="3.4" fill="#ff0000"/>
<circle cx="1322.7" cy="329.6" r="3.4" fill="#ff0000"/>
<circle cx="1322.7" cy="453.3" r="3.4" fill="#ff0000"/>
<circle cx="1323.4" cy="378.1" r="3.4" fill="#ff0000"/>
<circle cx="1324.3" cy="274.6" r="3.4" fill="#ff0000"/>
<circle cx="1324.7" cy="349.6" r="3.4" fill="#ff0000"/>
<circle cx="1325.4" cy="335.4" r="3.4" fill="#ff0000"/>
<circle cx="1325.4" cy="342.5" r="3.4" fill="#ff0000"/>
<circle cx="1325.9" cy="316.7" r="3.4" fill="#ff0000"/>
<circle cx="1325.9" cy="336" r="3.4" fill="#ff0000"/>
<circle cx="1327.6" cy="287.6" r="3.4" fill="#ff0000"/>
<circle cx="1327.6" cy="370.9" r="3.4" fill="#ff0000"/>
<circle cx="1328.3" cy="329.7" r="3.4" fill="#ff0000"/>
<circle cx="1328.3" cy="346.1" r="3.4" fill="#ff0000"/>
<circle cx="1329.2" cy="305.3" r="3.4" fill="#ff0000"/>
<circle cx="1329.7" cy="339" r="3.4" fill="#ff0000"/>
<circle cx="1330.1" cy="404.5" r="3.4" fill="#ff0000"/>
<circle cx="1330.8" cy="391" r="3.4" fill="#ff0000"/>
<circle cx="1332.4" cy="339.3" r="3.4" fill="#ff0000"/>
<circle cx="1334" cy="352.2" r="3.4" fill="#ff0000"/>
<circle cx="1334" cy="352.5" r="3.4" fill="#ff0000"/>
</g>
<g clip-path="url(#cD)">
<circle cx="456.33" cy="782.38" r="5.3" fill="#ff0000"/>
<circle cx="464.02" cy="771.33" r="5.3" fill="#ff0000"/>
<circle cx="472.66" cy="773.25" r="5.3" fill="#ff0000"/>
<circle cx="486.11" cy="769.41" r="5.3" fill="#ff0000"/>
<circle cx="484.19" cy="774.21" r="5.3" fill="#ff0000"/>
<circle cx="478.42" cy="781.42" r="5.3" fill="#ff0000"/>
<circle cx="485.15" cy="785.74" r="5.3" fill="#ff0000"/>
<circle cx="488.99" cy="787.66" r="5.3" fill="#ff0000"/>
<circle cx="496.68" cy="773.25" r="5.3" fill="#ff0000"/>
<circle cx="503.4" cy="771.33" r="5.3" fill="#ff0000"/>
<circle cx="512.05" cy="772.29" r="5.3" fill="#ff0000"/>
<circle cx="522.61" cy="769.41" r="5.3" fill="#ff0000"/>
<circle cx="532.22" cy="771.33" r="5.3" fill="#ff0000"/>
<circle cx="543.75" cy="770.37" r="5.3" fill="#ff0000"/>
<circle cx="549.51" cy="772.29" r="5.3" fill="#ff0000"/>
<circle cx="551.43" cy="778.05" r="5.3" fill="#ff0000"/>
<circle cx="541.83" cy="779.02" r="5.3" fill="#ff0000"/>
<circle cx="534.14" cy="781.9" r="5.3" fill="#ff0000"/>
<circle cx="526.46" cy="779.98" r="5.3" fill="#ff0000"/>
<circle cx="518.77" cy="777.09" r="5.3" fill="#ff0000"/>
<circle cx="507.24" cy="779.02" r="5.3" fill="#ff0000"/>
<circle cx="499.56" cy="783.82" r="5.3" fill="#ff0000"/>
<circle cx="499.56" cy="790.54" r="5.3" fill="#ff0000"/>
<circle cx="507.24" cy="797.27" r="5.3" fill="#ff0000"/>
<circle cx="515.89" cy="788.62" r="5.3" fill="#ff0000"/>
<circle cx="524.53" cy="786.7" r="5.3" fill="#ff0000"/>
<circle cx="524.53" cy="794.39" r="5.3" fill="#ff0000"/>
<circle cx="529.34" cy="798.23" r="5.3" fill="#ff0000"/>
<circle cx="542.79" cy="791.5" r="5.3" fill="#ff0000"/>
<circle cx="536.06" cy="786.7" r="5.3" fill="#ff0000"/>
<circle cx="565.84" cy="774.21" r="5.3" fill="#ff0000"/>
<circle cx="567.76" cy="788.62" r="5.3" fill="#ff0000"/>
<circle cx="560.08" cy="800.15" r="5.3" fill="#ff0000"/>
<circle cx="563.92" cy="793.42" r="5.3" fill="#ff0000"/>
<circle cx="493.79" cy="779.02" r="5.3" fill="#ff0000"/>
<circle cx="513.01" cy="782.86" r="5.3" fill="#ff0000"/>
<circle cx="530.3" cy="775.17" r="5.3" fill="#ff0000"/>
<circle cx="539.9" cy="774.21" r="5.3" fill="#ff0000"/>
<circle cx="497.64" cy="777.09" r="5.3" fill="#ff0000"/>
<circle cx="505.32" cy="775.17" r="5.3" fill="#ff0000"/>
<circle cx="509.16" cy="783.82" r="5.3" fill="#ff0000"/>
<circle cx="516.85" cy="781.9" r="5.3" fill="#ff0000"/>
<circle cx="522.61" cy="775.17" r="5.3" fill="#ff0000"/>
<circle cx="528.38" cy="783.82" r="5.3" fill="#ff0000"/>
<circle cx="534.14" cy="777.09" r="5.3" fill="#ff0000"/>
<circle cx="539.9" cy="781.9" r="5.3" fill="#ff0000"/>
<circle cx="545.67" cy="776.13" r="5.3" fill="#ff0000"/>
<circle cx="550.47" cy="780.94" r="5.3" fill="#ff0000"/>
<circle cx="502.44" cy="788.62" r="5.3" fill="#ff0000"/>
<circle cx="512.05" cy="791.5" r="5.3" fill="#ff0000"/>
<circle cx="521.65" cy="791.5" r="5.3" fill="#ff0000"/>
<circle cx="531.26" cy="792.46" r="5.3" fill="#ff0000"/>
<circle cx="536.06" cy="795.35" r="5.3" fill="#ff0000"/>
<circle cx="507.24" cy="770.37" r="5.3" fill="#ff0000"/>
<circle cx="518.77" cy="772.29" r="5.3" fill="#ff0000"/>
<circle cx="536.06" cy="770.37" r="5.3" fill="#ff0000"/>
<circle cx="164.51" cy="1020.35" r="5.3" fill="#008000"/>
<circle cx="193.33" cy="1024.3" r="5.3" fill="#008000"/>
<circle cx="162.91" cy="1044.05" r="5.3" fill="#008000"/>
<circle cx="159.17" cy="1053.66" r="5.3" fill="#008000"/>
<circle cx="156.5" cy="1062.2" r="5.3" fill="#008000"/>
<circle cx="119.14" cy="1082.49" r="5.3" fill="#008000"/>
<circle cx="138.35" cy="1080.35" r="5.3" fill="#008000"/>
<circle cx="123.41" cy="1091.03" r="5.3" fill="#008000"/>
<circle cx="129.81" cy="1088.89" r="5.3" fill="#008000"/>
<circle cx="128.74" cy="1102.77" r="5.3" fill="#008000"/>
<circle cx="125.54" cy="1111.31" r="5.3" fill="#008000"/>
<circle cx="147.96" cy="1111.31" r="5.3" fill="#008000"/>
<circle cx="153.3" cy="1104.91" r="5.3" fill="#008000"/>
<circle cx="155.43" cy="1095.3" r="5.3" fill="#008000"/>
<circle cx="166.11" cy="1089.43" r="5.3" fill="#008000"/>
<circle cx="181.05" cy="1077.68" r="5.3" fill="#008000"/>
<circle cx="185.32" cy="1068.61" r="5.3" fill="#008000"/>
<circle cx="198.14" cy="1049.39" r="5.3" fill="#008000"/>
<circle cx="167.18" cy="1048.32" r="5.3" fill="#008000"/>
<circle cx="161.84" cy="1073.95" r="5.3" fill="#008000"/>
<circle cx="141.55" cy="1096.37" r="5.3" fill="#008000"/>
<circle cx="119.14" cy="1097.43" r="5.3" fill="#008000"/>
<circle cx="134.08" cy="1108.11" r="5.3" fill="#008000"/>
<circle cx="152.23" cy="1098.5" r="5.3" fill="#008000"/>
<circle cx="170.38" cy="1054.73" r="5.3" fill="#008000"/>
<circle cx="176.78" cy="1065.41" r="5.3" fill="#008000"/>
<circle cx="143.69" cy="1086.76" r="5.3" fill="#008000"/>
<circle cx="130.88" cy="1097.43" r="5.3" fill="#008000"/>
<circle cx="164.25" cy="1043.59" r="5.3" fill="#008000"/>
<circle cx="158.35" cy="1047.72" r="5.3" fill="#008000"/>
<circle cx="157.17" cy="1054.81" r="5.3" fill="#008000"/>
<circle cx="155.39" cy="1062.49" r="5.3" fill="#008000"/>
<circle cx="150.08" cy="1070.17" r="5.3" fill="#008000"/>
<circle cx="138.85" cy="1079.03" r="5.3" fill="#008000"/>
<circle cx="118.77" cy="1081.98" r="5.3" fill="#008000"/>
<circle cx="130.59" cy="1087.89" r="5.3" fill="#008000"/>
<circle cx="121.73" cy="1093.79" r="5.3" fill="#008000"/>
<circle cx="130.59" cy="1097.93" r="5.3" fill="#008000"/>
<circle cx="124.68" cy="1102.65" r="5.3" fill="#008000"/>
<circle cx="124.68" cy="1110.33" r="5.3" fill="#008000"/>
<circle cx="148.31" cy="1110.33" r="5.3" fill="#008000"/>
<circle cx="153.62" cy="1105.01" r="5.3" fill="#008000"/>
<circle cx="155.98" cy="1096.15" r="5.3" fill="#008000"/>
<circle cx="166.03" cy="1090.25" r="5.3" fill="#008000"/>
<circle cx="164.25" cy="1084.34" r="5.3" fill="#008000"/>
<circle cx="180.2" cy="1078.43" r="5.3" fill="#008000"/>
<circle cx="184.93" cy="1071.35" r="5.3" fill="#008000"/>
<circle cx="197.33" cy="1052.45" r="5.3" fill="#008000"/>
<circle cx="143.58" cy="1100.88" r="5.3" fill="#008000"/>
<circle cx="134.72" cy="1105.61" r="5.3" fill="#008000"/>
<circle cx="234.43" cy="999.75" r="5.3" fill="#0000ff"/>
<circle cx="242.44" cy="1002.95" r="5.3" fill="#0000ff"/>
<circle cx="252.58" cy="1005.62" r="5.3" fill="#0000ff"/>
<circle cx="226.96" cy="1009.89" r="5.3" fill="#0000ff"/>
<circle cx="219.49" cy="1014.16" r="5.3" fill="#0000ff"/>
<circle cx="207.21" cy="1017.9" r="5.3" fill="#0000ff"/>
<circle cx="232.3" cy="1016.3" r="5.3" fill="#0000ff"/>
<circle cx="233.37" cy="1022.7" r="5.3" fill="#0000ff"/>
<circle cx="224.83" cy="1033.38" r="5.3" fill="#0000ff"/>
<circle cx="217.35" cy="1026.97" r="5.3" fill="#0000ff"/>
<circle cx="210.95" cy="1030.18" r="5.3" fill="#0000ff"/>
<circle cx="214.15" cy="1044.05" r="5.3" fill="#0000ff"/>
<circle cx="204.54" cy="1045.12" r="5.3" fill="#0000ff"/>
<circle cx="201.34" cy="1029.11" r="5.3" fill="#0000ff"/>
<circle cx="186.39" cy="1030.18" r="5.3" fill="#0000ff"/>
<circle cx="185.32" cy="1036.58" r="5.3" fill="#0000ff"/>
<circle cx="177.85" cy="1042.99" r="5.3" fill="#0000ff"/>
<circle cx="191.73" cy="1041.92" r="5.3" fill="#0000ff"/>
<circle cx="196" cy="1048.32" r="5.3" fill="#0000ff"/>
<circle cx="190.66" cy="1056.87" r="5.3" fill="#0000ff"/>
<circle cx="189.6" cy="1062.2" r="5.3" fill="#0000ff"/>
<circle cx="174.65" cy="1053.66" r="5.3" fill="#0000ff"/>
<circle cx="168.24" cy="1064.34" r="5.3" fill="#0000ff"/>
<circle cx="173.58" cy="1069.68" r="5.3" fill="#0000ff"/>
<circle cx="166.11" cy="1076.08" r="5.3" fill="#0000ff"/>
<circle cx="159.7" cy="1076.08" r="5.3" fill="#0000ff"/>
<circle cx="147.96" cy="1071.81" r="5.3" fill="#0000ff"/>
<circle cx="154.37" cy="1073.95" r="5.3" fill="#0000ff"/>
<circle cx="139.42" cy="1082.49" r="5.3" fill="#0000ff"/>
<circle cx="138.35" cy="1096.37" r="5.3" fill="#0000ff"/>
<circle cx="149.03" cy="1085.69" r="5.3" fill="#0000ff"/>
<circle cx="152.23" cy="1092.1" r="5.3" fill="#0000ff"/>
<circle cx="181.05" cy="1054.73" r="5.3" fill="#0000ff"/>
<circle cx="208.81" cy="1035.51" r="5.3" fill="#0000ff"/>
<circle cx="218.42" cy="1022.7" r="5.3" fill="#0000ff"/>
<circle cx="229.1" cy="1015.23" r="5.3" fill="#0000ff"/>
<circle cx="143.69" cy="1088.89" r="5.3" fill="#0000ff"/>
<circle cx="161.84" cy="1067.54" r="5.3" fill="#0000ff"/>
<circle cx="176.07" cy="1041.81" r="5.3" fill="#0000ff"/>
<circle cx="184.93" cy="1035.91" r="5.3" fill="#0000ff"/>
<circle cx="192.61" cy="1038.86" r="5.3" fill="#0000ff"/>
<circle cx="173.7" cy="1053.63" r="5.3" fill="#0000ff"/>
<circle cx="187.88" cy="1059.53" r="5.3" fill="#0000ff"/>
<circle cx="190.83" cy="1062.49" r="5.3" fill="#0000ff"/>
<circle cx="166.03" cy="1063.08" r="5.3" fill="#0000ff"/>
<circle cx="170.16" cy="1070.17" r="5.3" fill="#0000ff"/>
<circle cx="176.07" cy="1071.35" r="5.3" fill="#0000ff"/>
<circle cx="163.07" cy="1077.25" r="5.3" fill="#0000ff"/>
<circle cx="167.8" cy="1078.43" r="5.3" fill="#0000ff"/>
<circle cx="147.71" cy="1071.94" r="5.3" fill="#0000ff"/>
<circle cx="154.8" cy="1074.89" r="5.3" fill="#0000ff"/>
<circle cx="140.63" cy="1081.39" r="5.3" fill="#0000ff"/>
<circle cx="150.08" cy="1084.34" r="5.3" fill="#0000ff"/>
<circle cx="137.67" cy="1092.02" r="5.3" fill="#0000ff"/>
<circle cx="152.44" cy="1092.61" r="5.3" fill="#0000ff"/>
<circle cx="139.45" cy="1097.93" r="5.3" fill="#0000ff"/>
<circle cx="143.58" cy="1089.07" r="5.3" fill="#0000ff"/>
<circle cx="197.07" cy="1037.65" r="5.3" fill="#0000ff"/>
<circle cx="191.73" cy="1031.24" r="5.3" fill="#0000ff"/>
<circle cx="204.54" cy="1035.51" r="5.3" fill="#0000ff"/>
<circle cx="181.05" cy="1048.32" r="5.3" fill="#0000ff"/>
<circle cx="210.95" cy="1022.7" r="5.3" fill="#0000ff"/>
<circle cx="223.76" cy="1024.84" r="5.3" fill="#0000ff"/>
<circle cx="219.49" cy="1039.78" r="5.3" fill="#0000ff"/>
<circle cx="188.53" cy="1046.19" r="5.3" fill="#0000ff"/>
<circle cx="168.24" cy="1065.41" r="5.3" fill="#0000ff"/>
<circle cx="159.7" cy="1065.41" r="5.3" fill="#0000ff"/>
<circle cx="176.78" cy="1063.27" r="5.3" fill="#0000ff"/>
<circle cx="149.03" cy="1081.42" r="5.3" fill="#0000ff"/>
<circle cx="141.55" cy="1089.96" r="5.3" fill="#0000ff"/>
<circle cx="207.74" cy="1039.78" r="5.3" fill="#0000ff"/>
<circle cx="239.77" cy="1007.76" r="5.3" fill="#0000ff"/>
<circle cx="199.2" cy="1044.05" r="5.3" fill="#0000ff"/>
<circle cx="216.28" cy="1031.24" r="5.3" fill="#0000ff"/>
<line x1="116.9" y1="1105.61" x2="570.6" y2="740.59" stroke="#000" stroke-width="2.08" stroke-dasharray="12.5,12.5"/>
</g>
<g clip-path="url(#cF)">
<polyline points="1443.3,706.41 1456.34,709.23 1466.21,708.18 1468.68,711.35 1475.37,701.13 1484.54,694.25 1476.26,744.83 1478.9,752.24 1475.37,757.17 1474.49,761.58 1470.44,771.62 1465.68,739.55 1461.81,739.55 1443.3,706.41" fill="none" stroke="#0000ff" stroke-width="2.08" stroke-linejoin="round" stroke-linecap="butt"/>
<polyline points="1466.21,708.18 1473.08,732.5 1476.26,744.83" fill="none" stroke="#0000ff" stroke-width="2.08" stroke-linejoin="round" stroke-linecap="butt"/>
<polyline points="1468.68,711.35 1485.07,741.31 1503.57,775.32 1501.81,791.54 1492.11,813.04 1481.89,840 1474.49,835.6 1469.21,835.6 1463.92,828.55 1460.4,817.09 1455.46,804.76 1426.39,769.16 1464.27,780.43 1501.81,791.54" fill="none" stroke="#0000ff" stroke-width="2.08" stroke-linejoin="round" stroke-linecap="butt"/>
<polyline points="1474.49,761.58 1475.37,772.15 1475.37,805.29" fill="none" stroke="#0000ff" stroke-width="2.08" stroke-linejoin="round" stroke-linecap="butt"/>
<polyline points="1424.63,790.3 1450.35,832.07 1462.16,851.46 1469.21,852.34 1464.8,862.04 1479.78,856.75 1489.47,852.34 1495.64,857.63 1506.21,863.8 1522.42,868.2 1506.21,891.12 1499.16,901.69 1495.64,882.3 1486.83,882.3 1478.9,881.42 1476.26,862.92 1461.28,861.15 1456.87,876.13 1481.54,870.85 1504.45,872.61" fill="none" stroke="#0000ff" stroke-width="2.08" stroke-linejoin="round" stroke-linecap="butt"/>
<polyline points="1424.63,790.3 1456.87,876.13 1488.59,949.28 1489.47,961.26 1495.11,1017.13 1481.54,993.34 1468.68,969.01 1465.68,995.1 1467.44,995.1" fill="none" stroke="#0000ff" stroke-width="2.08" stroke-linejoin="round" stroke-linecap="butt"/>
<polyline points="1496.52,818.86 1496.52,862.92 1493.88,869.97 1490.35,871.73 1481.54,882.3 1484.19,909.62 1486.83,936.94 1489.47,949.28 1493.52,943.11 1499.52,938.17 1496.52,932.88 1504.1,919.31 1492.11,898.16 1492.11,911.38 1496.52,932.88" fill="none" stroke="#0000ff" stroke-width="2.08" stroke-linejoin="round" stroke-linecap="butt"/>
<polyline points="1401.37,868.2 1444.19,1016.25 1431.32,1003.38 1418.11,991.22 1429.56,976.06 1439.25,960.2 1450.35,944.87 1453.35,943.99 1463.92,983.64 1467.44,995.1 1476.26,1023.3 1477.14,1028.58 1502.33,1070 1477.14,1058.55 1453.35,1045.33 1455.99,1064.71 1474.49,1071.76 1491.59,1080.05 1483.66,1085.86 1475.37,1092.03 1468.68,1098.2 1460.4,1103.49 1468.33,1028.58 1452.11,988.4" fill="none" stroke="#0000ff" stroke-width="2.08" stroke-linejoin="round" stroke-linecap="butt"/>
<polyline points="1484.54,1070 1476.26,1023.3 1468.33,1028.58" fill="none" stroke="#0000ff" stroke-width="2.08" stroke-linejoin="round" stroke-linecap="butt"/>
<polyline points="1461.28,851.46 1465.68,847.05 1470.97,851.46 1481.54,840 1488.59,851.46 1495.64,869.97 1499.16,901.69" fill="none" stroke="#0000ff" stroke-width="2.08" stroke-linejoin="round" stroke-linecap="butt"/>
<polyline points="1450.35,832.07 1463.92,828.55 1474.49,835.6 1481.89,840 1492.11,813.04" fill="none" stroke="#0000ff" stroke-width="2.08" stroke-linejoin="round" stroke-linecap="butt"/>
<circle cx="1401.4" cy="868.2" r="3.4" fill="#0000ff"/>
<circle cx="1418.1" cy="991.2" r="3.4" fill="#0000ff"/>
<circle cx="1424.6" cy="790.3" r="3.4" fill="#0000ff"/>
<circle cx="1426.4" cy="769.2" r="3.4" fill="#0000ff"/>
<circle cx="1429.6" cy="976.1" r="3.4" fill="#0000ff"/>
<circle cx="1431.3" cy="1003.4" r="3.4" fill="#0000ff"/>
<circle cx="1439.3" cy="960.2" r="3.4" fill="#0000ff"/>
<circle cx="1443.3" cy="706.4" r="3.4" fill="#0000ff"/>
<circle cx="1444.2" cy="1016.2" r="3.4" fill="#0000ff"/>
<circle cx="1450.4" cy="832.1" r="3.4" fill="#0000ff"/>
<circle cx="1450.4" cy="944.9" r="3.4" fill="#0000ff"/>
<circle cx="1452.1" cy="988.4" r="3.4" fill="#0000ff"/>
<circle cx="1453.3" cy="944" r="3.4" fill="#0000ff"/>
<circle cx="1453.3" cy="1045.3" r="3.4" fill="#0000ff"/>
<circle cx="1455.5" cy="804.8" r="3.4" fill="#0000ff"/>
<circle cx="1456" cy="1064.7" r="3.4" fill="#0000ff"/>
<circle cx="1456.3" cy="709.2" r="3.4" fill="#0000ff"/>
<circle cx="1456.9" cy="876.1" r="3.4" fill="#0000ff"/>
<circle cx="1460.4" cy="817.1" r="3.4" fill="#0000ff"/>
<circle cx="1460.4" cy="1103.5" r="3.4" fill="#0000ff"/>
<circle cx="1461.3" cy="851.5" r="3.4" fill="#0000ff"/>
<circle cx="1461.3" cy="861.2" r="3.4" fill="#0000ff"/>
<circle cx="1461.8" cy="739.5" r="3.4" fill="#0000ff"/>
<circle cx="1462.2" cy="851.5" r="3.4" fill="#0000ff"/>
<circle cx="1463.9" cy="828.5" r="3.4" fill="#0000ff"/>
<circle cx="1463.9" cy="983.6" r="3.4" fill="#0000ff"/>
<circle cx="1464.3" cy="780.4" r="3.4" fill="#0000ff"/>
<circle cx="1464.8" cy="862" r="3.4" fill="#0000ff"/>
<circle cx="1465.7" cy="739.5" r="3.4" fill="#0000ff"/>
<circle cx="1465.7" cy="847.1" r="3.4" fill="#0000ff"/>
<circle cx="1465.7" cy="995.1" r="3.4" fill="#0000ff"/>
<circle cx="1466.2" cy="708.2" r="3.4" fill="#0000ff"/>
<circle cx="1467.4" cy="995.1" r="3.4" fill="#0000ff"/>
<circle cx="1468.3" cy="1028.6" r="3.4" fill="#0000ff"/>
<circle cx="1468.7" cy="711.3" r="3.4" fill="#0000ff"/>
<circle cx="1468.7" cy="969" r="3.4" fill="#0000ff"/>
<circle cx="1468.7" cy="1098.2" r="3.4" fill="#0000ff"/>
<circle cx="1469.2" cy="835.6" r="3.4" fill="#0000ff"/>
<circle cx="1469.2" cy="852.3" r="3.4" fill="#0000ff"/>
<circle cx="1470.4" cy="771.6" r="3.4" fill="#0000ff"/>
<circle cx="1471" cy="851.5" r="3.4" fill="#0000ff"/>
<circle cx="1473.1" cy="732.5" r="3.4" fill="#0000ff"/>
<circle cx="1474.5" cy="761.6" r="3.4" fill="#0000ff"/>
<circle cx="1474.5" cy="835.6" r="3.4" fill="#0000ff"/>
<circle cx="1474.5" cy="1071.8" r="3.4" fill="#0000ff"/>
<circle cx="1475.4" cy="701.1" r="3.4" fill="#0000ff"/>
<circle cx="1475.4" cy="757.2" r="3.4" fill="#0000ff"/>
<circle cx="1475.4" cy="772.2" r="3.4" fill="#0000ff"/>
<circle cx="1475.4" cy="805.3" r="3.4" fill="#0000ff"/>
<circle cx="1475.4" cy="1092" r="3.4" fill="#0000ff"/>
<circle cx="1476.3" cy="744.8" r="3.4" fill="#0000ff"/>
<circle cx="1476.3" cy="862.9" r="3.4" fill="#0000ff"/>
<circle cx="1476.3" cy="1023.3" r="3.4" fill="#0000ff"/>
<circle cx="1477.1" cy="1028.6" r="3.4" fill="#0000ff"/>
<circle cx="1477.1" cy="1058.5" r="3.4" fill="#0000ff"/>
<circle cx="1478.9" cy="752.2" r="3.4" fill="#0000ff"/>
<circle cx="1478.9" cy="881.4" r="3.4" fill="#0000ff"/>
<circle cx="1479.8" cy="856.7" r="3.4" fill="#0000ff"/>
<circle cx="1481.5" cy="840" r="3.4" fill="#0000ff"/>
<circle cx="1481.5" cy="870.8" r="3.4" fill="#0000ff"/>
<circle cx="1481.5" cy="882.3" r="3.4" fill="#0000ff"/>
<circle cx="1481.5" cy="993.3" r="3.4" fill="#0000ff"/>
<circle cx="1481.9" cy="840" r="3.4" fill="#0000ff"/>
<circle cx="1483.7" cy="1085.9" r="3.4" fill="#0000ff"/>
<circle cx="1484.2" cy="909.6" r="3.4" fill="#0000ff"/>
<circle cx="1484.5" cy="694.3" r="3.4" fill="#0000ff"/>
<circle cx="1484.5" cy="1070" r="3.4" fill="#0000ff"/>
<circle cx="1485.1" cy="741.3" r="3.4" fill="#0000ff"/>
<circle cx="1486.8" cy="882.3" r="3.4" fill="#0000ff"/>
<circle cx="1486.8" cy="936.9" r="3.4" fill="#0000ff"/>
<circle cx="1488.6" cy="851.5" r="3.4" fill="#0000ff"/>
<circle cx="1488.6" cy="949.3" r="3.4" fill="#0000ff"/>
<circle cx="1489.5" cy="852.3" r="3.4" fill="#0000ff"/>
<circle cx="1489.5" cy="949.3" r="3.4" fill="#0000ff"/>
<circle cx="1489.5" cy="961.3" r="3.4" fill="#0000ff"/>
<circle cx="1490.4" cy="871.7" r="3.4" fill="#0000ff"/>
<circle cx="1491.6" cy="1080" r="3.4" fill="#0000ff"/>
<circle cx="1492.1" cy="813" r="3.4" fill="#0000ff"/>
<circle cx="1492.1" cy="898.2" r="3.4" fill="#0000ff"/>
<circle cx="1492.1" cy="911.4" r="3.4" fill="#0000ff"/>
<circle cx="1493.5" cy="943.1" r="3.4" fill="#0000ff"/>
<circle cx="1493.9" cy="870" r="3.4" fill="#0000ff"/>
<circle cx="1495.1" cy="1017.1" r="3.4" fill="#0000ff"/>
<circle cx="1495.6" cy="857.6" r="3.4" fill="#0000ff"/>
<circle cx="1495.6" cy="870" r="3.4" fill="#0000ff"/>
<circle cx="1495.6" cy="882.3" r="3.4" fill="#0000ff"/>
<circle cx="1496.5" cy="818.9" r="3.4" fill="#0000ff"/>
<circle cx="1496.5" cy="862.9" r="3.4" fill="#0000ff"/>
<circle cx="1496.5" cy="932.9" r="3.4" fill="#0000ff"/>
<circle cx="1499.2" cy="901.7" r="3.4" fill="#0000ff"/>
<circle cx="1499.5" cy="938.2" r="3.4" fill="#0000ff"/>
<circle cx="1501.8" cy="791.5" r="3.4" fill="#0000ff"/>
<circle cx="1502.3" cy="1070" r="3.4" fill="#0000ff"/>
<circle cx="1503.6" cy="775.3" r="3.4" fill="#0000ff"/>
<circle cx="1504.1" cy="919.3" r="3.4" fill="#0000ff"/>
<circle cx="1504.4" cy="872.6" r="3.4" fill="#0000ff"/>
<circle cx="1506.2" cy="863.8" r="3.4" fill="#0000ff"/>
<circle cx="1506.2" cy="891.1" r="3.4" fill="#0000ff"/>
<circle cx="1522.4" cy="868.2" r="3.4" fill="#0000ff"/>
</g>
<line x1="117.5" y1="537.8" x2="117.5" y2="529.47" stroke="#000" stroke-width="1"/>
<line x1="117.5" y1="84.2" x2="117.5" y2="92.53" stroke="#000" stroke-width="1"/>
<text x="116.9" y="559.4" font-size="16.67" text-anchor="middle">−0.025</text>
<line x1="193.5" y1="537.8" x2="193.5" y2="529.47" stroke="#000" stroke-width="1"/>
<line x1="193.5" y1="84.2" x2="193.5" y2="92.53" stroke="#000" stroke-width="1"/>
<text x="192.52" y="559.4" font-size="16.67" text-anchor="middle">−0.020</text>
<line x1="268.5" y1="537.8" x2="268.5" y2="529.47" stroke="#000" stroke-width="1"/>
<line x1="268.5" y1="84.2" x2="268.5" y2="92.53" stroke="#000" stroke-width="1"/>
<text x="268.13" y="559.4" font-size="16.67" text-anchor="middle">−0.015</text>
<line x1="344.5" y1="537.8" x2="344.5" y2="529.47" stroke="#000" stroke-width="1"/>
<line x1="344.5" y1="84.2" x2="344.5" y2="92.53" stroke="#000" stroke-width="1"/>
<text x="343.75" y="559.4" font-size="16.67" text-anchor="middle">−0.010</text>
<line x1="419.5" y1="537.8" x2="419.5" y2="529.47" stroke="#000" stroke-width="1"/>
<line x1="419.5" y1="84.2" x2="419.5" y2="92.53" stroke="#000" stroke-width="1"/>
<text x="419.37" y="559.4" font-size="16.67" text-anchor="middle">−0.005</text>
<line x1="495.5" y1="537.8" x2="495.5" y2="529.47" stroke="#000" stroke-width="1"/>
<line x1="495.5" y1="84.2" x2="495.5" y2="92.53" stroke="#000" stroke-width="1"/>
<text x="494.98" y="559.4" font-size="16.67" text-anchor="middle">0.000</text>
<line x1="571.5" y1="537.8" x2="571.5" y2="529.47" stroke="#000" stroke-width="1"/>
<line x1="571.5" y1="84.2" x2="571.5" y2="92.53" stroke="#000" stroke-width="1"/>
<text x="570.6" y="559.4" font-size="16.67" text-anchor="middle">0.005</text>
<line x1="116.9" y1="492.5" x2="125.23" y2="492.5" stroke="#000" stroke-width="1"/>
<line x1="570.6" y1="492.5" x2="562.27" y2="492.5" stroke="#000" stroke-width="1"/>
<text x="107.3" y="497.84" font-size="16.67" text-anchor="end">0.268</text>
<line x1="116.9" y1="432.5" x2="125.23" y2="432.5" stroke="#000" stroke-width="1"/>
<line x1="570.6" y1="432.5" x2="562.27" y2="432.5" stroke="#000" stroke-width="1"/>
<text x="107.3" y="437.36" font-size="16.67" text-anchor="end">0.272</text>
<line x1="116.9" y1="371.5" x2="125.23" y2="371.5" stroke="#000" stroke-width="1"/>
<line x1="570.6" y1="371.5" x2="562.27" y2="371.5" stroke="#000" stroke-width="1"/>
<text x="107.3" y="376.88" font-size="16.67" text-anchor="end">0.276</text>
<line x1="116.9" y1="311.5" x2="125.23" y2="311.5" stroke="#000" stroke-width="1"/>
<line x1="570.6" y1="311.5" x2="562.27" y2="311.5" stroke="#000" stroke-width="1"/>
<text x="107.3" y="316.4" font-size="16.67" text-anchor="end">0.280</text>
<line x1="116.9" y1="251.5" x2="125.23" y2="251.5" stroke="#000" stroke-width="1"/>
<line x1="570.6" y1="251.5" x2="562.27" y2="251.5" stroke="#000" stroke-width="1"/>
<text x="107.3" y="255.92" font-size="16.67" text-anchor="end">0.284</text>
<line x1="116.9" y1="190.5" x2="125.23" y2="190.5" stroke="#000" stroke-width="1"/>
<line x1="570.6" y1="190.5" x2="562.27" y2="190.5" stroke="#000" stroke-width="1"/>
<text x="107.3" y="195.44" font-size="16.67" text-anchor="end">0.288</text>
<line x1="116.9" y1="130.5" x2="125.23" y2="130.5" stroke="#000" stroke-width="1"/>
<line x1="570.6" y1="130.5" x2="562.27" y2="130.5" stroke="#000" stroke-width="1"/>
<text x="107.3" y="134.96" font-size="16.67" text-anchor="end">0.292</text>
<text x="343.75" y="73.2" font-size="23.2" text-anchor="middle">Transverse pressure</text>
<text x="343.75" y="590.9" font-size="16.67" text-anchor="middle">A' (T·m)</text>
<text x="45.8" y="313.5" font-size="16.67" text-anchor="middle" transform="rotate(-90 45.8 313.5)">Pt' (nPa)</text>
<line x1="692.5" y1="537.8" x2="692.5" y2="529.47" stroke="#000" stroke-width="1"/>
<line x1="692.5" y1="84.2" x2="692.5" y2="92.53" stroke="#000" stroke-width="1"/>
<text x="692" y="559.4" font-size="16.67" text-anchor="middle">−80</text>
<line x1="768.5" y1="537.8" x2="768.5" y2="529.47" stroke="#000" stroke-width="1"/>
<line x1="768.5" y1="84.2" x2="768.5" y2="92.53" stroke="#000" stroke-width="1"/>
<text x="767.62" y="559.4" font-size="16.67" text-anchor="middle">−60</text>
<line x1="843.5" y1="537.8" x2="843.5" y2="529.47" stroke="#000" stroke-width="1"/>
<line x1="843.5" y1="84.2" x2="843.5" y2="92.53" stroke="#000" stroke-width="1"/>
<text x="843.24" y="559.4" font-size="16.67" text-anchor="middle">−40</text>
<line x1="919.5" y1="537.8" x2="919.5" y2="529.47" stroke="#000" stroke-width="1"/>
<line x1="919.5" y1="84.2" x2="919.5" y2="92.53" stroke="#000" stroke-width="1"/>
<text x="918.85" y="559.4" font-size="16.67" text-anchor="middle">−20</text>
<line x1="994.5" y1="537.8" x2="994.5" y2="529.47" stroke="#000" stroke-width="1"/>
<line x1="994.5" y1="84.2" x2="994.5" y2="92.53" stroke="#000" stroke-width="1"/>
<text x="994.47" y="559.4" font-size="16.67" text-anchor="middle">0</text>
<line x1="1070.5" y1="537.8" x2="1070.5" y2="529.47" stroke="#000" stroke-width="1"/>
<line x1="1070.5" y1="84.2" x2="1070.5" y2="92.53" stroke="#000" stroke-width="1"/>
<text x="1070.09" y="559.4" font-size="16.67" text-anchor="middle">20</text>
<line x1="673.1" y1="538.5" x2="681.43" y2="538.5" stroke="#000" stroke-width="1"/>
<line x1="1126.8" y1="538.5" x2="1118.47" y2="538.5" stroke="#000" stroke-width="1"/>
<text x="663.5" y="543.2" font-size="16.67" text-anchor="end">−60</text>
<line x1="673.1" y1="462.5" x2="681.43" y2="462.5" stroke="#000" stroke-width="1"/>
<line x1="1126.8" y1="462.5" x2="1118.47" y2="462.5" stroke="#000" stroke-width="1"/>
<text x="663.5" y="467.6" font-size="16.67" text-anchor="end">−40</text>
<line x1="673.1" y1="387.5" x2="681.43" y2="387.5" stroke="#000" stroke-width="1"/>
<line x1="1126.8" y1="387.5" x2="1118.47" y2="387.5" stroke="#000" stroke-width="1"/>
<text x="663.5" y="392" font-size="16.67" text-anchor="end">−20</text>
<line x1="673.1" y1="311.5" x2="681.43" y2="311.5" stroke="#000" stroke-width="1"/>
<line x1="1126.8" y1="311.5" x2="1118.47" y2="311.5" stroke="#000" stroke-width="1"/>
<text x="663.5" y="316.4" font-size="16.67" text-anchor="end">0</text>
<line x1="673.1" y1="235.5" x2="681.43" y2="235.5" stroke="#000" stroke-width="1"/>
<line x1="1126.8" y1="235.5" x2="1118.47" y2="235.5" stroke="#000" stroke-width="1"/>
<text x="663.5" y="240.8" font-size="16.67" text-anchor="end">20</text>
<line x1="673.1" y1="160.5" x2="681.43" y2="160.5" stroke="#000" stroke-width="1"/>
<line x1="1126.8" y1="160.5" x2="1118.47" y2="160.5" stroke="#000" stroke-width="1"/>
<text x="663.5" y="165.2" font-size="16.67" text-anchor="end">40</text>
<line x1="673.1" y1="84.5" x2="681.43" y2="84.5" stroke="#000" stroke-width="1"/>
<line x1="1126.8" y1="84.5" x2="1118.47" y2="84.5" stroke="#000" stroke-width="1"/>
<text x="663.5" y="89.6" font-size="16.67" text-anchor="end">60</text>
<text x="899.95" y="73.2" font-size="23.2" text-anchor="middle">Hodogram(V2_V1 MVAB frame)</text>
<text x="899.95" y="588.9" font-size="16.67" text-anchor="middle">V2(km/s)</text>
<text x="614" y="313.5" font-size="16.67" text-anchor="middle" transform="rotate(-90 614 313.5)">V1(km/s)</text>
<line x1="1229.5" y1="537.8" x2="1229.5" y2="529.47" stroke="#000" stroke-width="1"/>
<line x1="1229.5" y1="84.2" x2="1229.5" y2="92.53" stroke="#000" stroke-width="1"/>
<text x="1229.3" y="559.4" font-size="16.67" text-anchor="middle">240</text>
<line x1="1286.5" y1="537.8" x2="1286.5" y2="529.47" stroke="#000" stroke-width="1"/>
<line x1="1286.5" y1="84.2" x2="1286.5" y2="92.53" stroke="#000" stroke-width="1"/>
<text x="1286.01" y="559.4" font-size="16.67" text-anchor="middle">260</text>
<line x1="1343.5" y1="537.8" x2="1343.5" y2="529.47" stroke="#000" stroke-width="1"/>
<line x1="1343.5" y1="84.2" x2="1343.5" y2="92.53" stroke="#000" stroke-width="1"/>
<text x="1342.72" y="559.4" font-size="16.67" text-anchor="middle">280</text>
<line x1="1399.5" y1="537.8" x2="1399.5" y2="529.47" stroke="#000" stroke-width="1"/>
<line x1="1399.5" y1="84.2" x2="1399.5" y2="92.53" stroke="#000" stroke-width="1"/>
<text x="1399.44" y="559.4" font-size="16.67" text-anchor="middle">300</text>
<line x1="1456.5" y1="537.8" x2="1456.5" y2="529.47" stroke="#000" stroke-width="1"/>
<line x1="1456.5" y1="84.2" x2="1456.5" y2="92.53" stroke="#000" stroke-width="1"/>
<text x="1456.15" y="559.4" font-size="16.67" text-anchor="middle">320</text>
<line x1="1513.5" y1="537.8" x2="1513.5" y2="529.47" stroke="#000" stroke-width="1"/>
<line x1="1513.5" y1="84.2" x2="1513.5" y2="92.53" stroke="#000" stroke-width="1"/>
<text x="1512.86" y="559.4" font-size="16.67" text-anchor="middle">340</text>
<line x1="1570.5" y1="537.8" x2="1570.5" y2="529.47" stroke="#000" stroke-width="1"/>
<line x1="1570.5" y1="84.2" x2="1570.5" y2="92.53" stroke="#000" stroke-width="1"/>
<text x="1569.58" y="559.4" font-size="16.67" text-anchor="middle">360</text>
<line x1="1626.5" y1="537.8" x2="1626.5" y2="529.47" stroke="#000" stroke-width="1"/>
<line x1="1626.5" y1="84.2" x2="1626.5" y2="92.53" stroke="#000" stroke-width="1"/>
<text x="1626.29" y="559.4" font-size="16.67" text-anchor="middle">380</text>
<line x1="1683.5" y1="537.8" x2="1683.5" y2="529.47" stroke="#000" stroke-width="1"/>
<line x1="1683.5" y1="84.2" x2="1683.5" y2="92.53" stroke="#000" stroke-width="1"/>
<text x="1683" y="559.4" font-size="16.67" text-anchor="middle">400</text>
<line x1="1229.3" y1="538.5" x2="1237.63" y2="538.5" stroke="#000" stroke-width="1"/>
<line x1="1683" y1="538.5" x2="1674.67" y2="538.5" stroke="#000" stroke-width="1"/>
<text x="1219.7" y="543.2" font-size="16.67" text-anchor="end">−80</text>
<line x1="1229.3" y1="481.5" x2="1237.63" y2="481.5" stroke="#000" stroke-width="1"/>
<line x1="1683" y1="481.5" x2="1674.67" y2="481.5" stroke="#000" stroke-width="1"/>
<text x="1219.7" y="486.5" font-size="16.67" text-anchor="end">−60</text>
<line x1="1229.3" y1="424.5" x2="1237.63" y2="424.5" stroke="#000" stroke-width="1"/>
<line x1="1683" y1="424.5" x2="1674.67" y2="424.5" stroke="#000" stroke-width="1"/>
<text x="1219.7" y="429.8" font-size="16.67" text-anchor="end">−40</text>
<line x1="1229.3" y1="368.5" x2="1237.63" y2="368.5" stroke="#000" stroke-width="1"/>
<line x1="1683" y1="368.5" x2="1674.67" y2="368.5" stroke="#000" stroke-width="1"/>
<text x="1219.7" y="373.1" font-size="16.67" text-anchor="end">−20</text>
<line x1="1229.3" y1="311.5" x2="1237.63" y2="311.5" stroke="#000" stroke-width="1"/>
<line x1="1683" y1="311.5" x2="1674.67" y2="311.5" stroke="#000" stroke-width="1"/>
<text x="1219.7" y="316.4" font-size="16.67" text-anchor="end">0</text>
<line x1="1229.3" y1="254.5" x2="1237.63" y2="254.5" stroke="#000" stroke-width="1"/>
<line x1="1683" y1="254.5" x2="1674.67" y2="254.5" stroke="#000" stroke-width="1"/>
<text x="1219.7" y="259.7" font-size="16.67" text-anchor="end">20</text>
<line x1="1229.3" y1="198.5" x2="1237.63" y2="198.5" stroke="#000" stroke-width="1"/>
<line x1="1683" y1="198.5" x2="1674.67" y2="198.5" stroke="#000" stroke-width="1"/>
<text x="1219.7" y="203" font-size="16.67" text-anchor="end">40</text>
<line x1="1229.3" y1="141.5" x2="1237.63" y2="141.5" stroke="#000" stroke-width="1"/>
<line x1="1683" y1="141.5" x2="1674.67" y2="141.5" stroke="#000" stroke-width="1"/>
<text x="1219.7" y="146.3" font-size="16.67" text-anchor="end">60</text>
<line x1="1229.3" y1="84.5" x2="1237.63" y2="84.5" stroke="#000" stroke-width="1"/>
<line x1="1683" y1="84.5" x2="1674.67" y2="84.5" stroke="#000" stroke-width="1"/>
<text x="1219.7" y="89.6" font-size="16.67" text-anchor="end">80</text>
<text x="1456.15" y="73.2" font-size="23.2" text-anchor="middle">Hodogram(V3_V1 MVAB frame)</text>
<text x="1456.15" y="588.9" font-size="16.67" text-anchor="middle">V3(km/s)</text>
<text x="1170.2" y="313.5" font-size="16.67" text-anchor="middle" transform="rotate(-90 1170.2 313.5)">V1(km/s)</text>
<line x1="164.5" y1="1115.8" x2="164.5" y2="1107.47" stroke="#000" stroke-width="1"/>
<line x1="164.5" y1="662" x2="164.5" y2="670.33" stroke="#000" stroke-width="1"/>
<text x="164.02" y="1137.4" font-size="16.67" text-anchor="middle">0</text>
<line x1="218.5" y1="1115.8" x2="218.5" y2="1107.47" stroke="#000" stroke-width="1"/>
<line x1="218.5" y1="662" x2="218.5" y2="670.33" stroke="#000" stroke-width="1"/>
<text x="217.93" y="1137.4" font-size="16.67" text-anchor="middle">50</text>
<line x1="272.5" y1="1115.8" x2="272.5" y2="1107.47" stroke="#000" stroke-width="1"/>
<line x1="272.5" y1="662" x2="272.5" y2="670.33" stroke="#000" stroke-width="1"/>
<text x="271.84" y="1137.4" font-size="16.67" text-anchor="middle">100</text>
<line x1="326.5" y1="1115.8" x2="326.5" y2="1107.47" stroke="#000" stroke-width="1"/>
<line x1="326.5" y1="662" x2="326.5" y2="670.33" stroke="#000" stroke-width="1"/>
<text x="325.74" y="1137.4" font-size="16.67" text-anchor="middle">150</text>
<line x1="380.5" y1="1115.8" x2="380.5" y2="1107.47" stroke="#000" stroke-width="1"/>
<line x1="380.5" y1="662" x2="380.5" y2="670.33" stroke="#000" stroke-width="1"/>
<text x="379.65" y="1137.4" font-size="16.67" text-anchor="middle">200</text>
<line x1="434.5" y1="1115.8" x2="434.5" y2="1107.47" stroke="#000" stroke-width="1"/>
<line x1="434.5" y1="662" x2="434.5" y2="670.33" stroke="#000" stroke-width="1"/>
<text x="433.56" y="1137.4" font-size="16.67" text-anchor="middle">250</text>
<line x1="487.5" y1="1115.8" x2="487.5" y2="1107.47" stroke="#000" stroke-width="1"/>
<line x1="487.5" y1="662" x2="487.5" y2="670.33" stroke="#000" stroke-width="1"/>
<text x="487.47" y="1137.4" font-size="16.67" text-anchor="middle">300</text>
<line x1="541.5" y1="1115.8" x2="541.5" y2="1107.47" stroke="#000" stroke-width="1"/>
<line x1="541.5" y1="662" x2="541.5" y2="670.33" stroke="#000" stroke-width="1"/>
<text x="541.38" y="1137.4" font-size="16.67" text-anchor="middle">350</text>
<line x1="116.9" y1="1068.5" x2="125.23" y2="1068.5" stroke="#000" stroke-width="1"/>
<line x1="570.6" y1="1068.5" x2="562.27" y2="1068.5" stroke="#000" stroke-width="1"/>
<text x="107.3" y="1073.1" font-size="16.67" text-anchor="end">0</text>
<line x1="116.9" y1="1014.5" x2="125.23" y2="1014.5" stroke="#000" stroke-width="1"/>
<line x1="570.6" y1="1014.5" x2="562.27" y2="1014.5" stroke="#000" stroke-width="1"/>
<text x="107.3" y="1019.43" font-size="16.67" text-anchor="end">50</text>
<line x1="116.9" y1="960.5" x2="125.23" y2="960.5" stroke="#000" stroke-width="1"/>
<line x1="570.6" y1="960.5" x2="562.27" y2="960.5" stroke="#000" stroke-width="1"/>
<text x="107.3" y="965.75" font-size="16.67" text-anchor="end">100</text>
<line x1="116.9" y1="907.5" x2="125.23" y2="907.5" stroke="#000" stroke-width="1"/>
<line x1="570.6" y1="907.5" x2="562.27" y2="907.5" stroke="#000" stroke-width="1"/>
<text x="107.3" y="912.07" font-size="16.67" text-anchor="end">150</text>
<line x1="116.9" y1="853.5" x2="125.23" y2="853.5" stroke="#000" stroke-width="1"/>
<line x1="570.6" y1="853.5" x2="562.27" y2="853.5" stroke="#000" stroke-width="1"/>
<text x="107.3" y="858.39" font-size="16.67" text-anchor="end">200</text>
<line x1="116.9" y1="799.5" x2="125.23" y2="799.5" stroke="#000" stroke-width="1"/>
<line x1="570.6" y1="799.5" x2="562.27" y2="799.5" stroke="#000" stroke-width="1"/>
<text x="107.3" y="804.71" font-size="16.67" text-anchor="end">250</text>
<line x1="116.9" y1="746.5" x2="125.23" y2="746.5" stroke="#000" stroke-width="1"/>
<line x1="570.6" y1="746.5" x2="562.27" y2="746.5" stroke="#000" stroke-width="1"/>
<text x="107.3" y="751.03" font-size="16.67" text-anchor="end">300</text>
<line x1="116.9" y1="692.5" x2="125.23" y2="692.5" stroke="#000" stroke-width="1"/>
<line x1="570.6" y1="692.5" x2="562.27" y2="692.5" stroke="#000" stroke-width="1"/>
<text x="107.3" y="697.35" font-size="16.67" text-anchor="end">350</text>
<text x="343.75" y="651" font-size="23.2" text-anchor="middle">WalenTest</text>
<text x="343.75" y="1167.7" font-size="16.67" text-anchor="middle">V<tspan font-family="'Liberation Serif', 'DejaVu Serif', serif" font-style="italic" font-size="11.5" dy="2">A</tspan><tspan dy="-2">(km/s)</tspan></text>
<text x="58" y="891.4" font-size="16.67" text-anchor="middle" transform="rotate(-90 58 891.4)">V<tspan font-family="'Liberation Serif', 'DejaVu Serif', serif" font-style="italic" font-size="12.5" letter-spacing="0.8" dy="2">remaining</tspan><tspan dy="-2">(km/s)</tspan></text>
<line x1="673.5" y1="1115.8" x2="673.5" y2="1107.47" stroke="#000" stroke-width="1"/>
<line x1="673.5" y1="662" x2="673.5" y2="670.33" stroke="#000" stroke-width="1"/>
<text x="673.1" y="1137.4" font-size="16.67" text-anchor="middle">0</text>
<line x1="764.5" y1="1115.8" x2="764.5" y2="1107.47" stroke="#000" stroke-width="1"/>
<line x1="764.5" y1="662" x2="764.5" y2="670.33" stroke="#000" stroke-width="1"/>
<text x="763.84" y="1137.4" font-size="16.67" text-anchor="middle">20</text>
<line x1="855.5" y1="1115.8" x2="855.5" y2="1107.47" stroke="#000" stroke-width="1"/>
<line x1="855.5" y1="662" x2="855.5" y2="670.33" stroke="#000" stroke-width="1"/>
<text x="854.58" y="1137.4" font-size="16.67" text-anchor="middle">40</text>
<line x1="945.5" y1="1115.8" x2="945.5" y2="1107.47" stroke="#000" stroke-width="1"/>
<line x1="945.5" y1="662" x2="945.5" y2="670.33" stroke="#000" stroke-width="1"/>
<text x="945.32" y="1137.4" font-size="16.67" text-anchor="middle">60</text>
<line x1="1036.5" y1="1115.8" x2="1036.5" y2="1107.47" stroke="#000" stroke-width="1"/>
<line x1="1036.5" y1="662" x2="1036.5" y2="670.33" stroke="#000" stroke-width="1"/>
<text x="1036.06" y="1137.4" font-size="16.67" text-anchor="middle">80</text>
<line x1="1127.5" y1="1115.8" x2="1127.5" y2="1107.47" stroke="#000" stroke-width="1"/>
<line x1="1127.5" y1="662" x2="1127.5" y2="670.33" stroke="#000" stroke-width="1"/>
<text x="1126.8" y="1137.4" font-size="16.67" text-anchor="middle">100</text>
<line x1="673.1" y1="1116.5" x2="681.43" y2="1116.5" stroke="#000" stroke-width="1"/>
<line x1="1126.8" y1="1116.5" x2="1118.47" y2="1116.5" stroke="#000" stroke-width="1"/>
<text x="663.5" y="1121.2" font-size="16.67" text-anchor="end">−20</text>
<line x1="673.1" y1="1025.5" x2="681.43" y2="1025.5" stroke="#000" stroke-width="1"/>
<line x1="1126.8" y1="1025.5" x2="1118.47" y2="1025.5" stroke="#000" stroke-width="1"/>
<text x="663.5" y="1030.44" font-size="16.67" text-anchor="end">0</text>
<line x1="673.1" y1="934.5" x2="681.43" y2="934.5" stroke="#000" stroke-width="1"/>
<line x1="1126.8" y1="934.5" x2="1118.47" y2="934.5" stroke="#000" stroke-width="1"/>
<text x="663.5" y="939.68" font-size="16.67" text-anchor="end">20</text>
<line x1="673.1" y1="844.5" x2="681.43" y2="844.5" stroke="#000" stroke-width="1"/>
<line x1="1126.8" y1="844.5" x2="1118.47" y2="844.5" stroke="#000" stroke-width="1"/>
<text x="663.5" y="848.92" font-size="16.67" text-anchor="end">40</text>
<line x1="673.1" y1="753.5" x2="681.43" y2="753.5" stroke="#000" stroke-width="1"/>
<line x1="1126.8" y1="753.5" x2="1118.47" y2="753.5" stroke="#000" stroke-width="1"/>
<text x="663.5" y="758.16" font-size="16.67" text-anchor="end">60</text>
<line x1="673.1" y1="662.5" x2="681.43" y2="662.5" stroke="#000" stroke-width="1"/>
<line x1="1126.8" y1="662.5" x2="1118.47" y2="662.5" stroke="#000" stroke-width="1"/>
<text x="663.5" y="667.4" font-size="16.67" text-anchor="end">80</text>
<text x="899.95" y="650.2" font-size="23.2" text-anchor="middle">Hodogram (V2_V1 MVAV<tspan font-family="'Liberation Serif', 'DejaVu Serif', serif" font-style="italic" font-size="17" letter-spacing="0.7" dy="3.3">remaining</tspan><tspan dy="-3.3"> frame)</tspan></text>
<text x="899.95" y="1166.9" font-size="16.67" text-anchor="middle">V2(km/s)</text>
<text x="614" y="891.4" font-size="16.67" text-anchor="middle" transform="rotate(-90 614 891.4)">V1(km/s)</text>
<line x1="1275.5" y1="1115.8" x2="1275.5" y2="1107.47" stroke="#000" stroke-width="1"/>
<line x1="1275.5" y1="662" x2="1275.5" y2="670.33" stroke="#000" stroke-width="1"/>
<text x="1274.67" y="1137.4" font-size="16.67" text-anchor="middle">220</text>
<line x1="1365.5" y1="1115.8" x2="1365.5" y2="1107.47" stroke="#000" stroke-width="1"/>
<line x1="1365.5" y1="662" x2="1365.5" y2="670.33" stroke="#000" stroke-width="1"/>
<text x="1365.41" y="1137.4" font-size="16.67" text-anchor="middle">240</text>
<line x1="1456.5" y1="1115.8" x2="1456.5" y2="1107.47" stroke="#000" stroke-width="1"/>
<line x1="1456.5" y1="662" x2="1456.5" y2="670.33" stroke="#000" stroke-width="1"/>
<text x="1456.15" y="1137.4" font-size="16.67" text-anchor="middle">260</text>
<line x1="1547.5" y1="1115.8" x2="1547.5" y2="1107.47" stroke="#000" stroke-width="1"/>
<line x1="1547.5" y1="662" x2="1547.5" y2="670.33" stroke="#000" stroke-width="1"/>
<text x="1546.89" y="1137.4" font-size="16.67" text-anchor="middle">280</text>
<line x1="1638.5" y1="1115.8" x2="1638.5" y2="1107.47" stroke="#000" stroke-width="1"/>
<line x1="1638.5" y1="662" x2="1638.5" y2="670.33" stroke="#000" stroke-width="1"/>
<text x="1637.63" y="1137.4" font-size="16.67" text-anchor="middle">300</text>
<line x1="1229.3" y1="1116.5" x2="1237.63" y2="1116.5" stroke="#000" stroke-width="1"/>
<line x1="1683" y1="1116.5" x2="1674.67" y2="1116.5" stroke="#000" stroke-width="1"/>
<text x="1219.7" y="1121.2" font-size="16.67" text-anchor="end">−20</text>
<line x1="1229.3" y1="1025.5" x2="1237.63" y2="1025.5" stroke="#000" stroke-width="1"/>
<line x1="1683" y1="1025.5" x2="1674.67" y2="1025.5" stroke="#000" stroke-width="1"/>
<text x="1219.7" y="1030.44" font-size="16.67" text-anchor="end">0</text>
<line x1="1229.3" y1="934.5" x2="1237.63" y2="934.5" stroke="#000" stroke-width="1"/>
<line x1="1683" y1="934.5" x2="1674.67" y2="934.5" stroke="#000" stroke-width="1"/>
<text x="1219.7" y="939.68" font-size="16.67" text-anchor="end">20</text>
<line x1="1229.3" y1="844.5" x2="1237.63" y2="844.5" stroke="#000" stroke-width="1"/>
<line x1="1683" y1="844.5" x2="1674.67" y2="844.5" stroke="#000" stroke-width="1"/>
<text x="1219.7" y="848.92" font-size="16.67" text-anchor="end">40</text>
<line x1="1229.3" y1="753.5" x2="1237.63" y2="753.5" stroke="#000" stroke-width="1"/>
<line x1="1683" y1="753.5" x2="1674.67" y2="753.5" stroke="#000" stroke-width="1"/>
<text x="1219.7" y="758.16" font-size="16.67" text-anchor="end">60</text>
<line x1="1229.3" y1="662.5" x2="1237.63" y2="662.5" stroke="#000" stroke-width="1"/>
<line x1="1683" y1="662.5" x2="1674.67" y2="662.5" stroke="#000" stroke-width="1"/>
<text x="1219.7" y="667.4" font-size="16.67" text-anchor="end">80</text>
<text x="1456.15" y="650.2" font-size="23.2" text-anchor="middle">Hodogram (V3_V1 MVAV<tspan font-family="'Liberation Serif', 'DejaVu Serif', serif" font-style="italic" font-size="17" letter-spacing="0.7" dy="3.3">remaining</tspan><tspan dy="-3.3"> frame)</tspan></text>
<text x="1456.15" y="1166.9" font-size="16.67" text-anchor="middle">V3(km/s)</text>
<text x="1170.2" y="891.4" font-size="16.67" text-anchor="middle" transform="rotate(-90 1170.2 891.4)">V1(km/s)</text>
<line x1="324.5" y1="1526.8" x2="324.5" y2="1518.47" stroke="#000" stroke-width="1"/>
<line x1="324.5" y1="1305.1" x2="324.5" y2="1313.43" stroke="#000" stroke-width="1"/>
<text x="324.16" y="1549.1" font-size="16.67" text-anchor="middle">12/30 05:46:58</text>
<line x1="546.5" y1="1526.8" x2="546.5" y2="1518.47" stroke="#000" stroke-width="1"/>
<line x1="546.5" y1="1305.1" x2="546.5" y2="1313.43" stroke="#000" stroke-width="1"/>
<text x="545.69" y="1549.1" font-size="16.67" text-anchor="middle">12/30 05:47:13</text>
<line x1="767.5" y1="1526.8" x2="767.5" y2="1518.47" stroke="#000" stroke-width="1"/>
<line x1="767.5" y1="1305.1" x2="767.5" y2="1313.43" stroke="#000" stroke-width="1"/>
<text x="767.23" y="1549.1" font-size="16.67" text-anchor="middle">12/30 05:47:28</text>
<line x1="989.5" y1="1526.8" x2="989.5" y2="1518.47" stroke="#000" stroke-width="1"/>
<line x1="989.5" y1="1305.1" x2="989.5" y2="1313.43" stroke="#000" stroke-width="1"/>
<text x="988.76" y="1549.1" font-size="16.67" text-anchor="middle">12/30 05:47:43</text>
<line x1="1210.5" y1="1526.8" x2="1210.5" y2="1518.47" stroke="#000" stroke-width="1"/>
<line x1="1210.5" y1="1305.1" x2="1210.5" y2="1313.43" stroke="#000" stroke-width="1"/>
<text x="1210.29" y="1549.1" font-size="16.67" text-anchor="middle">12/30 05:47:58</text>
<line x1="1432.5" y1="1526.8" x2="1432.5" y2="1518.47" stroke="#000" stroke-width="1"/>
<line x1="1432.5" y1="1305.1" x2="1432.5" y2="1313.43" stroke="#000" stroke-width="1"/>
<text x="1431.83" y="1549.1" font-size="16.67" text-anchor="middle">12/30 05:48:13</text>
<line x1="1653.5" y1="1526.8" x2="1653.5" y2="1518.47" stroke="#000" stroke-width="1"/>
<line x1="1653.5" y1="1305.1" x2="1653.5" y2="1313.43" stroke="#000" stroke-width="1"/>
<text x="1653.36" y="1549.1" font-size="16.67" text-anchor="middle">12/30 05:48:28</text>
<line x1="117.1" y1="1527.5" x2="125.43" y2="1527.5" stroke="#000" stroke-width="1"/>
<line x1="1682.9" y1="1527.5" x2="1674.57" y2="1527.5" stroke="#000" stroke-width="1"/>
<text x="107.5" y="1532.2" font-size="16.67" text-anchor="end">−60</text>
<line x1="117.1" y1="1499.5" x2="125.43" y2="1499.5" stroke="#000" stroke-width="1"/>
<line x1="1682.9" y1="1499.5" x2="1674.57" y2="1499.5" stroke="#000" stroke-width="1"/>
<text x="107.5" y="1504.49" font-size="16.67" text-anchor="end">−50</text>
<line x1="117.1" y1="1471.5" x2="125.43" y2="1471.5" stroke="#000" stroke-width="1"/>
<line x1="1682.9" y1="1471.5" x2="1674.57" y2="1471.5" stroke="#000" stroke-width="1"/>
<text x="107.5" y="1476.78" font-size="16.67" text-anchor="end">−40</text>
<line x1="117.1" y1="1444.5" x2="125.43" y2="1444.5" stroke="#000" stroke-width="1"/>
<line x1="1682.9" y1="1444.5" x2="1674.57" y2="1444.5" stroke="#000" stroke-width="1"/>
<text x="107.5" y="1449.06" font-size="16.67" text-anchor="end">−30</text>
<line x1="117.1" y1="1416.5" x2="125.43" y2="1416.5" stroke="#000" stroke-width="1"/>
<line x1="1682.9" y1="1416.5" x2="1674.57" y2="1416.5" stroke="#000" stroke-width="1"/>
<text x="107.5" y="1421.35" font-size="16.67" text-anchor="end">−20</text>
<line x1="117.1" y1="1388.5" x2="125.43" y2="1388.5" stroke="#000" stroke-width="1"/>
<line x1="1682.9" y1="1388.5" x2="1674.57" y2="1388.5" stroke="#000" stroke-width="1"/>
<text x="107.5" y="1393.64" font-size="16.67" text-anchor="end">−10</text>
<line x1="117.1" y1="1361.5" x2="125.43" y2="1361.5" stroke="#000" stroke-width="1"/>
<line x1="1682.9" y1="1361.5" x2="1674.57" y2="1361.5" stroke="#000" stroke-width="1"/>
<text x="107.5" y="1365.92" font-size="16.67" text-anchor="end">0</text>
<line x1="117.1" y1="1333.5" x2="125.43" y2="1333.5" stroke="#000" stroke-width="1"/>
<line x1="1682.9" y1="1333.5" x2="1674.57" y2="1333.5" stroke="#000" stroke-width="1"/>
<text x="107.5" y="1338.21" font-size="16.67" text-anchor="end">10</text>
<line x1="117.1" y1="1305.5" x2="125.43" y2="1305.5" stroke="#000" stroke-width="1"/>
<line x1="1682.9" y1="1305.5" x2="1674.57" y2="1305.5" stroke="#000" stroke-width="1"/>
<text x="107.5" y="1310.5" font-size="16.67" text-anchor="end">20</text>
<text x="900" y="1294.1" font-size="23.2" text-anchor="middle">Magnetic Field (RTN Frame)</text>
<text x="58.8" y="1418.45" font-size="16.67" text-anchor="middle" transform="rotate(-90 58.8 1418.45)">B(nT)</text>
<line x1="324.5" y1="1860.45" x2="324.5" y2="1852.12" stroke="#000" stroke-width="1"/>
<line x1="324.5" y1="1638.75" x2="324.5" y2="1647.08" stroke="#000" stroke-width="1"/>
<text x="324.16" y="1882.75" font-size="16.67" text-anchor="middle">12/30 05:46:58</text>
<line x1="546.5" y1="1860.45" x2="546.5" y2="1852.12" stroke="#000" stroke-width="1"/>
<line x1="546.5" y1="1638.75" x2="546.5" y2="1647.08" stroke="#000" stroke-width="1"/>
<text x="545.69" y="1882.75" font-size="16.67" text-anchor="middle">12/30 05:47:13</text>
<line x1="767.5" y1="1860.45" x2="767.5" y2="1852.12" stroke="#000" stroke-width="1"/>
<line x1="767.5" y1="1638.75" x2="767.5" y2="1647.08" stroke="#000" stroke-width="1"/>
<text x="767.23" y="1882.75" font-size="16.67" text-anchor="middle">12/30 05:47:28</text>
<line x1="989.5" y1="1860.45" x2="989.5" y2="1852.12" stroke="#000" stroke-width="1"/>
<line x1="989.5" y1="1638.75" x2="989.5" y2="1647.08" stroke="#000" stroke-width="1"/>
<text x="988.76" y="1882.75" font-size="16.67" text-anchor="middle">12/30 05:47:43</text>
<line x1="1210.5" y1="1860.45" x2="1210.5" y2="1852.12" stroke="#000" stroke-width="1"/>
<line x1="1210.5" y1="1638.75" x2="1210.5" y2="1647.08" stroke="#000" stroke-width="1"/>
<text x="1210.29" y="1882.75" font-size="16.67" text-anchor="middle">12/30 05:47:58</text>
<line x1="1432.5" y1="1860.45" x2="1432.5" y2="1852.12" stroke="#000" stroke-width="1"/>
<line x1="1432.5" y1="1638.75" x2="1432.5" y2="1647.08" stroke="#000" stroke-width="1"/>
<text x="1431.83" y="1882.75" font-size="16.67" text-anchor="middle">12/30 05:48:13</text>
<line x1="1653.5" y1="1860.45" x2="1653.5" y2="1852.12" stroke="#000" stroke-width="1"/>
<line x1="1653.5" y1="1638.75" x2="1653.5" y2="1647.08" stroke="#000" stroke-width="1"/>
<text x="1653.36" y="1882.75" font-size="16.67" text-anchor="middle">12/30 05:48:28</text>
<line x1="117.1" y1="1860.5" x2="125.43" y2="1860.5" stroke="#000" stroke-width="1"/>
<line x1="1682.9" y1="1860.5" x2="1674.57" y2="1860.5" stroke="#000" stroke-width="1"/>
<text x="107.5" y="1865.85" font-size="16.67" text-anchor="end">−10</text>
<line x1="117.1" y1="1829.5" x2="125.43" y2="1829.5" stroke="#000" stroke-width="1"/>
<line x1="1682.9" y1="1829.5" x2="1674.57" y2="1829.5" stroke="#000" stroke-width="1"/>
<text x="107.5" y="1834.18" font-size="16.67" text-anchor="end">0</text>
<line x1="117.1" y1="1797.5" x2="125.43" y2="1797.5" stroke="#000" stroke-width="1"/>
<line x1="1682.9" y1="1797.5" x2="1674.57" y2="1797.5" stroke="#000" stroke-width="1"/>
<text x="107.5" y="1802.51" font-size="16.67" text-anchor="end">10</text>
<line x1="117.1" y1="1765.5" x2="125.43" y2="1765.5" stroke="#000" stroke-width="1"/>
<line x1="1682.9" y1="1765.5" x2="1674.57" y2="1765.5" stroke="#000" stroke-width="1"/>
<text x="107.5" y="1770.84" font-size="16.67" text-anchor="end">20</text>
<line x1="117.1" y1="1734.5" x2="125.43" y2="1734.5" stroke="#000" stroke-width="1"/>
<line x1="1682.9" y1="1734.5" x2="1674.57" y2="1734.5" stroke="#000" stroke-width="1"/>
<text x="107.5" y="1739.16" font-size="16.67" text-anchor="end">30</text>
<line x1="117.1" y1="1702.5" x2="125.43" y2="1702.5" stroke="#000" stroke-width="1"/>
<line x1="1682.9" y1="1702.5" x2="1674.57" y2="1702.5" stroke="#000" stroke-width="1"/>
<text x="107.5" y="1707.49" font-size="16.67" text-anchor="end">40</text>
<line x1="117.1" y1="1670.5" x2="125.43" y2="1670.5" stroke="#000" stroke-width="1"/>
<line x1="1682.9" y1="1670.5" x2="1674.57" y2="1670.5" stroke="#000" stroke-width="1"/>
<text x="107.5" y="1675.82" font-size="16.67" text-anchor="end">50</text>
<line x1="117.1" y1="1639.5" x2="125.43" y2="1639.5" stroke="#000" stroke-width="1"/>
<line x1="1682.9" y1="1639.5" x2="1674.57" y2="1639.5" stroke="#000" stroke-width="1"/>
<text x="107.5" y="1644.15" font-size="16.67" text-anchor="end">60</text>
<text x="900" y="1627.75" font-size="23.2" text-anchor="middle">Magnetic Field (Flux Rope Frame)</text>
<text x="58.8" y="1752.1" font-size="16.67" text-anchor="middle" transform="rotate(-90 58.8 1752.1)">B(nT)</text>
<line x1="324.5" y1="2194.1" x2="324.5" y2="2185.77" stroke="#000" stroke-width="1"/>
<line x1="324.5" y1="1972.4" x2="324.5" y2="1980.73" stroke="#000" stroke-width="1"/>
<text x="324.16" y="2216.4" font-size="16.67" text-anchor="middle">12/30 05:46:58</text>
<line x1="546.5" y1="2194.1" x2="546.5" y2="2185.77" stroke="#000" stroke-width="1"/>
<line x1="546.5" y1="1972.4" x2="546.5" y2="1980.73" stroke="#000" stroke-width="1"/>
<text x="545.69" y="2216.4" font-size="16.67" text-anchor="middle">12/30 05:47:13</text>
<line x1="767.5" y1="2194.1" x2="767.5" y2="2185.77" stroke="#000" stroke-width="1"/>
<line x1="767.5" y1="1972.4" x2="767.5" y2="1980.73" stroke="#000" stroke-width="1"/>
<text x="767.23" y="2216.4" font-size="16.67" text-anchor="middle">12/30 05:47:28</text>
<line x1="989.5" y1="2194.1" x2="989.5" y2="2185.77" stroke="#000" stroke-width="1"/>
<line x1="989.5" y1="1972.4" x2="989.5" y2="1980.73" stroke="#000" stroke-width="1"/>
<text x="988.76" y="2216.4" font-size="16.67" text-anchor="middle">12/30 05:47:43</text>
<line x1="1210.5" y1="2194.1" x2="1210.5" y2="2185.77" stroke="#000" stroke-width="1"/>
<line x1="1210.5" y1="1972.4" x2="1210.5" y2="1980.73" stroke="#000" stroke-width="1"/>
<text x="1210.29" y="2216.4" font-size="16.67" text-anchor="middle">12/30 05:47:58</text>
<line x1="1432.5" y1="2194.1" x2="1432.5" y2="2185.77" stroke="#000" stroke-width="1"/>
<line x1="1432.5" y1="1972.4" x2="1432.5" y2="1980.73" stroke="#000" stroke-width="1"/>
<text x="1431.83" y="2216.4" font-size="16.67" text-anchor="middle">12/30 05:48:13</text>
<line x1="1653.5" y1="2194.1" x2="1653.5" y2="2185.77" stroke="#000" stroke-width="1"/>
<line x1="1653.5" y1="1972.4" x2="1653.5" y2="1980.73" stroke="#000" stroke-width="1"/>
<text x="1653.36" y="2216.4" font-size="16.67" text-anchor="middle">12/30 05:48:28</text>
<line x1="117.1" y1="2194.5" x2="125.43" y2="2194.5" stroke="#000" stroke-width="1"/>
<line x1="1682.9" y1="2194.5" x2="1674.57" y2="2194.5" stroke="#000" stroke-width="1"/>
<text x="107.5" y="2199.5" font-size="16.67" text-anchor="end">−200</text>
<line x1="117.1" y1="2162.5" x2="125.43" y2="2162.5" stroke="#000" stroke-width="1"/>
<line x1="1682.9" y1="2162.5" x2="1674.57" y2="2162.5" stroke="#000" stroke-width="1"/>
<text x="107.5" y="2167.83" font-size="16.67" text-anchor="end">−100</text>
<line x1="117.1" y1="2131.5" x2="125.43" y2="2131.5" stroke="#000" stroke-width="1"/>
<line x1="1682.9" y1="2131.5" x2="1674.57" y2="2131.5" stroke="#000" stroke-width="1"/>
<text x="107.5" y="2136.16" font-size="16.67" text-anchor="end">0</text>
<line x1="117.1" y1="2099.5" x2="125.43" y2="2099.5" stroke="#000" stroke-width="1"/>
<line x1="1682.9" y1="2099.5" x2="1674.57" y2="2099.5" stroke="#000" stroke-width="1"/>
<text x="107.5" y="2104.49" font-size="16.67" text-anchor="end">100</text>
<line x1="117.1" y1="2067.5" x2="125.43" y2="2067.5" stroke="#000" stroke-width="1"/>
<line x1="1682.9" y1="2067.5" x2="1674.57" y2="2067.5" stroke="#000" stroke-width="1"/>
<text x="107.5" y="2072.81" font-size="16.67" text-anchor="end">200</text>
<line x1="117.1" y1="2036.5" x2="125.43" y2="2036.5" stroke="#000" stroke-width="1"/>
<line x1="1682.9" y1="2036.5" x2="1674.57" y2="2036.5" stroke="#000" stroke-width="1"/>
<text x="107.5" y="2041.14" font-size="16.67" text-anchor="end">300</text>
<line x1="117.1" y1="2004.5" x2="125.43" y2="2004.5" stroke="#000" stroke-width="1"/>
<line x1="1682.9" y1="2004.5" x2="1674.57" y2="2004.5" stroke="#000" stroke-width="1"/>
<text x="107.5" y="2009.47" font-size="16.67" text-anchor="end">400</text>
<line x1="117.1" y1="1972.5" x2="125.43" y2="1972.5" stroke="#000" stroke-width="1"/>
<line x1="1682.9" y1="1972.5" x2="1674.57" y2="1972.5" stroke="#000" stroke-width="1"/>
<text x="107.5" y="1977.8" font-size="16.67" text-anchor="end">500</text>
<text x="900" y="1961.4" font-size="23.2" text-anchor="middle">Solar Wind Velocity (RTN Frame)</text>
<text x="48.1" y="2085.75" font-size="16.67" text-anchor="middle" transform="rotate(-90 48.1 2085.75)">Vsw(km/s)</text>
<line x1="324.5" y1="2527.75" x2="324.5" y2="2519.42" stroke="#000" stroke-width="1"/>
<line x1="324.5" y1="2306.05" x2="324.5" y2="2314.38" stroke="#000" stroke-width="1"/>
<text x="324.16" y="2550.05" font-size="16.67" text-anchor="middle">12/30 05:46:58</text>
<line x1="546.5" y1="2527.75" x2="546.5" y2="2519.42" stroke="#000" stroke-width="1"/>
<line x1="546.5" y1="2306.05" x2="546.5" y2="2314.38" stroke="#000" stroke-width="1"/>
<text x="545.69" y="2550.05" font-size="16.67" text-anchor="middle">12/30 05:47:13</text>
<line x1="767.5" y1="2527.75" x2="767.5" y2="2519.42" stroke="#000" stroke-width="1"/>
<line x1="767.5" y1="2306.05" x2="767.5" y2="2314.38" stroke="#000" stroke-width="1"/>
<text x="767.23" y="2550.05" font-size="16.67" text-anchor="middle">12/30 05:47:28</text>
<line x1="989.5" y1="2527.75" x2="989.5" y2="2519.42" stroke="#000" stroke-width="1"/>
<line x1="989.5" y1="2306.05" x2="989.5" y2="2314.38" stroke="#000" stroke-width="1"/>
<text x="988.76" y="2550.05" font-size="16.67" text-anchor="middle">12/30 05:47:43</text>
<line x1="1210.5" y1="2527.75" x2="1210.5" y2="2519.42" stroke="#000" stroke-width="1"/>
<line x1="1210.5" y1="2306.05" x2="1210.5" y2="2314.38" stroke="#000" stroke-width="1"/>
<text x="1210.29" y="2550.05" font-size="16.67" text-anchor="middle">12/30 05:47:58</text>
<line x1="1432.5" y1="2527.75" x2="1432.5" y2="2519.42" stroke="#000" stroke-width="1"/>
<line x1="1432.5" y1="2306.05" x2="1432.5" y2="2314.38" stroke="#000" stroke-width="1"/>
<text x="1431.83" y="2550.05" font-size="16.67" text-anchor="middle">12/30 05:48:13</text>
<line x1="1653.5" y1="2527.75" x2="1653.5" y2="2519.42" stroke="#000" stroke-width="1"/>
<line x1="1653.5" y1="2306.05" x2="1653.5" y2="2314.38" stroke="#000" stroke-width="1"/>
<text x="1653.36" y="2550.05" font-size="16.67" text-anchor="middle">12/30 05:48:28</text>
<line x1="117.1" y1="2528.5" x2="125.43" y2="2528.5" stroke="#000" stroke-width="1"/>
<line x1="1682.9" y1="2528.5" x2="1674.57" y2="2528.5" stroke="#000" stroke-width="1"/>
<text x="107.5" y="2533.15" font-size="16.67" text-anchor="end">0.000</text>
<line x1="117.1" y1="2483.5" x2="125.43" y2="2483.5" stroke="#000" stroke-width="1"/>
<line x1="1682.9" y1="2483.5" x2="1674.57" y2="2483.5" stroke="#000" stroke-width="1"/>
<text x="107.5" y="2488.81" font-size="16.67" text-anchor="end">0.005</text>
<line x1="117.1" y1="2439.5" x2="125.43" y2="2439.5" stroke="#000" stroke-width="1"/>
<line x1="1682.9" y1="2439.5" x2="1674.57" y2="2439.5" stroke="#000" stroke-width="1"/>
<text x="107.5" y="2444.47" font-size="16.67" text-anchor="end">0.010</text>
<line x1="117.1" y1="2395.5" x2="125.43" y2="2395.5" stroke="#000" stroke-width="1"/>
<line x1="1682.9" y1="2395.5" x2="1674.57" y2="2395.5" stroke="#000" stroke-width="1"/>
<text x="107.5" y="2400.13" font-size="16.67" text-anchor="end">0.015</text>
<line x1="117.1" y1="2350.5" x2="125.43" y2="2350.5" stroke="#000" stroke-width="1"/>
<line x1="1682.9" y1="2350.5" x2="1674.57" y2="2350.5" stroke="#000" stroke-width="1"/>
<text x="107.5" y="2355.79" font-size="16.67" text-anchor="end">0.020</text>
<line x1="117.1" y1="2306.5" x2="125.43" y2="2306.5" stroke="#000" stroke-width="1"/>
<line x1="1682.9" y1="2306.5" x2="1674.57" y2="2306.5" stroke="#000" stroke-width="1"/>
<text x="107.5" y="2311.45" font-size="16.67" text-anchor="end">0.025</text>
<text x="900" y="2295.05" font-size="23.2" text-anchor="middle">Plasma Beta</text>
<text x="41.5" y="2419.4" font-size="16.67" text-anchor="middle" transform="rotate(-90 41.5 2419.4)"><tspan font-family="'Liberation Serif', 'DejaVu Serif', serif" font-style="italic" fill="#333">β<tspan font-size="12" dy="3">p</tspan></tspan></text>
<line x1="324.5" y1="2861.4" x2="324.5" y2="2853.07" stroke="#000" stroke-width="1"/>
<line x1="324.5" y1="2639.7" x2="324.5" y2="2648.03" stroke="#000" stroke-width="1"/>
<text x="324.16" y="2883.7" font-size="16.67" text-anchor="middle">12/30 05:46:58</text>
<line x1="546.5" y1="2861.4" x2="546.5" y2="2853.07" stroke="#000" stroke-width="1"/>
<line x1="546.5" y1="2639.7" x2="546.5" y2="2648.03" stroke="#000" stroke-width="1"/>
<text x="545.69" y="2883.7" font-size="16.67" text-anchor="middle">12/30 05:47:13</text>
<line x1="767.5" y1="2861.4" x2="767.5" y2="2853.07" stroke="#000" stroke-width="1"/>
<line x1="767.5" y1="2639.7" x2="767.5" y2="2648.03" stroke="#000" stroke-width="1"/>
<text x="767.23" y="2883.7" font-size="16.67" text-anchor="middle">12/30 05:47:28</text>
<line x1="989.5" y1="2861.4" x2="989.5" y2="2853.07" stroke="#000" stroke-width="1"/>
<line x1="989.5" y1="2639.7" x2="989.5" y2="2648.03" stroke="#000" stroke-width="1"/>
<text x="988.76" y="2883.7" font-size="16.67" text-anchor="middle">12/30 05:47:43</text>
<line x1="1210.5" y1="2861.4" x2="1210.5" y2="2853.07" stroke="#000" stroke-width="1"/>
<line x1="1210.5" y1="2639.7" x2="1210.5" y2="2648.03" stroke="#000" stroke-width="1"/>
<text x="1210.29" y="2883.7" font-size="16.67" text-anchor="middle">12/30 05:47:58</text>
<line x1="1432.5" y1="2861.4" x2="1432.5" y2="2853.07" stroke="#000" stroke-width="1"/>
<line x1="1432.5" y1="2639.7" x2="1432.5" y2="2648.03" stroke="#000" stroke-width="1"/>
<text x="1431.83" y="2883.7" font-size="16.67" text-anchor="middle">12/30 05:48:13</text>
<line x1="1653.5" y1="2861.4" x2="1653.5" y2="2853.07" stroke="#000" stroke-width="1"/>
<line x1="1653.5" y1="2639.7" x2="1653.5" y2="2648.03" stroke="#000" stroke-width="1"/>
<text x="1653.36" y="2883.7" font-size="16.67" text-anchor="middle">12/30 05:48:28</text>
<line x1="117.1" y1="2861.5" x2="125.43" y2="2861.5" stroke="#000" stroke-width="1"/>
<line x1="1682.9" y1="2861.5" x2="1674.57" y2="2861.5" stroke="#000" stroke-width="1"/>
<text x="107.5" y="2866.8" font-size="16.67" text-anchor="end">10</text>
<line x1="117.1" y1="2817.5" x2="125.43" y2="2817.5" stroke="#000" stroke-width="1"/>
<line x1="1682.9" y1="2817.5" x2="1674.57" y2="2817.5" stroke="#000" stroke-width="1"/>
<text x="107.5" y="2822.46" font-size="16.67" text-anchor="end">12</text>
<line x1="117.1" y1="2773.5" x2="125.43" y2="2773.5" stroke="#000" stroke-width="1"/>
<line x1="1682.9" y1="2773.5" x2="1674.57" y2="2773.5" stroke="#000" stroke-width="1"/>
<text x="107.5" y="2778.12" font-size="16.67" text-anchor="end">14</text>
<line x1="117.1" y1="2728.5" x2="125.43" y2="2728.5" stroke="#000" stroke-width="1"/>
<line x1="1682.9" y1="2728.5" x2="1674.57" y2="2728.5" stroke="#000" stroke-width="1"/>
<text x="107.5" y="2733.78" font-size="16.67" text-anchor="end">16</text>
<line x1="117.1" y1="2684.5" x2="125.43" y2="2684.5" stroke="#000" stroke-width="1"/>
<line x1="1682.9" y1="2684.5" x2="1674.57" y2="2684.5" stroke="#000" stroke-width="1"/>
<text x="107.5" y="2689.44" font-size="16.67" text-anchor="end">18</text>
<line x1="117.1" y1="2640.5" x2="125.43" y2="2640.5" stroke="#000" stroke-width="1"/>
<line x1="1682.9" y1="2640.5" x2="1674.57" y2="2640.5" stroke="#000" stroke-width="1"/>
<text x="107.5" y="2645.1" font-size="16.67" text-anchor="end">20</text>
<text x="900" y="2628.7" font-size="23.2" text-anchor="middle">Proton Number Density</text>
<text x="74.8" y="2753.05" font-size="16.67" text-anchor="middle" transform="rotate(-90 74.8 2753.05)">Np(#/cc)</text>
<line x1="324.5" y1="3195.05" x2="324.5" y2="3186.72" stroke="#000" stroke-width="1"/>
<line x1="324.5" y1="2973.35" x2="324.5" y2="2981.68" stroke="#000" stroke-width="1"/>
<text x="324.16" y="3217.35" font-size="16.67" text-anchor="middle">12/30 05:46:58</text>
<line x1="546.5" y1="3195.05" x2="546.5" y2="3186.72" stroke="#000" stroke-width="1"/>
<line x1="546.5" y1="2973.35" x2="546.5" y2="2981.68" stroke="#000" stroke-width="1"/>
<text x="545.69" y="3217.35" font-size="16.67" text-anchor="middle">12/30 05:47:13</text>
<line x1="767.5" y1="3195.05" x2="767.5" y2="3186.72" stroke="#000" stroke-width="1"/>
<line x1="767.5" y1="2973.35" x2="767.5" y2="2981.68" stroke="#000" stroke-width="1"/>
<text x="767.23" y="3217.35" font-size="16.67" text-anchor="middle">12/30 05:47:28</text>
<line x1="989.5" y1="3195.05" x2="989.5" y2="3186.72" stroke="#000" stroke-width="1"/>
<line x1="989.5" y1="2973.35" x2="989.5" y2="2981.68" stroke="#000" stroke-width="1"/>
<text x="988.76" y="3217.35" font-size="16.67" text-anchor="middle">12/30 05:47:43</text>
<line x1="1210.5" y1="3195.05" x2="1210.5" y2="3186.72" stroke="#000" stroke-width="1"/>
<line x1="1210.5" y1="2973.35" x2="1210.5" y2="2981.68" stroke="#000" stroke-width="1"/>
<text x="1210.29" y="3217.35" font-size="16.67" text-anchor="middle">12/30 05:47:58</text>
<line x1="1432.5" y1="3195.05" x2="1432.5" y2="3186.72" stroke="#000" stroke-width="1"/>
<line x1="1432.5" y1="2973.35" x2="1432.5" y2="2981.68" stroke="#000" stroke-width="1"/>
<text x="1431.83" y="3217.35" font-size="16.67" text-anchor="middle">12/30 05:48:13</text>
<line x1="1653.5" y1="3195.05" x2="1653.5" y2="3186.72" stroke="#000" stroke-width="1"/>
<line x1="1653.5" y1="2973.35" x2="1653.5" y2="2981.68" stroke="#000" stroke-width="1"/>
<text x="1653.36" y="3217.35" font-size="16.67" text-anchor="middle">12/30 05:48:28</text>
<line x1="117.1" y1="3195.5" x2="125.43" y2="3195.5" stroke="#000" stroke-width="1"/>
<line x1="1682.9" y1="3195.5" x2="1674.57" y2="3195.5" stroke="#000" stroke-width="1"/>
<text x="107.5" y="3200.45" font-size="16.67" text-anchor="end">0.02</text>
<line x1="117.1" y1="3151.5" x2="125.43" y2="3151.5" stroke="#000" stroke-width="1"/>
<line x1="1682.9" y1="3151.5" x2="1674.57" y2="3151.5" stroke="#000" stroke-width="1"/>
<text x="107.5" y="3156.11" font-size="16.67" text-anchor="end">0.04</text>
<line x1="117.1" y1="3106.5" x2="125.43" y2="3106.5" stroke="#000" stroke-width="1"/>
<line x1="1682.9" y1="3106.5" x2="1674.57" y2="3106.5" stroke="#000" stroke-width="1"/>
<text x="107.5" y="3111.77" font-size="16.67" text-anchor="end">0.06</text>
<line x1="117.1" y1="3062.5" x2="125.43" y2="3062.5" stroke="#000" stroke-width="1"/>
<line x1="1682.9" y1="3062.5" x2="1674.57" y2="3062.5" stroke="#000" stroke-width="1"/>
<text x="107.5" y="3067.43" font-size="16.67" text-anchor="end">0.08</text>
<line x1="117.1" y1="3018.5" x2="125.43" y2="3018.5" stroke="#000" stroke-width="1"/>
<line x1="1682.9" y1="3018.5" x2="1674.57" y2="3018.5" stroke="#000" stroke-width="1"/>
<text x="107.5" y="3023.09" font-size="16.67" text-anchor="end">0.10</text>
<line x1="117.1" y1="2973.5" x2="125.43" y2="2973.5" stroke="#000" stroke-width="1"/>
<line x1="1682.9" y1="2973.5" x2="1674.57" y2="2973.5" stroke="#000" stroke-width="1"/>
<text x="107.5" y="2978.75" font-size="16.67" text-anchor="end">0.12</text>
<text x="727.5" y="2960.25" font-size="23.2" text-anchor="start">Proton Temperature and</text>
<text x="1015.0" y="2960.25" font-size="23.4" font-family="'Liberation Serif', 'DejaVu Serif', serif" font-style="italic">T</text>
<text x="1030.5" y="2964.25" font-size="16" font-family="'Liberation Serif', 'DejaVu Serif', serif" font-style="italic">e</text>
<text x="1038.0" y="2961.25" font-size="23.4" font-family="'Liberation Serif', 'DejaVu Serif', serif">/</text>
<text x="1048.0" y="2960.25" font-size="23.4" font-family="'Liberation Serif', 'DejaVu Serif', serif" font-style="italic">T</text>
<text x="1062.5" y="2964.25" font-size="16" font-family="'Liberation Serif', 'DejaVu Serif', serif" font-style="italic">p</text>
<text x="52.8" y="3086.7" font-size="16.67" text-anchor="middle" transform="rotate(-90 52.8 3086.7)">Tp(<tspan font-family="'Liberation Serif', 'DejaVu Serif', serif">10</tspan><tspan font-family="'Liberation Serif', 'DejaVu Serif', serif" font-size="11.5" dy="-7">6</tspan><tspan dy="7">K)</tspan></text>
<rect x="1603.9" y="1311.9" width="72" height="71.8" fill="#fff" stroke="#000" stroke-width="2.08"/>
<line x1="1612.9" y1="1324.9" x2="1636" y2="1324.9" stroke="#ff0000" stroke-width="2.08"/>
<text x="1651.9" y="1329.7" font-size="15.2" text-anchor="start">Br</text>
<line x1="1612.9" y1="1347.2" x2="1636" y2="1347.2" stroke="#008000" stroke-width="2.08"/>
<text x="1651.9" y="1352" font-size="15.2" text-anchor="start">Bt</text>
<line x1="1612.9" y1="1369.7" x2="1636" y2="1369.7" stroke="#0000ff" stroke-width="2.08"/>
<text x="1651.9" y="1374.5" font-size="15.2" text-anchor="start">Bn</text>
<rect x="1600.9" y="1646.1" width="75.2" height="93.7" fill="#fff" stroke="#000" stroke-width="2.08"/>
<line x1="1609.9" y1="1659" x2="1631.9" y2="1659" stroke="#ff0000" stroke-width="2.08"/>
<text x="1648.8" y="1663.8" font-size="15.2" text-anchor="start">Bx'</text>
<line x1="1609.9" y1="1681" x2="1631.9" y2="1681" stroke="#008000" stroke-width="2.08"/>
<text x="1648.8" y="1685.8" font-size="15.2" text-anchor="start">By'</text>
<line x1="1609.9" y1="1702.9" x2="1631.9" y2="1702.9" stroke="#0000ff" stroke-width="2.08"/>
<text x="1648.8" y="1707.7" font-size="15.2" text-anchor="start">Bz'</text>
<line x1="1609.9" y1="1724.8" x2="1631.9" y2="1724.8" stroke="#000000" stroke-width="2.08"/>
<text x="1648.8" y="1729.6" font-size="15.2" text-anchor="start">|B|</text>
<rect x="1603.9" y="1979" width="72.2" height="71.7" fill="#fff" stroke="#000" stroke-width="2.08"/>
<line x1="1613.1" y1="1992" x2="1634.8" y2="1992" stroke="#ff0000" stroke-width="2.08"/>
<text x="1651.3" y="1996.8" font-size="15.2" text-anchor="start">Vr</text>
<line x1="1613.1" y1="2014.3" x2="1634.8" y2="2014.3" stroke="#008000" stroke-width="2.08"/>
<text x="1651.3" y="2019.1" font-size="15.2" text-anchor="start">Vt</text>
<line x1="1613.1" y1="2036.7" x2="1634.8" y2="2036.7" stroke="#0000ff" stroke-width="2.08"/>
<text x="1651.3" y="2041.5" font-size="15.2" text-anchor="start">Vn</text>
<rect x="123.6" y="2979.9" width="71.7" height="26.8" fill="#fff" stroke="#000" stroke-width="2.08"/>
<line x1="133.9" y1="2992.9" x2="155.9" y2="2992.9" stroke="#0000ff" stroke-width="2.08"/>
<text x="170.9" y="2997.7" font-size="15.2" text-anchor="start">Tp</text>
<rect x="412.5" y="91" width="151.2" height="48.6" fill="#fff" stroke="#000" stroke-width="2.08"/>
<line x1="422.8" y1="103.8" x2="444.1" y2="103.8" stroke="#ff0000" stroke-width="2.08"/>
<circle cx="422.8" cy="103.8" r="5.7" fill="#ff0000" stroke="#000" stroke-width="1.04"/>
<circle cx="444.1" cy="103.8" r="5.7" fill="#ff0000" stroke="#000" stroke-width="1.04"/>
<text x="460.3" y="108.8" font-size="15.2" text-anchor="start">1st half path</text>
<line x1="422.8" y1="126.8" x2="444.1" y2="126.8" stroke="#0000ff" stroke-width="2.08"/>
<path d="M422.8,120.8 L416.8,132.8 L428.8,132.8 Z" fill="#0000ff" stroke="#000" stroke-width="1.04" stroke-linejoin="miter"/>
<path d="M444.1,120.8 L438.1,132.8 L450.1,132.8 Z" fill="#0000ff" stroke="#000" stroke-width="1.04" stroke-linejoin="miter"/>
<text x="460.3" y="131.8" font-size="15.2" text-anchor="start">2nd half path</text>
<rect x="1006.9" y="91" width="113.1" height="59.8" fill="#fff" stroke="#000" stroke-width="2.08"/>
<line x1="1017.4" y1="107.4" x2="1037.3" y2="107.4" stroke="#0000ff" stroke-width="2.08"/>
<circle cx="1017.4" cy="107.4" r="3.4" fill="#0000ff"/>
<circle cx="1037.3" cy="107.4" r="3.4" fill="#0000ff"/>
<line x1="1017.4" y1="133.3" x2="1037.3" y2="133.3" stroke="#ff0000" stroke-width="2.08"/>
<circle cx="1017.4" cy="133.3" r="3.4" fill="#ff0000"/>
<circle cx="1037.3" cy="133.3" r="3.4" fill="#ff0000"/>
<text x="1054" y="110.9" font-size="15.2">B/</text>
<polyline points="1069.4,106.8 1071.4,105.6 1074,113.6 1077.4,99.4 1108,99.4" fill="none" stroke="#000" stroke-width="1.05" stroke-linejoin="miter"/>
<text x="1081.6" y="110.9" font-size="15.5" font-family="'Liberation Serif', 'DejaVu Serif', serif" font-style="italic">μ</text>
<text x="1089.4" y="113.0" font-size="11" font-family="'Liberation Serif', 'DejaVu Serif', serif">0</text>
<text x="1095" y="110.9" font-size="15.5" font-family="'Liberation Serif', 'DejaVu Serif', serif" font-style="italic">ρ</text>
<text x="1054.8" y="137.9" font-size="15.2">V<tspan font-family="'Liberation Serif', 'DejaVu Serif', serif" font-style="italic" font-size="12" dy="3">remaining</tspan></text>
<rect x="1563.1" y="91" width="113.1" height="59.8" fill="#fff" stroke="#000" stroke-width="2.08"/>
<line x1="1573.6" y1="107.4" x2="1593.5" y2="107.4" stroke="#0000ff" stroke-width="2.08"/>
<circle cx="1573.6" cy="107.4" r="3.4" fill="#0000ff"/>
<circle cx="1593.5" cy="107.4" r="3.4" fill="#0000ff"/>
<line x1="1573.6" y1="133.3" x2="1593.5" y2="133.3" stroke="#ff0000" stroke-width="2.08"/>
<circle cx="1573.6" cy="133.3" r="3.4" fill="#ff0000"/>
<circle cx="1593.5" cy="133.3" r="3.4" fill="#ff0000"/>
<text x="1610.2" y="110.9" font-size="15.2">B/</text>
<polyline points="1625.6,106.8 1627.6,105.6 1630.2,113.6 1633.6,99.4 1664.2,99.4" fill="none" stroke="#000" stroke-width="1.05" stroke-linejoin="miter"/>
<text x="1637.8" y="110.9" font-size="15.5" font-family="'Liberation Serif', 'DejaVu Serif', serif" font-style="italic">μ</text>
<text x="1645.6" y="113.0" font-size="11" font-family="'Liberation Serif', 'DejaVu Serif', serif">0</text>
<text x="1651.2" y="110.9" font-size="15.5" font-family="'Liberation Serif', 'DejaVu Serif', serif" font-style="italic">ρ</text>
<text x="1611" y="137.9" font-size="15.2">V<tspan font-family="'Liberation Serif', 'DejaVu Serif', serif" font-style="italic" font-size="12" dy="3">remaining</tspan></text>
<text x="685.7" y="515.5" font-size="18.5" font-family="'Liberation Serif', 'DejaVu Serif', serif" font-style="italic">λ</text>
<text x="694.9" y="518.9" font-size="14.5" font-family="'Liberation Serif', 'DejaVu Serif', serif">1</text>
<text x="703.8" y="520.3" font-size="24" font-family="'Liberation Serif', 'DejaVu Serif', serif">/</text>
<text x="713.8" y="515.5" font-size="18.5" font-family="'Liberation Serif', 'DejaVu Serif', serif" font-style="italic">λ</text>
<text x="722.9" y="518.9" font-size="14.5" font-family="'Liberation Serif', 'DejaVu Serif', serif">2</text>
<text x="735" y="516.7" font-size="18.5">≈</text>
<text x="756.2" y="515.5" font-size="18.75">3.24</text>
<text x="1261.7" y="515.7" font-size="18.5" font-family="'Liberation Serif', 'DejaVu Serif', serif" font-style="italic">λ</text>
<text x="1270.9" y="519.1" font-size="14.5" font-family="'Liberation Serif', 'DejaVu Serif', serif">1</text>
<text x="1279.8" y="520.5" font-size="24" font-family="'Liberation Serif', 'DejaVu Serif', serif">/</text>
<text x="1289.8" y="515.7" font-size="18.5" font-family="'Liberation Serif', 'DejaVu Serif', serif" font-style="italic">λ</text>
<text x="1298.9" y="519.1" font-size="14.5" font-family="'Liberation Serif', 'DejaVu Serif', serif">3</text>
<text x="1311" y="516.9" font-size="18.5">≈</text>
<text x="1332.2" y="515.7" font-size="18.75">62.89</text>
<text x="685.7" y="1091.4" font-size="18.5" font-family="'Liberation Serif', 'DejaVu Serif', serif" font-style="italic">λ</text>
<text x="694.9" y="1094.8" font-size="14.5" font-family="'Liberation Serif', 'DejaVu Serif', serif">1</text>
<text x="703.8" y="1096.2" font-size="24" font-family="'Liberation Serif', 'DejaVu Serif', serif">/</text>
<text x="713.8" y="1091.4" font-size="18.5" font-family="'Liberation Serif', 'DejaVu Serif', serif" font-style="italic">λ</text>
<text x="722.9" y="1094.8" font-size="14.5" font-family="'Liberation Serif', 'DejaVu Serif', serif">2</text>
<text x="735" y="1092.6" font-size="18.5">≈</text>
<text x="756.2" y="1091.4" font-size="18.75">2.87</text>
<text x="1261.7" y="1091.4" font-size="18.5" font-family="'Liberation Serif', 'DejaVu Serif', serif" font-style="italic">λ</text>
<text x="1270.9" y="1094.8" font-size="14.5" font-family="'Liberation Serif', 'DejaVu Serif', serif">1</text>
<text x="1279.8" y="1096.2" font-size="24" font-family="'Liberation Serif', 'DejaVu Serif', serif">/</text>
<text x="1289.8" y="1091.4" font-size="18.5" font-family="'Liberation Serif', 'DejaVu Serif', serif" font-style="italic">λ</text>
<text x="1298.9" y="1094.8" font-size="14.5" font-family="'Liberation Serif', 'DejaVu Serif', serif">3</text>
<text x="1311" y="1092.6" font-size="18.5">≈</text>
<text x="1332.2" y="1091.4" font-size="18.75">25.75</text>
<rect x="124.8" y="669.1" width="138.4" height="71.5" fill="#fff" stroke="#000" stroke-width="2.08"/>
<text x="128.0" y="686.1" font-size="18.75">slope = 0.808</text>
<text x="129.2" y="708.1" font-size="19" font-family="'Liberation Serif', 'DejaVu Serif', serif" font-style="italic">r</text>
<text x="143.0" y="708.1" font-size="18.75">= 0.995</text>
<text x="129.0" y="730.3" font-size="19" font-family="'Liberation Serif', 'DejaVu Serif', serif" font-style="italic">M</text>
<text x="147.0" y="733.8" font-size="13" font-family="'Liberation Serif', 'DejaVu Serif', serif" font-style="italic">A</text>
<text x="163.5" y="730.3" font-size="18.75">= 0.817</text>
<rect x="117" y="84" width="454" height="454" fill="none" stroke="#000" stroke-width="2"/>
<rect x="673" y="84" width="454" height="454" fill="none" stroke="#000" stroke-width="2"/>
<rect x="1229" y="84" width="454" height="454" fill="none" stroke="#000" stroke-width="2"/>
<rect x="117" y="662" width="454" height="454" fill="none" stroke="#000" stroke-width="2"/>
<rect x="673" y="662" width="454" height="454" fill="none" stroke="#000" stroke-width="2"/>
<rect x="1229" y="662" width="454" height="454" fill="none" stroke="#000" stroke-width="2"/>
<rect x="117" y="1305" width="1566" height="222" fill="none" stroke="#000" stroke-width="2"/>
<rect x="117" y="1639" width="1566" height="221" fill="none" stroke="#000" stroke-width="2"/>
<rect x="117" y="1972" width="1566" height="222" fill="none" stroke="#000" stroke-width="2"/>
<rect x="117" y="2306" width="1566" height="222" fill="none" stroke="#000" stroke-width="2"/>
<rect x="117" y="2640" width="1566" height="221" fill="none" stroke="#000" stroke-width="2"/>
<rect x="117" y="2973" width="1566" height="222" fill="none" stroke="#000" stroke-width="2"/>
</svg>
</body></html>
